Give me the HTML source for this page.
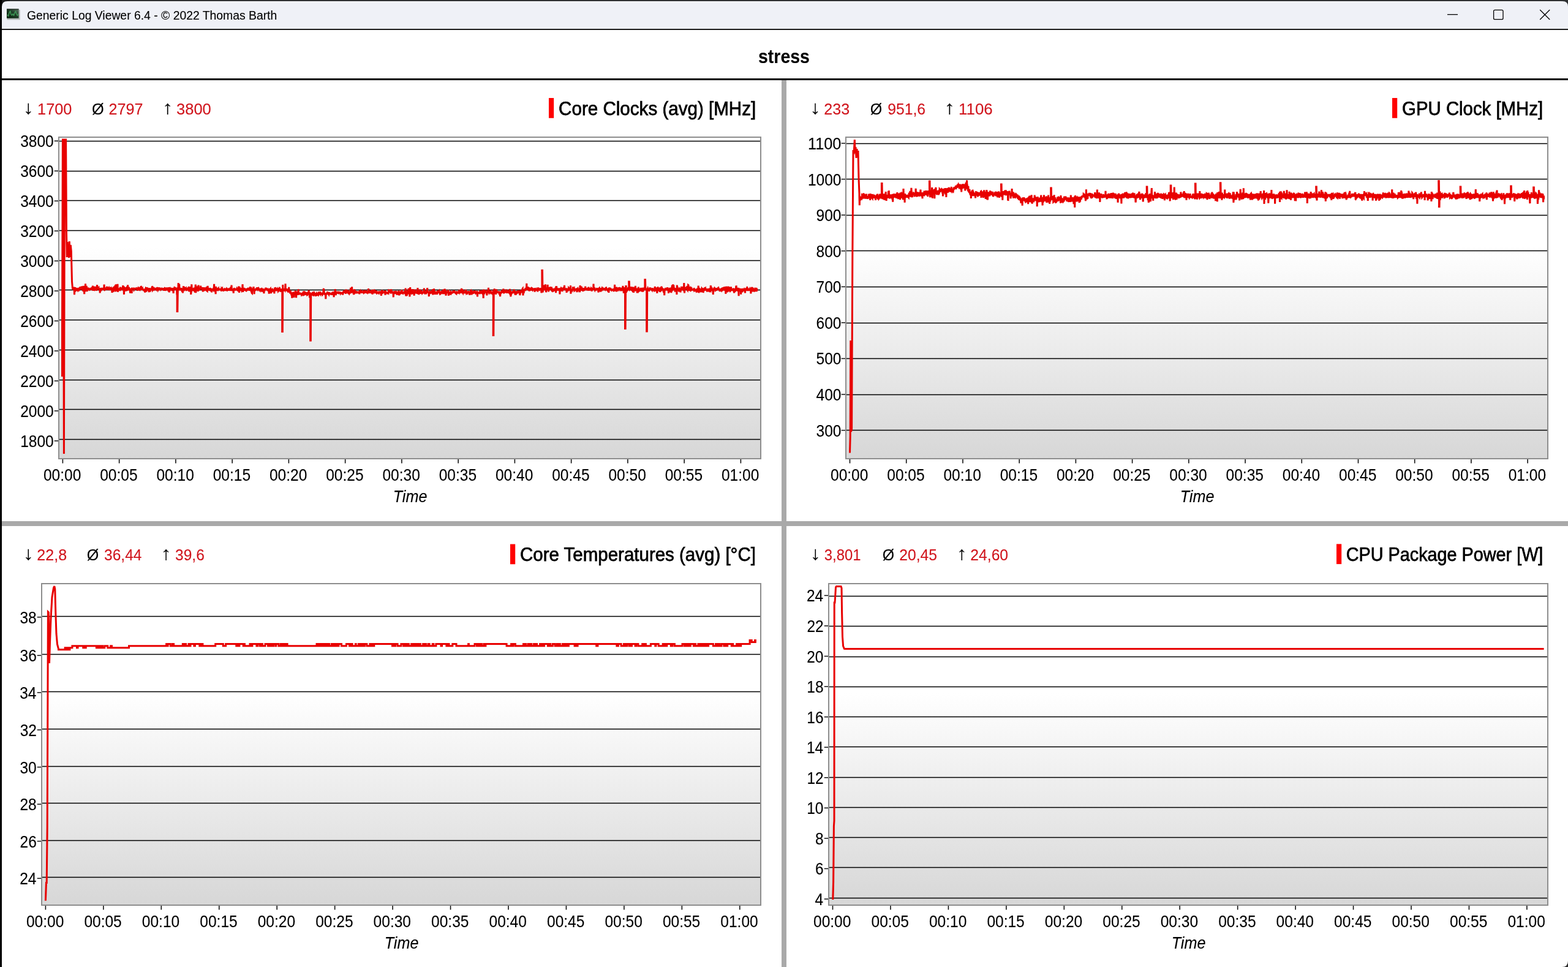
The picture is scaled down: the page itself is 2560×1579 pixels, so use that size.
<!DOCTYPE html>
<html><head><meta charset="utf-8"><title>Generic Log Viewer 6.4</title>
<style>
html,body{margin:0;padding:0;background:#fff;overflow:hidden;}
svg{display:block;}
text{font-family:'Liberation Sans', Arial, sans-serif;}
</style></head><body>
<svg width="2560" height="1579" viewBox="0 0 2560 1579">
<rect x="0" y="0" width="2560" height="1579" fill="#ffffff"/>
<rect x="0" y="0" width="2560" height="3" fill="#2f3133"/>
<rect x="0" y="0" width="16" height="16" fill="#1a1b1c"/>
<rect x="2544" y="0" width="16" height="16" fill="#2f3133"/>
<path d="M3 11 Q3 2 12 2 L2551 2 Q2560 2 2560 10.5 L2560 47 L3 47 Z" fill="#eff1f7"/>
<path d="M2560 1569 Q2560 1579 2550 1579 L2560 1579 Z" fill="#2a2a2a"/>
<rect x="13" y="2" width="2536" height="1" fill="#ffffff" opacity="0.8"/>
<rect x="3" y="47" width="2557" height="2" fill="#1c1c1c"/>
<rect x="0" y="0" width="3" height="1579" fill="#000000"/>
<defs><linearGradient id="icg" x1="0" y1="1" x2="1" y2="0"><stop offset="0" stop-color="#06200c"/><stop offset="0.55" stop-color="#1d3d26"/><stop offset="1" stop-color="#5d7465"/></linearGradient></defs>
<g><rect x="11.5" y="16" width="21.2" height="16.3" fill="#b4b8b8"/><rect x="11" y="14.6" width="19.6" height="15.2" fill="url(#icg)"/><rect x="11" y="14.6" width="19.6" height="1" fill="#101812"/><polyline points="12,24 13.5,26.5 15,21 16.6,18 18,23.5 19.5,25 21,22.5 22.5,25.5 24,21 25.5,18.3 27,23 28.5,25.5 30,22.5" fill="none" stroke="#3f9a58" stroke-width="1.4" stroke-linejoin="round"/></g>
<text x="44.03" y="31.80" font-size="20" fill="#000" text-anchor="start" font-weight="normal" font-style="normal" textLength="408.23" lengthAdjust="spacingAndGlyphs" stroke="#000" stroke-width="0.12">Generic Log Viewer 6.4 - © 2022 Thomas Barth</text>
<g stroke="#000" stroke-width="1.3" fill="none"><line x1="2363" y1="23.7" x2="2380" y2="23.7"/><rect x="2438.6" y="16.3" width="15.4" height="15.4" rx="2"/><line x1="2514.2" y1="16" x2="2530.2" y2="32"/><line x1="2530.2" y1="16" x2="2514.2" y2="32"/></g>
<text x="1238.00" y="102.50" font-size="32" fill="#000" text-anchor="start" font-weight="bold" font-style="normal" textLength="83.97" lengthAdjust="spacingAndGlyphs" stroke="#000" stroke-width="0.12">stress</text>
<rect x="3" y="128" width="2557" height="3" fill="#000"/>
<rect x="1276" y="131" width="8" height="1448" fill="#a9a9a9"/>
<rect x="3" y="851" width="2557" height="8" fill="#a9a9a9"/>
<defs><linearGradient id="pg" x1="0" y1="0" x2="0" y2="1"><stop offset="0" stop-color="#ffffff"/><stop offset="0.34" stop-color="#ffffff"/><stop offset="1" stop-color="#d7d7d7"/></linearGradient></defs>
<rect x="97" y="225" width="1144" height="523" fill="url(#pg)"/>
<rect x="97" y="229.75" width="1144" height="1.5" fill="#000"/>
<rect x="97" y="278.75" width="1144" height="1.5" fill="#000"/>
<rect x="97" y="326.75" width="1144" height="1.5" fill="#000"/>
<rect x="97" y="375.75" width="1144" height="1.5" fill="#000"/>
<rect x="97" y="424.75" width="1144" height="1.5" fill="#000"/>
<rect x="97" y="472.75" width="1144" height="1.5" fill="#000"/>
<rect x="97" y="521.75" width="1144" height="1.5" fill="#000"/>
<rect x="97" y="570.75" width="1144" height="1.5" fill="#000"/>
<rect x="97" y="619.75" width="1144" height="1.5" fill="#000"/>
<rect x="97" y="667.75" width="1144" height="1.5" fill="#000"/>
<rect x="97" y="716.75" width="1144" height="1.5" fill="#000"/>
<polyline points="101.5,615.0 101.5,534.0 102.4,228.0 103.2,228.0 104.4,741.0 105.6,228.0 107.6,228.0 108.5,380.0 109.2,420.0 110.0,395.0 110.8,418.0 111.6,398.0 112.5,421.0 113.3,394.0 114.2,420.0 115.3,400.0 116.3,410.0 117.5,460.0 118.6,472.0 118.6,471.5 119.0,471.3 119.3,473.2 119.7,471.5 120.0,470.2 120.4,472.0 120.8,469.9 121.1,469.9 121.5,481.3 121.8,472.1 122.2,469.1 122.6,472.6 122.9,469.6 123.3,471.3 123.6,471.6 124.0,471.5 124.4,473.8 124.7,473.5 125.1,472.9 125.4,470.4 125.8,472.6 126.2,472.9 126.5,473.4 126.9,470.9 127.2,473.2 127.6,473.4 128.0,469.8 128.3,475.4 128.7,473.4 129.0,471.7 129.4,470.6 129.8,471.8 130.1,470.3 130.5,470.1 130.8,470.0 131.2,468.2 131.6,473.4 131.9,470.8 132.3,470.4 132.6,473.0 133.0,469.9 133.4,470.9 133.7,467.5 134.1,469.9 134.4,470.5 134.8,471.0 135.2,473.4 135.5,471.8 135.9,475.9 136.2,466.9 136.6,472.5 137.0,470.3 137.3,473.1 137.7,480.2 138.0,470.5 138.4,470.6 138.8,474.2 139.1,470.3 139.5,463.3 139.8,469.5 140.2,476.1 140.6,471.6 140.9,470.3 141.3,466.9 141.6,473.5 142.0,472.3 142.4,475.9 142.7,469.6 143.1,472.4 143.4,469.7 143.8,471.5 144.2,470.9 144.5,469.9 144.9,472.5 145.2,472.5 145.6,472.8 146.0,471.0 146.3,473.2 146.7,471.3 147.0,473.0 147.4,472.1 147.8,471.9 148.1,469.9 148.5,473.6 148.8,472.5 149.2,472.5 149.6,471.4 149.9,469.9 150.3,469.7 150.6,470.2 151.0,472.1 151.4,466.6 151.7,470.8 152.1,474.8 152.4,471.4 152.8,470.9 153.2,470.4 153.5,472.8 153.9,473.1 154.2,471.9 154.6,470.1 155.0,473.0 155.3,472.5 155.7,467.8 156.0,472.2 156.4,472.1 156.8,470.9 157.1,473.5 157.5,473.5 157.8,471.9 158.2,470.9 158.6,465.2 158.9,472.7 159.3,467.9 159.6,472.1 160.0,472.1 160.4,472.9 160.7,470.1 161.1,469.7 161.4,472.8 161.8,470.7 162.2,472.4 162.5,472.1 162.9,471.2 163.2,478.5 163.6,470.2 164.0,472.1 164.3,471.1 164.7,473.2 165.0,473.4 165.4,469.9 165.8,472.5 166.1,472.2 166.5,470.5 166.8,473.6 167.2,471.8 167.6,470.9 167.9,473.1 168.3,470.0 168.6,471.8 169.0,472.1 169.4,471.6 169.7,471.0 170.1,464.5 170.4,473.0 170.8,473.4 171.2,472.9 171.5,470.5 171.9,470.8 172.2,472.2 172.6,473.0 173.0,470.9 173.3,473.0 173.7,470.5 174.0,473.5 174.4,467.8 174.8,471.1 175.1,473.5 175.5,471.3 175.8,471.9 176.2,468.8 176.6,473.5 176.9,470.7 177.3,470.2 177.6,472.9 178.0,471.6 178.4,470.4 178.7,472.5 179.1,473.7 179.4,472.4 179.8,471.1 180.2,470.1 180.5,470.2 180.9,473.1 181.2,471.8 181.6,471.2 182.0,473.2 182.3,472.2 182.7,473.1 183.0,478.0 183.4,472.7 183.8,473.3 184.1,471.0 184.5,470.6 184.8,473.6 185.2,476.5 185.6,473.0 185.9,468.4 186.3,472.9 186.6,472.4 187.0,467.5 187.4,471.7 187.7,470.2 188.1,466.0 188.4,470.6 188.8,476.3 189.2,464.4 189.5,470.0 189.9,471.6 190.2,471.0 190.6,471.8 191.0,470.0 191.3,470.4 191.7,472.7 192.0,463.9 192.4,476.8 192.8,472.5 193.1,472.2 193.5,472.1 193.8,473.7 194.2,470.8 194.6,472.7 194.9,473.0 195.3,473.3 195.6,472.5 196.0,472.8 196.4,468.6 196.7,471.1 197.1,469.8 197.4,472.3 197.8,470.7 198.2,472.4 198.5,472.4 198.9,471.9 199.2,473.7 199.6,472.5 200.0,469.2 200.3,470.8 200.7,466.0 201.0,471.2 201.4,471.9 201.8,473.6 202.1,473.7 202.5,480.8 202.8,472.1 203.2,469.9 203.6,470.4 203.9,470.4 204.3,475.7 204.6,471.9 205.0,469.9 205.4,472.4 205.7,470.9 206.1,471.0 206.4,470.4 206.8,471.3 207.2,473.8 207.5,473.7 207.9,470.1 208.2,471.5 208.6,465.3 209.0,472.7 209.3,473.7 209.7,470.9 210.0,472.3 210.4,468.8 210.8,471.5 211.1,471.3 211.5,472.1 211.8,472.9 212.2,473.8 212.6,478.5 212.9,472.9 213.3,476.2 213.6,472.5 214.0,472.1 214.4,472.9 214.7,473.4 215.1,478.9 215.4,470.9 215.8,470.9 216.2,470.1 216.5,472.0 216.9,471.3 217.2,470.6 217.6,472.8 218.0,469.7 218.3,473.0 218.7,470.4 219.0,473.0 219.4,472.4 219.8,471.1 220.1,472.8 220.5,471.5 220.8,470.2 221.2,471.4 221.6,472.1 221.9,472.8 222.3,470.7 222.6,470.1 223.0,472.7 223.4,469.5 223.7,471.2 224.1,470.1 224.4,473.5 224.8,473.5 225.2,473.0 225.5,471.1 225.9,473.6 226.2,470.8 226.6,471.3 227.0,471.4 227.3,470.6 227.7,473.0 228.0,473.2 228.4,470.5 228.8,468.8 229.1,469.9 229.5,472.0 229.8,473.7 230.2,467.0 230.6,468.3 230.9,472.8 231.3,470.2 231.6,470.4 232.0,473.6 232.4,471.9 232.7,471.4 233.1,473.7 233.4,471.8 233.8,472.7 234.2,473.5 234.5,473.1 234.9,473.3 235.2,473.2 235.6,473.7 236.0,471.9 236.3,473.1 236.7,477.6 237.0,472.8 237.4,472.4 237.8,471.0 238.1,470.1 238.5,470.3 238.8,476.6 239.2,470.1 239.6,472.2 239.9,471.0 240.3,470.8 240.6,474.5 241.0,473.4 241.4,471.1 241.7,473.1 242.1,470.9 242.4,473.5 242.8,472.1 243.2,477.1 243.5,470.1 243.9,473.1 244.2,472.0 244.6,471.0 245.0,476.6 245.3,471.4 245.7,472.7 246.0,470.8 246.4,474.1 246.8,472.4 247.1,470.9 247.5,470.5 247.8,469.9 248.2,473.3 248.6,467.0 248.9,468.7 249.3,473.7 249.6,473.3 250.0,473.0 250.4,474.1 250.7,469.0 251.1,470.5 251.4,471.1 251.8,470.2 252.2,471.8 252.5,471.3 252.9,470.3 253.2,471.7 253.6,473.2 254.0,469.9 254.3,471.6 254.7,472.2 255.0,469.9 255.4,470.9 255.8,471.4 256.1,471.1 256.5,471.5 256.8,468.9 257.2,472.8 257.6,473.7 257.9,472.8 258.3,474.2 258.6,472.6 259.0,470.6 259.4,473.3 259.7,471.5 260.1,469.4 260.4,473.6 260.8,472.0 261.2,473.0 261.5,471.5 261.9,472.3 262.2,471.5 262.6,473.8 263.0,472.6 263.3,470.0 263.7,471.3 264.0,470.3 264.4,472.0 264.8,473.2 265.1,470.6 265.5,473.5 265.8,471.3 266.2,470.5 266.6,473.9 266.9,472.8 267.3,470.7 267.6,474.8 268.0,472.2 268.4,471.3 268.7,471.4 269.1,470.4 269.4,470.5 269.8,472.1 270.2,473.5 270.5,473.6 270.9,473.2 271.2,470.4 271.6,471.1 272.0,470.9 272.3,471.9 272.7,469.7 273.0,473.9 273.4,472.6 273.8,472.6 274.1,471.5 274.5,474.4 274.8,470.5 275.2,476.1 275.6,469.1 275.9,471.2 276.3,477.4 276.6,471.8 277.0,472.5 277.4,473.0 277.7,471.9 278.1,473.3 278.4,471.6 278.8,472.2 279.2,472.1 279.5,471.7 279.9,470.0 280.2,472.9 280.6,472.9 281.0,473.0 281.3,475.1 281.7,472.0 282.0,470.2 282.4,474.8 282.8,471.2 283.1,478.9 283.5,472.6 283.8,471.7 284.2,470.9 284.6,472.3 284.9,470.4 285.3,470.5 285.6,468.8 286.0,470.4 286.4,473.6 286.7,471.6 287.1,473.5 287.4,470.1 287.8,471.2 288.2,473.7 288.5,469.6 288.9,481.4 289.2,473.3 289.2,508.5 289.8,508.5 290.2,480.5 290.5,470.8 290.9,470.8 291.2,462.1 291.6,472.9 292.0,473.6 292.3,470.0 292.7,463.8 293.0,470.9 293.4,474.0 293.8,472.7 294.1,471.5 294.5,473.6 294.8,471.0 295.2,473.8 295.6,471.2 295.9,470.4 296.3,471.8 296.6,474.6 297.0,472.4 297.4,476.9 297.7,472.3 298.1,470.8 298.4,478.5 298.8,471.9 299.2,471.6 299.5,467.2 299.9,471.5 300.2,473.2 300.6,472.1 301.0,472.8 301.3,472.1 301.7,471.2 302.0,471.9 302.4,473.2 302.8,471.1 303.1,471.0 303.5,470.5 303.8,472.5 304.2,472.4 304.6,475.0 304.9,471.9 305.3,471.2 305.6,470.4 306.0,472.4 306.4,473.8 306.7,470.7 307.1,470.3 307.4,472.6 307.8,471.2 308.2,470.5 308.5,473.8 308.9,473.5 309.2,470.4 309.6,476.3 310.0,468.0 310.3,474.5 310.7,472.0 311.0,471.9 311.4,470.5 311.8,480.9 312.1,473.2 312.5,473.7 312.8,464.3 313.2,471.6 313.6,474.1 313.9,470.4 314.3,474.8 314.6,471.6 315.0,473.7 315.4,473.8 315.7,471.8 316.1,471.7 316.4,471.1 316.8,471.0 317.2,471.8 317.5,471.5 317.9,474.2 318.2,477.6 318.6,470.5 319.0,468.2 319.3,464.6 319.7,478.2 320.0,474.8 320.4,473.3 320.8,472.6 321.1,471.5 321.5,470.6 321.8,471.6 322.2,470.3 322.6,472.1 322.9,471.2 323.3,475.9 323.6,472.3 324.0,465.6 324.4,471.4 324.7,471.9 325.1,472.9 325.4,474.4 325.8,470.4 326.2,472.6 326.5,470.3 326.9,471.2 327.2,473.0 327.6,466.7 328.0,469.6 328.3,470.6 328.7,471.6 329.0,473.0 329.4,471.9 329.8,471.0 330.1,469.2 330.5,470.9 330.8,473.1 331.2,476.3 331.6,471.9 331.9,470.6 332.3,470.6 332.6,472.7 333.0,474.9 333.4,473.9 333.7,471.4 334.1,471.1 334.4,472.8 334.8,471.8 335.2,474.1 335.5,472.9 335.9,472.0 336.2,471.5 336.6,473.9 337.0,474.5 337.3,470.9 337.7,471.6 338.0,475.2 338.4,475.5 338.8,470.4 339.1,466.8 339.5,472.6 339.8,472.7 340.2,474.3 340.6,471.8 340.9,471.7 341.3,473.2 341.6,474.3 342.0,471.1 342.4,472.4 342.7,472.1 343.1,473.4 343.4,470.4 343.8,474.5 344.2,475.2 344.5,470.9 344.9,473.5 345.2,471.1 345.6,477.3 346.0,471.5 346.3,473.7 346.7,472.7 347.0,471.8 347.4,473.8 347.8,472.8 348.1,473.3 348.5,473.8 348.8,471.0 349.2,470.0 349.6,463.9 349.9,470.0 350.3,473.3 350.6,473.0 351.0,474.2 351.4,470.7 351.7,469.7 352.1,480.2 352.4,467.9 352.8,472.0 353.2,473.7 353.5,471.7 353.9,473.0 354.2,474.5 354.6,473.3 355.0,472.6 355.3,473.7 355.7,471.4 356.0,470.0 356.4,472.2 356.8,471.5 357.1,473.3 357.5,474.1 357.8,471.3 358.2,472.5 358.6,471.4 358.9,472.5 359.3,473.8 359.6,470.8 360.0,473.2 360.4,471.7 360.7,474.0 361.1,472.4 361.4,475.7 361.8,471.4 362.2,472.0 362.5,471.8 362.9,471.2 363.2,472.7 363.6,473.8 364.0,472.2 364.3,473.9 364.7,474.4 365.0,474.4 365.4,474.1 365.8,472.5 366.1,472.2 366.5,473.3 366.8,472.1 367.2,474.7 367.6,471.0 367.9,471.8 368.3,473.6 368.6,474.9 369.0,472.1 369.4,470.7 369.7,472.3 370.1,472.8 370.4,471.5 370.8,472.0 371.2,471.1 371.5,472.4 371.9,471.6 372.2,474.7 372.6,471.8 373.0,474.5 373.3,471.4 373.7,472.3 374.0,470.6 374.4,473.2 374.8,474.1 375.1,472.7 375.5,471.2 375.8,473.5 376.2,473.4 376.6,468.5 376.9,470.0 377.3,473.2 377.6,473.1 378.0,465.5 378.4,473.7 378.7,473.7 379.1,472.4 379.4,471.3 379.8,474.9 380.2,474.1 380.5,474.5 380.9,473.9 381.2,478.6 381.6,471.8 382.0,472.6 382.3,470.1 382.7,471.9 383.0,471.1 383.4,473.9 383.8,471.7 384.1,474.2 384.5,473.0 384.8,472.9 385.2,470.9 385.6,474.3 385.9,472.5 386.3,472.4 386.6,473.3 387.0,471.1 387.4,471.6 387.7,474.3 388.1,471.6 388.4,470.9 388.8,476.0 389.2,473.2 389.5,470.2 389.9,467.6 390.2,474.6 390.6,477.8 391.0,473.8 391.3,472.1 391.7,471.4 392.0,472.5 392.4,472.5 392.8,472.9 393.1,472.2 393.5,471.8 393.8,472.0 394.2,472.0 394.6,473.6 394.9,474.6 395.3,473.9 395.6,472.5 396.0,464.2 396.4,472.1 396.7,476.8 397.1,474.7 397.4,472.6 397.8,474.2 398.2,473.3 398.5,471.3 398.9,471.3 399.2,472.4 399.6,473.6 400.0,474.5 400.3,471.0 400.7,472.8 401.0,472.8 401.4,473.6 401.8,474.8 402.1,474.9 402.5,474.3 402.8,473.7 403.2,471.2 403.6,472.6 403.9,471.8 404.3,471.8 404.6,471.5 405.0,472.3 405.4,471.6 405.7,473.5 406.1,472.0 406.4,473.9 406.8,471.5 407.2,471.0 407.5,474.8 407.9,471.1 408.2,473.1 408.6,471.4 409.0,472.2 409.3,471.5 409.7,468.5 410.0,473.9 410.4,473.5 410.8,473.2 411.1,478.3 411.5,478.7 411.8,472.6 412.2,474.5 412.6,471.9 412.9,471.6 413.3,474.0 413.6,471.7 414.0,468.2 414.4,473.6 414.7,471.2 415.1,480.3 415.4,471.5 415.8,472.4 416.2,473.7 416.5,474.8 416.9,473.1 417.2,472.5 417.6,472.5 418.0,473.0 418.3,472.8 418.7,471.3 419.0,471.3 419.4,473.3 419.8,469.2 420.1,472.6 420.5,473.0 420.8,471.1 421.2,470.8 421.6,473.5 421.9,472.6 422.3,472.6 422.6,473.5 423.0,472.4 423.4,473.2 423.7,471.3 424.1,474.3 424.4,474.6 424.8,472.3 425.2,471.5 425.5,474.5 425.9,472.4 426.2,474.3 426.6,471.4 427.0,471.3 427.3,473.4 427.7,476.6 428.0,474.9 428.4,473.2 428.8,473.9 429.1,471.1 429.5,474.3 429.8,474.2 430.2,473.0 430.6,471.6 430.9,479.2 431.3,473.8 431.6,476.2 432.0,472.4 432.4,473.4 432.7,472.0 433.1,473.3 433.4,471.7 433.8,469.9 434.2,473.9 434.5,473.2 434.9,472.8 435.2,471.6 435.6,471.9 436.0,472.0 436.3,471.9 436.7,473.6 437.0,472.8 437.4,474.6 437.8,473.6 438.1,475.2 438.5,475.5 438.8,472.3 439.2,479.7 439.6,472.8 439.9,473.0 440.3,473.5 440.6,474.9 441.0,475.8 441.4,471.8 441.7,471.4 442.1,473.5 442.4,479.1 442.8,475.1 443.2,475.0 443.5,472.1 443.9,471.3 444.2,474.3 444.6,474.9 445.0,474.0 445.3,475.1 445.7,472.5 446.0,474.2 446.4,474.2 446.8,475.3 447.1,475.5 447.5,472.4 447.8,479.3 448.2,473.8 448.6,474.3 448.9,474.0 449.3,469.0 449.6,471.5 450.0,472.8 450.4,472.3 450.7,472.8 451.1,475.1 451.4,473.6 451.8,472.3 452.2,471.8 452.5,475.3 452.9,472.7 453.2,475.3 453.6,474.2 454.0,471.5 454.3,475.3 454.7,474.8 455.0,472.3 455.4,470.2 455.8,472.8 456.1,474.2 456.5,468.7 456.8,475.3 457.2,471.9 457.6,472.7 457.9,475.2 458.3,475.2 458.6,474.8 459.0,471.5 459.4,473.8 459.7,473.9 460.1,475.5 460.4,473.5 460.8,477.7 460.7,541.5 461.3,541.5 461.7,464.9 462.0,474.8 462.4,473.5 462.7,474.5 463.1,474.1 463.5,474.8 463.8,472.8 464.2,471.5 464.5,472.5 464.9,473.6 465.3,474.2 465.6,472.4 466.0,463.2 466.3,472.5 466.7,474.6 467.1,472.4 467.4,472.5 467.8,472.5 468.1,471.2 468.5,474.4 468.9,474.7 469.2,471.8 469.6,475.5 469.9,473.2 470.3,473.3 470.7,475.9 471.0,475.7 471.4,474.3 471.7,468.8 472.1,476.1 472.5,476.1 472.8,474.6 473.2,478.2 473.5,476.2 473.9,479.6 474.3,477.5 474.6,477.1 475.0,479.7 475.3,477.8 475.7,481.2 476.1,481.8 476.4,478.3 476.8,486.7 477.1,478.6 477.5,478.5 477.9,480.1 478.2,481.0 478.6,483.9 478.9,476.6 479.3,481.7 479.7,478.6 480.0,485.9 480.4,481.1 480.7,479.8 481.1,481.3 481.5,478.7 481.8,482.2 482.2,474.5 482.5,478.6 482.9,480.0 483.3,479.9 483.6,486.1 484.0,478.0 484.3,475.6 484.7,479.8 485.1,479.2 485.4,481.5 485.8,479.6 486.1,479.8 486.5,479.2 486.9,481.7 487.2,472.4 487.6,478.5 487.9,479.0 488.3,480.6 488.7,478.3 489.0,479.3 489.4,479.9 489.7,479.9 490.1,477.9 490.5,479.0 490.8,480.4 491.2,478.2 491.5,479.8 491.9,480.3 492.3,481.6 492.6,481.2 493.0,478.9 493.3,479.9 493.7,480.1 494.1,479.8 494.4,479.0 494.8,479.9 495.1,481.9 495.5,481.8 495.9,480.6 496.2,480.7 496.6,475.4 496.9,481.1 497.3,478.8 497.7,477.9 498.0,479.2 498.4,480.3 498.7,481.6 499.1,478.1 499.5,478.3 499.8,481.3 500.2,478.6 500.5,480.8 500.9,480.1 501.3,481.3 501.6,480.9 502.0,480.1 502.3,480.4 502.7,479.3 503.1,476.6 503.4,477.4 503.8,480.6 504.1,473.9 504.5,478.5 504.9,480.5 505.2,479.1 505.6,486.2 505.9,481.6 506.3,477.6 506.7,479.9 506.7,556.0 507.3,556.0 507.7,477.9 508.0,479.9 508.4,482.2 508.7,478.7 509.1,482.5 509.5,479.2 509.8,481.5 510.2,479.4 510.5,478.7 510.9,476.6 511.3,480.8 511.6,480.3 512.0,483.6 512.3,479.9 512.7,479.9 513.1,478.3 513.4,478.8 513.8,480.6 514.1,480.8 514.5,480.5 514.9,478.2 515.2,479.6 515.6,483.8 515.9,480.5 516.3,478.2 516.7,480.0 517.0,479.3 517.4,480.4 517.7,477.9 518.1,479.4 518.5,482.8 518.8,481.1 519.2,481.5 519.5,479.6 519.9,478.9 520.3,478.1 520.6,478.5 521.0,479.7 521.3,479.2 521.7,478.7 522.1,480.5 522.4,479.1 522.8,479.4 523.1,480.1 523.5,478.8 523.9,479.4 524.2,481.1 524.6,479.1 524.9,481.5 525.3,479.2 525.7,479.1 526.0,480.2 526.4,479.3 526.7,478.5 527.1,479.8 527.5,479.0 527.8,477.7 528.2,472.0 528.5,471.0 528.9,478.4 529.3,477.8 529.6,480.9 530.0,479.1 530.3,480.4 530.7,480.6 531.1,478.6 531.4,479.8 531.8,488.3 532.1,480.7 532.5,480.5 532.9,478.7 533.2,479.7 533.6,478.2 533.9,481.1 534.3,478.7 534.7,476.1 535.0,479.7 535.4,479.8 535.7,478.9 536.1,477.8 536.5,480.3 536.8,480.8 537.2,478.6 537.5,477.2 537.9,479.0 538.3,478.1 538.6,481.0 539.0,479.6 539.3,480.7 539.7,478.6 540.1,481.3 540.4,480.7 540.8,478.2 541.1,480.2 541.5,477.7 541.9,479.0 542.2,479.5 542.6,481.6 542.9,478.0 543.3,477.7 543.7,478.4 544.0,478.7 544.4,480.6 544.7,477.6 545.1,485.1 545.5,477.7 545.8,477.7 546.2,476.9 546.5,476.9 546.9,478.8 547.3,472.1 547.6,478.0 548.0,478.9 548.3,482.2 548.7,477.8 549.1,479.0 549.4,477.6 549.8,477.4 550.1,477.7 550.5,477.1 550.9,477.4 551.2,477.8 551.6,479.4 551.9,478.1 552.3,479.5 552.7,478.4 553.0,478.6 553.4,477.5 553.7,477.8 554.1,477.9 554.5,478.8 554.8,476.3 555.2,478.8 555.5,477.6 555.9,479.0 556.3,478.2 556.6,478.4 557.0,477.0 557.3,478.9 557.7,479.0 558.1,480.0 558.4,477.3 558.8,478.6 559.1,478.3 559.5,481.2 559.9,480.4 560.2,477.3 560.6,476.7 560.9,477.4 561.3,475.7 561.7,478.6 562.0,475.9 562.4,477.2 562.7,477.3 563.1,473.7 563.5,475.3 563.8,476.4 564.2,475.2 564.5,479.8 564.9,472.7 565.3,475.2 565.6,477.7 566.0,476.9 566.3,476.7 566.7,475.1 567.1,475.0 567.4,477.3 567.8,477.8 568.1,477.0 568.5,473.7 568.9,478.7 569.2,475.5 569.6,478.4 569.9,479.0 570.3,477.6 570.7,477.9 571.0,475.3 571.4,476.6 571.7,478.2 572.1,479.0 572.5,469.7 572.8,475.8 573.2,477.1 573.5,472.9 573.9,475.8 574.3,475.4 574.6,468.4 575.0,477.5 575.3,478.1 575.7,475.3 576.1,477.1 576.4,477.7 576.8,473.0 577.1,478.5 577.5,481.0 577.9,477.8 578.2,475.9 578.6,472.3 578.9,475.7 579.3,477.1 579.7,476.2 580.0,477.3 580.4,478.6 580.7,476.7 581.1,479.3 581.5,476.6 581.8,476.6 582.2,478.1 582.5,478.1 582.9,477.9 583.3,475.8 583.6,478.5 584.0,475.6 584.3,478.1 584.7,476.6 585.1,478.9 585.4,477.4 585.8,479.1 586.1,477.7 586.5,475.7 586.9,480.3 587.2,476.2 587.6,476.4 587.9,475.9 588.3,478.5 588.7,476.2 589.0,475.8 589.4,475.4 589.7,474.0 590.1,475.1 590.5,476.2 590.8,477.1 591.2,477.1 591.5,478.6 591.9,476.8 592.3,476.7 592.6,478.1 593.0,475.3 593.3,478.3 593.7,476.0 594.1,473.8 594.4,478.1 594.8,477.8 595.1,476.6 595.5,475.3 595.9,478.4 596.2,477.3 596.6,476.1 596.9,475.4 597.3,474.0 597.7,477.6 598.0,476.2 598.4,477.8 598.7,478.7 599.1,477.5 599.5,477.9 599.8,476.3 600.2,477.7 600.5,475.2 600.9,476.2 601.3,477.2 601.6,471.1 602.0,479.1 602.3,476.3 602.7,477.2 603.1,476.8 603.4,477.1 603.8,477.1 604.1,475.8 604.5,475.9 604.9,475.8 605.2,477.6 605.6,475.1 605.9,476.7 606.3,479.2 606.7,473.0 607.0,478.8 607.4,475.5 607.7,476.1 608.1,480.6 608.5,475.8 608.8,474.4 609.2,477.8 609.5,478.8 609.9,472.8 610.3,476.4 610.6,476.0 611.0,475.5 611.3,479.0 611.7,476.5 612.1,478.8 612.4,475.4 612.8,475.8 613.1,479.0 613.5,476.2 613.9,474.0 614.2,478.2 614.6,476.6 614.9,478.0 615.3,478.9 615.7,478.5 616.0,477.8 616.4,478.0 616.7,479.1 617.1,475.8 617.5,477.6 617.8,478.3 618.2,478.7 618.5,476.9 618.9,476.7 619.3,476.7 619.6,476.7 620.0,478.6 620.3,478.0 620.7,476.8 621.1,476.3 621.4,475.7 621.8,478.9 622.1,480.0 622.5,482.8 622.9,476.3 623.2,476.2 623.6,476.7 623.9,473.5 624.3,479.5 624.7,477.8 625.0,477.6 625.4,478.4 625.7,475.3 626.1,477.7 626.5,475.4 626.8,476.7 627.2,476.7 627.5,478.8 627.9,475.8 628.3,475.6 628.6,476.7 629.0,481.7 629.3,478.9 629.7,478.3 630.1,477.2 630.4,477.7 630.8,477.4 631.1,477.4 631.5,478.1 631.9,478.5 632.2,477.7 632.6,479.1 632.9,477.1 633.3,478.2 633.7,478.4 634.0,478.7 634.4,475.3 634.7,475.7 635.1,476.2 635.5,478.0 635.8,472.6 636.2,476.4 636.5,474.3 636.9,477.5 637.3,475.3 637.6,478.7 638.0,476.0 638.3,479.5 638.7,472.4 639.1,476.7 639.4,479.0 639.8,475.8 640.1,476.3 640.5,478.2 640.9,477.1 641.2,477.2 641.6,477.2 641.9,478.2 642.3,485.3 642.7,475.5 643.0,480.1 643.4,479.1 643.7,475.5 644.1,476.8 644.5,475.9 644.8,478.7 645.2,477.9 645.5,475.4 645.9,476.3 646.3,479.7 646.6,478.4 647.0,476.6 647.3,476.8 647.7,481.4 648.1,478.6 648.4,477.8 648.8,481.5 649.1,478.5 649.5,476.6 649.9,478.7 650.2,476.2 650.6,478.8 650.9,474.6 651.3,479.2 651.7,482.3 652.0,476.4 652.4,477.8 652.7,477.0 653.1,477.0 653.5,477.0 653.8,478.1 654.2,477.4 654.5,475.6 654.9,478.8 655.3,479.8 655.6,477.2 656.0,473.2 656.3,478.5 656.7,477.4 657.1,478.4 657.4,478.6 657.8,479.0 658.1,478.1 658.5,477.5 658.9,477.5 659.2,478.9 659.6,477.8 659.9,475.6 660.3,476.9 660.7,476.1 661.0,476.0 661.4,477.4 661.7,476.7 662.1,470.5 662.5,478.4 662.8,483.5 663.2,481.1 663.5,479.2 663.9,475.6 664.3,483.1 664.6,475.9 665.0,476.5 665.3,475.9 665.7,477.1 666.1,477.2 666.4,479.2 666.8,479.1 667.1,470.8 667.5,477.3 667.9,477.9 668.2,479.4 668.6,477.0 668.9,484.5 669.3,478.2 669.7,469.0 670.0,479.3 670.4,478.3 670.7,478.4 671.1,472.3 671.5,476.8 671.8,476.1 672.2,475.5 672.5,479.3 672.9,479.2 673.3,478.9 673.6,477.0 674.0,472.0 674.3,475.7 674.7,477.4 675.1,479.4 675.4,478.2 675.8,478.3 676.1,482.7 676.5,478.7 676.9,476.3 677.2,478.2 677.6,472.5 677.9,477.5 678.3,477.2 678.7,479.1 679.0,475.6 679.4,477.9 679.7,478.0 680.1,479.4 680.5,474.8 680.8,478.2 681.2,478.7 681.5,478.7 681.9,470.1 682.3,478.0 682.6,478.9 683.0,479.4 683.3,479.4 683.7,478.9 684.1,479.5 684.4,479.1 684.8,475.5 685.1,476.9 685.5,472.7 685.9,477.0 686.2,476.0 686.6,477.2 686.9,476.8 687.3,476.3 687.7,479.8 688.0,476.7 688.4,476.6 688.7,476.3 689.1,476.6 689.5,478.7 689.8,478.3 690.2,478.9 690.5,475.6 690.9,479.4 691.3,476.1 691.6,478.0 692.0,476.0 692.3,470.6 692.7,479.4 693.1,475.7 693.4,474.9 693.8,476.7 694.1,479.1 694.5,479.0 694.9,476.5 695.2,475.8 695.6,480.4 695.9,478.3 696.3,475.5 696.7,475.7 697.0,478.7 697.4,472.9 697.7,470.2 698.1,476.8 698.5,478.3 698.8,476.8 699.2,477.8 699.5,475.8 699.9,476.8 700.3,484.2 700.6,475.4 701.0,478.4 701.3,478.4 701.7,477.9 702.1,480.2 702.4,476.9 702.8,477.4 703.1,476.9 703.5,476.7 703.9,478.3 704.2,475.5 704.6,478.1 704.9,478.2 705.3,475.8 705.7,476.0 706.0,479.1 706.4,472.2 706.7,481.5 707.1,475.6 707.5,475.3 707.8,477.2 708.2,480.0 708.5,471.4 708.9,476.5 709.3,476.4 709.6,480.9 710.0,477.6 710.3,478.3 710.7,479.5 711.1,476.5 711.4,475.8 711.8,481.0 712.1,475.9 712.5,478.8 712.9,477.0 713.2,476.1 713.6,481.0 713.9,475.7 714.3,477.8 714.7,475.9 715.0,476.0 715.4,477.8 715.7,478.6 716.1,475.9 716.5,476.0 716.8,475.5 717.2,478.1 717.5,477.3 717.9,478.7 718.3,477.9 718.6,478.4 719.0,480.3 719.3,477.1 719.7,479.3 720.1,478.9 720.4,476.5 720.8,475.6 721.1,479.2 721.5,476.0 721.9,475.6 722.2,475.7 722.6,478.6 722.9,478.8 723.3,478.3 723.7,472.5 724.0,478.3 724.4,478.1 724.7,478.7 725.1,478.8 725.5,478.6 725.8,478.0 726.2,471.5 726.5,477.1 726.9,479.1 727.3,473.0 727.6,477.7 728.0,482.6 728.3,480.0 728.7,475.4 729.1,476.3 729.4,479.0 729.8,476.5 730.1,476.5 730.5,476.4 730.9,478.1 731.2,476.7 731.6,475.8 731.9,473.3 732.3,482.8 732.7,475.9 733.0,476.4 733.4,479.1 733.7,478.7 734.1,477.8 734.5,477.8 734.8,476.6 735.2,481.3 735.5,477.9 735.9,481.6 736.3,477.1 736.6,477.5 737.0,477.8 737.3,478.0 737.7,478.1 738.1,475.8 738.4,478.9 738.8,476.5 739.1,477.4 739.5,476.0 739.9,475.2 740.2,478.5 740.6,474.4 740.9,477.8 741.3,474.0 741.7,477.2 742.0,476.2 742.4,477.7 742.7,477.8 743.1,475.7 743.5,478.3 743.8,476.1 744.2,479.2 744.5,479.3 744.9,479.6 745.3,475.4 745.6,478.2 746.0,478.4 746.3,478.3 746.7,477.8 747.1,478.0 747.4,475.7 747.8,478.1 748.1,479.2 748.5,476.0 748.9,478.4 749.2,476.7 749.6,477.4 749.9,475.6 750.3,475.3 750.7,478.9 751.0,477.8 751.4,475.9 751.7,477.1 752.1,475.7 752.5,477.2 752.8,478.5 753.2,476.6 753.5,470.8 753.9,475.5 754.3,475.1 754.6,472.4 755.0,479.1 755.3,477.8 755.7,478.5 756.1,476.2 756.4,477.5 756.8,476.3 757.1,477.0 757.5,476.3 757.9,476.3 758.2,477.0 758.6,477.6 758.9,477.5 759.3,479.1 759.7,475.6 760.0,476.5 760.4,472.8 760.7,477.2 761.1,476.5 761.5,476.5 761.8,479.1 762.2,478.7 762.5,478.9 762.9,476.2 763.3,477.3 763.6,479.0 764.0,476.1 764.3,477.1 764.7,475.4 765.1,477.3 765.4,476.2 765.8,477.6 766.1,479.2 766.5,479.2 766.9,481.7 767.2,478.3 767.6,475.6 767.9,476.4 768.3,475.8 768.7,479.2 769.0,477.0 769.4,478.0 769.7,474.5 770.1,481.3 770.5,476.0 770.8,476.4 771.2,477.0 771.5,479.0 771.9,478.3 772.3,479.9 772.6,477.9 773.0,478.0 773.3,477.3 773.7,476.8 774.1,475.3 774.4,477.0 774.8,474.1 775.1,477.6 775.5,478.0 775.9,478.4 776.2,475.6 776.6,480.1 776.9,476.9 777.3,478.1 777.7,475.3 778.0,479.1 778.4,475.3 778.7,479.7 779.1,478.9 779.5,484.5 779.8,477.2 780.2,477.6 780.5,477.6 780.9,477.6 781.3,477.7 781.6,477.8 782.0,478.6 782.3,478.7 782.7,478.5 783.1,478.0 783.4,480.2 783.8,474.4 784.1,477.6 784.5,476.2 784.9,478.0 785.2,476.5 785.6,477.0 785.9,477.7 786.3,478.3 786.7,478.1 787.0,477.0 787.4,477.8 787.7,478.5 788.1,477.4 788.5,473.7 788.8,476.3 789.2,486.9 789.5,472.8 789.9,475.3 790.3,480.4 790.6,478.5 791.0,475.9 791.3,475.6 791.7,477.2 792.1,476.3 792.4,473.7 792.8,475.4 793.1,477.5 793.5,476.8 793.9,478.1 794.2,477.5 794.6,477.6 794.9,482.3 795.3,478.9 795.7,476.0 796.0,477.7 796.4,473.4 796.7,476.6 797.1,476.5 797.5,469.8 797.8,476.8 798.2,477.6 798.5,476.3 798.9,476.5 799.3,476.1 799.6,476.9 800.0,475.4 800.3,476.5 800.7,475.8 801.1,475.5 801.4,476.6 801.8,476.9 802.1,478.7 802.5,478.5 802.9,478.9 803.2,479.8 803.6,476.6 803.9,477.7 804.3,476.8 804.7,478.5 805.0,475.7 805.4,476.1 805.2,547.5 805.8,547.5 806.2,476.8 806.5,475.5 806.9,476.4 807.2,471.3 807.6,477.7 808.0,476.4 808.3,477.1 808.7,480.0 809.0,477.0 809.4,480.6 809.8,478.9 810.1,475.5 810.5,472.4 810.8,478.3 811.2,477.2 811.6,475.2 811.9,476.7 812.3,475.5 812.6,477.4 813.0,475.4 813.4,478.9 813.7,477.3 814.1,477.5 814.4,475.8 814.8,476.9 815.2,479.9 815.5,481.0 815.9,478.2 816.2,476.3 816.6,484.1 817.0,478.6 817.3,478.9 817.7,479.9 818.0,476.8 818.4,476.7 818.8,476.5 819.1,475.9 819.5,476.8 819.8,474.8 820.2,477.0 820.6,477.5 820.9,478.2 821.3,476.6 821.6,476.0 822.0,471.5 822.4,478.5 822.7,475.8 823.1,477.7 823.4,477.5 823.8,477.1 824.2,477.0 824.5,475.2 824.9,478.4 825.2,475.8 825.6,475.8 826.0,472.7 826.3,476.7 826.7,477.7 827.0,476.1 827.4,476.8 827.8,478.8 828.1,476.9 828.5,478.0 828.8,475.3 829.2,478.1 829.6,475.5 829.9,475.8 830.3,477.5 830.6,475.4 831.0,478.9 831.4,475.2 831.7,478.5 832.1,479.6 832.4,471.9 832.8,479.5 833.2,481.7 833.5,475.7 833.9,484.4 834.2,478.9 834.6,480.6 835.0,478.0 835.3,478.4 835.7,477.1 836.0,476.9 836.4,477.6 836.8,477.4 837.1,476.1 837.5,478.6 837.8,475.2 838.2,477.5 838.6,477.3 838.9,476.1 839.3,472.5 839.6,476.5 840.0,477.2 840.4,475.2 840.7,478.0 841.1,477.4 841.4,476.2 841.8,479.8 842.2,481.7 842.5,477.4 842.9,475.3 843.2,477.1 843.6,476.8 844.0,477.0 844.3,477.4 844.7,476.1 845.0,476.0 845.4,475.8 845.8,478.0 846.1,477.1 846.5,479.0 846.8,475.1 847.2,474.4 847.6,477.6 847.9,478.7 848.3,477.1 848.6,481.9 849.0,480.9 849.4,478.9 849.7,478.1 850.1,473.7 850.4,474.9 850.8,476.0 851.2,475.6 851.5,474.6 851.9,477.8 852.2,476.7 852.6,476.8 853.0,471.6 853.3,471.2 853.7,478.2 854.0,482.5 854.4,473.7 854.8,475.0 855.1,478.8 855.5,475.0 855.8,474.5 856.2,472.2 856.6,473.1 856.9,473.4 857.3,473.6 857.6,471.7 858.0,470.5 858.4,472.1 858.7,474.0 859.1,470.0 859.4,472.8 859.8,462.9 860.2,473.2 860.5,472.2 860.9,468.5 861.2,470.1 861.6,473.5 862.0,471.8 862.3,471.2 862.7,472.5 863.0,472.3 863.4,470.2 863.8,470.4 864.1,475.4 864.5,473.9 864.8,470.0 865.2,471.5 865.6,474.2 865.9,472.4 866.3,473.7 866.6,472.0 867.0,471.4 867.4,473.1 867.7,473.0 868.1,470.7 868.4,470.5 868.8,471.0 869.2,473.3 869.5,473.7 869.9,472.8 870.2,472.8 870.6,472.4 871.0,472.2 871.3,473.8 871.7,470.8 872.0,471.3 872.4,473.9 872.8,471.6 873.1,476.7 873.5,472.8 873.8,470.4 874.2,472.5 874.6,472.1 874.9,474.0 875.3,471.8 875.6,472.7 876.0,474.7 876.4,473.3 876.7,470.9 877.1,473.6 877.4,472.4 877.8,476.3 878.2,469.4 878.5,471.2 878.9,473.7 879.2,470.0 879.6,472.6 880.0,473.9 880.3,472.5 880.7,472.3 881.0,473.1 881.4,472.8 881.8,470.6 882.1,474.0 882.5,472.2 882.8,470.2 883.2,473.2 883.6,471.4 883.9,478.3 884.3,476.4 884.6,470.8 885.0,473.2 884.9,441.5 885.5,441.5 885.9,474.2 886.2,477.5 886.6,470.4 886.9,471.7 887.3,465.3 887.7,472.6 888.0,470.6 888.4,471.5 888.7,472.5 889.1,473.7 889.5,470.6 889.8,470.4 890.2,471.0 890.5,464.4 890.9,473.1 891.3,470.3 891.6,477.3 892.0,471.0 892.3,471.2 892.7,472.3 893.1,473.8 893.4,471.2 893.8,473.0 894.1,464.9 894.5,471.8 894.9,472.0 895.2,471.1 895.6,476.3 895.9,471.1 896.3,470.9 896.7,473.4 897.0,473.9 897.4,468.9 897.7,470.9 898.1,472.1 898.5,473.4 898.8,468.2 899.2,470.1 899.5,470.6 899.9,470.9 900.3,470.8 900.6,470.6 901.0,474.2 901.3,474.1 901.7,473.1 902.1,474.0 902.4,477.0 902.8,472.1 903.1,474.1 903.5,471.1 903.9,473.9 904.2,470.9 904.6,473.3 904.9,475.6 905.3,473.2 905.7,472.1 906.0,473.8 906.4,471.7 906.7,470.8 907.1,470.2 907.5,478.2 907.8,470.7 908.2,471.2 908.5,467.1 908.9,470.6 909.3,472.4 909.6,471.8 910.0,471.2 910.3,470.5 910.7,474.4 911.1,473.4 911.4,470.7 911.8,474.0 912.1,473.3 912.5,472.4 912.9,471.4 913.2,473.3 913.6,470.4 913.9,480.5 914.3,473.3 914.7,471.5 915.0,474.4 915.4,473.0 915.7,472.0 916.1,472.7 916.5,470.9 916.8,471.3 917.2,473.2 917.5,473.8 917.9,474.1 918.3,469.6 918.6,470.6 919.0,473.9 919.3,470.5 919.7,471.5 920.1,472.7 920.4,468.9 920.8,472.1 921.1,471.8 921.5,465.8 921.9,473.3 922.2,471.5 922.6,471.4 922.9,470.6 923.3,473.0 923.7,473.1 924.0,470.8 924.4,472.6 924.7,470.3 925.1,477.8 925.5,471.0 925.8,475.6 926.2,473.7 926.5,472.5 926.9,475.8 927.3,471.7 927.6,473.9 928.0,472.7 928.3,470.5 928.7,471.1 929.1,472.8 929.4,474.3 929.8,471.7 930.1,472.1 930.5,470.9 930.9,475.0 931.2,473.1 931.6,466.2 931.9,479.7 932.3,474.2 932.7,473.0 933.0,472.7 933.4,472.1 933.7,476.0 934.1,472.2 934.5,473.3 934.8,472.5 935.2,472.2 935.5,468.4 935.9,474.4 936.3,470.7 936.6,474.1 937.0,471.2 937.3,470.8 937.7,474.1 938.1,473.6 938.4,473.1 938.8,473.8 939.1,473.3 939.5,473.0 939.9,472.5 940.2,472.1 940.6,472.0 940.9,473.1 941.3,474.0 941.7,471.1 942.0,477.2 942.4,472.1 942.7,471.5 943.1,471.1 943.5,473.4 943.8,473.0 944.2,473.4 944.5,474.2 944.9,472.3 945.3,473.5 945.6,472.9 946.0,477.1 946.3,470.3 946.7,477.1 947.1,466.0 947.4,472.9 947.8,470.9 948.1,471.1 948.5,472.6 948.9,473.9 949.2,467.6 949.6,473.6 949.9,474.4 950.3,473.1 950.7,471.5 951.0,471.4 951.4,473.6 951.7,474.8 952.1,475.7 952.5,470.3 952.8,471.8 953.2,473.5 953.5,473.3 953.9,470.5 954.3,471.9 954.6,472.5 955.0,471.9 955.3,473.6 955.7,467.6 956.1,471.3 956.4,471.8 956.8,474.1 957.1,471.7 957.5,472.3 957.9,472.3 958.2,473.0 958.6,471.0 958.9,472.0 959.3,471.5 959.7,474.1 960.0,472.1 960.4,473.4 960.7,474.3 961.1,468.6 961.5,472.2 961.8,474.7 962.2,471.0 962.5,472.3 962.9,472.2 963.3,473.0 963.6,470.5 964.0,471.3 964.3,472.1 964.7,474.1 965.1,472.8 965.4,470.7 965.8,471.1 966.1,475.6 966.5,470.7 966.9,472.1 967.2,472.6 967.6,472.6 967.9,472.1 968.3,473.3 968.7,471.4 969.0,463.5 969.4,473.7 969.7,472.7 970.1,469.6 970.5,472.1 970.8,472.5 971.2,473.5 971.5,472.7 971.9,473.9 972.3,471.0 972.6,473.0 973.0,473.3 973.3,473.1 973.7,472.8 974.1,473.9 974.4,471.9 974.8,470.1 975.1,472.7 975.5,470.6 975.9,473.8 976.2,472.9 976.6,471.9 976.9,477.5 977.3,473.3 977.7,476.0 978.0,470.8 978.4,470.4 978.7,472.7 979.1,472.5 979.5,472.8 979.8,473.2 980.2,473.6 980.5,476.3 980.9,475.0 981.3,470.1 981.6,474.4 982.0,471.3 982.3,471.8 982.7,470.9 983.1,472.1 983.4,471.3 983.8,470.8 984.1,470.6 984.5,471.6 984.9,472.1 985.2,473.9 985.6,470.2 985.9,471.8 986.3,471.9 986.7,472.2 987.0,471.1 987.4,472.6 987.7,473.3 988.1,471.2 988.5,470.8 988.8,472.0 989.2,471.2 989.5,471.6 989.9,471.0 990.3,472.5 990.6,473.8 991.0,470.8 991.3,473.0 991.7,474.1 992.1,474.6 992.4,471.9 992.8,473.7 993.1,473.8 993.5,472.0 993.9,478.0 994.2,469.8 994.6,470.4 994.9,472.4 995.3,472.6 995.7,473.4 996.0,471.5 996.4,471.3 996.7,472.1 997.1,473.4 997.5,471.0 997.8,472.9 998.2,472.7 998.5,471.9 998.9,473.7 999.3,473.3 999.6,471.8 1000.0,472.7 1000.3,472.7 1000.7,473.5 1001.1,474.0 1001.4,473.1 1001.8,471.2 1002.1,472.7 1002.5,471.4 1002.9,475.7 1003.2,473.2 1003.6,464.7 1003.9,472.6 1004.3,472.0 1004.7,474.0 1005.0,473.4 1005.4,473.9 1005.7,472.4 1006.1,471.6 1006.5,468.5 1006.8,472.5 1007.2,476.2 1007.5,471.4 1007.9,473.9 1008.3,472.6 1008.6,474.2 1009.0,472.5 1009.3,469.6 1009.7,470.7 1010.1,470.5 1010.4,470.8 1010.8,472.6 1011.1,472.1 1011.5,471.1 1011.9,470.6 1012.2,471.0 1012.6,469.8 1012.9,472.6 1013.3,469.6 1013.7,473.9 1014.0,473.9 1014.4,472.0 1014.7,474.3 1015.1,472.5 1015.5,472.8 1015.8,471.1 1016.2,470.7 1016.5,473.4 1016.9,466.8 1017.3,471.7 1017.6,470.8 1018.0,475.1 1018.3,478.7 1018.7,475.4 1019.1,470.5 1019.4,470.5 1019.8,474.0 1020.1,470.4 1020.5,471.5 1020.5,536.4 1021.1,536.4 1021.5,473.5 1021.8,467.4 1022.2,467.4 1022.5,477.9 1022.9,473.0 1023.3,473.6 1023.6,473.8 1024.0,471.1 1024.3,475.0 1024.7,471.2 1025.1,474.2 1025.4,471.1 1025.8,468.9 1026.1,471.0 1026.5,472.9 1026.9,473.4 1026.7,460.0 1027.3,460.0 1027.7,472.6 1028.0,473.1 1028.4,472.5 1028.7,471.6 1029.1,470.5 1029.5,472.0 1029.8,470.6 1030.2,470.8 1030.5,469.3 1030.9,468.4 1031.3,473.2 1031.6,474.8 1032.0,469.2 1032.3,472.1 1032.7,471.5 1033.1,474.1 1033.4,473.7 1033.8,471.9 1034.1,473.1 1034.5,477.8 1034.9,473.3 1035.2,468.8 1035.6,473.1 1035.9,472.1 1036.3,473.3 1036.7,473.6 1037.0,471.0 1037.4,466.9 1037.7,470.5 1038.1,471.9 1038.5,473.3 1038.8,473.3 1039.2,472.2 1039.5,474.5 1039.9,473.3 1040.3,478.4 1040.6,470.6 1041.0,472.1 1041.3,478.5 1041.7,470.7 1042.1,472.7 1042.4,468.5 1042.8,476.9 1043.1,471.2 1043.5,474.0 1043.9,471.8 1044.2,474.0 1044.6,474.3 1044.9,475.2 1045.3,473.4 1045.7,470.6 1046.0,471.5 1046.4,471.2 1046.7,471.5 1047.1,471.6 1047.5,473.6 1047.8,475.1 1048.2,475.2 1048.5,471.6 1048.9,471.3 1049.3,472.4 1049.6,473.4 1050.0,476.4 1050.3,473.6 1050.7,472.5 1051.1,471.8 1051.4,473.5 1051.8,472.7 1052.1,472.4 1052.5,472.3 1052.9,471.8 1052.9,456.7 1053.5,456.7 1053.9,472.8 1054.2,473.9 1054.6,471.2 1054.9,472.6 1055.3,471.0 1055.7,474.5 1055.7,541.0 1056.3,541.0 1056.7,477.5 1057.0,471.8 1057.4,470.9 1057.7,472.0 1058.1,475.2 1058.5,471.5 1058.8,472.0 1059.2,471.2 1059.5,474.3 1059.9,474.4 1060.3,472.7 1060.6,473.3 1061.0,470.8 1061.3,473.8 1061.7,470.7 1062.1,470.7 1062.4,471.2 1062.8,471.5 1063.1,473.4 1063.5,471.2 1063.9,472.2 1064.2,473.3 1064.6,473.9 1064.9,472.5 1065.3,471.3 1065.7,470.7 1066.0,474.3 1066.4,471.8 1066.7,472.6 1067.1,473.1 1067.5,474.1 1067.8,474.4 1068.2,473.3 1068.5,473.5 1068.9,470.6 1069.3,467.9 1069.6,475.6 1070.0,473.7 1070.3,472.8 1070.7,470.9 1071.1,473.5 1071.4,471.2 1071.8,471.0 1072.1,471.3 1072.5,474.5 1072.9,478.8 1073.2,470.1 1073.6,469.9 1073.9,473.5 1074.3,471.7 1074.7,471.7 1075.0,475.7 1075.4,471.7 1075.7,475.4 1076.1,470.9 1076.5,469.6 1076.8,471.5 1077.2,470.6 1077.5,476.9 1077.9,474.5 1078.3,471.1 1078.6,470.7 1079.0,473.9 1079.3,474.0 1079.7,471.7 1080.1,467.7 1080.4,473.0 1080.8,471.4 1081.1,470.8 1081.5,471.4 1081.9,472.0 1082.2,472.8 1082.6,473.6 1082.9,474.6 1083.3,473.8 1083.7,472.4 1084.0,472.5 1084.4,471.3 1084.7,482.1 1085.1,473.2 1085.5,471.7 1085.8,474.0 1086.2,472.9 1086.5,471.3 1086.9,471.3 1087.3,473.2 1087.6,469.8 1088.0,471.6 1088.3,474.4 1088.7,471.3 1089.1,470.2 1089.4,474.5 1089.8,469.2 1090.1,472.4 1090.5,473.4 1090.9,473.1 1091.2,474.6 1091.6,478.8 1091.9,470.6 1092.3,473.9 1092.7,477.1 1093.0,472.0 1093.4,471.3 1093.7,471.5 1094.1,471.9 1094.5,474.6 1094.8,471.8 1095.2,471.3 1095.5,471.9 1095.9,478.2 1096.3,473.3 1096.6,474.0 1097.0,476.0 1097.3,465.5 1097.7,474.0 1098.1,471.3 1098.4,467.9 1098.8,464.5 1099.1,466.1 1099.5,471.1 1099.9,465.5 1100.2,474.2 1100.6,472.1 1100.9,472.8 1101.3,470.9 1101.7,471.2 1102.0,473.7 1102.4,473.2 1102.7,474.0 1103.1,473.4 1103.5,470.8 1103.8,474.6 1104.2,471.5 1104.5,471.3 1104.9,481.0 1105.3,465.6 1105.6,469.3 1106.0,471.9 1106.3,471.5 1106.7,473.7 1107.1,472.0 1107.4,473.9 1107.8,471.6 1108.1,473.7 1108.5,476.3 1108.9,472.1 1109.2,471.3 1109.6,471.8 1109.9,473.0 1110.3,471.4 1110.7,473.0 1111.0,477.5 1111.4,471.5 1111.7,473.3 1112.1,472.7 1112.5,467.8 1112.8,474.3 1113.2,472.3 1113.5,467.9 1113.9,472.3 1114.3,473.3 1114.6,472.2 1115.0,471.4 1115.3,472.0 1115.7,470.9 1116.1,471.3 1116.4,474.0 1116.8,462.1 1117.1,471.5 1117.5,478.5 1117.9,472.5 1118.2,474.1 1118.6,471.2 1118.9,472.5 1119.3,471.5 1119.7,468.8 1120.0,471.0 1120.4,471.0 1120.7,472.4 1121.1,471.2 1121.5,470.7 1121.8,466.9 1122.2,473.5 1122.5,473.9 1122.9,468.1 1123.3,471.6 1123.6,465.4 1124.0,465.7 1124.3,473.1 1124.7,471.8 1125.1,471.8 1125.4,474.5 1125.8,473.6 1126.1,471.8 1126.5,472.7 1126.9,470.8 1127.2,467.9 1127.6,474.4 1127.9,474.3 1128.3,471.9 1128.7,471.2 1129.0,471.0 1129.4,473.7 1129.7,471.5 1130.1,473.5 1130.5,472.5 1130.8,472.6 1131.2,474.4 1131.5,472.9 1131.9,474.3 1132.3,472.3 1132.6,472.0 1133.0,473.4 1133.3,472.8 1133.7,470.8 1134.1,473.5 1134.4,474.6 1134.8,474.4 1135.1,473.2 1135.5,472.4 1135.9,474.3 1136.2,474.5 1136.6,475.3 1136.9,474.7 1137.3,473.9 1137.7,477.5 1138.0,472.3 1138.4,470.8 1138.7,473.2 1139.1,473.5 1139.5,471.5 1139.8,474.2 1140.2,466.7 1140.5,470.0 1140.9,478.3 1141.3,471.7 1141.6,473.4 1142.0,474.5 1142.3,473.6 1142.7,472.7 1143.1,473.4 1143.4,474.4 1143.8,471.2 1144.1,477.3 1144.5,473.3 1144.9,474.0 1145.2,472.8 1145.6,473.8 1145.9,471.1 1146.3,471.6 1146.7,476.8 1147.0,472.1 1147.4,473.4 1147.7,472.3 1148.1,478.0 1148.5,474.4 1148.8,470.4 1149.2,471.7 1149.5,472.1 1149.9,474.7 1150.3,473.4 1150.6,471.8 1151.0,469.0 1151.3,471.6 1151.7,471.1 1152.1,474.5 1152.4,473.0 1152.8,472.3 1153.1,472.6 1153.5,473.8 1153.9,471.4 1154.2,474.7 1154.6,476.3 1154.9,474.3 1155.3,473.4 1155.7,473.7 1156.0,474.0 1156.4,472.7 1156.7,471.1 1157.1,473.9 1157.5,474.4 1157.8,473.3 1158.2,472.7 1158.5,473.2 1158.9,474.0 1159.3,472.5 1159.6,473.6 1160.0,474.1 1160.3,466.1 1160.7,469.8 1161.1,472.7 1161.4,472.6 1161.8,472.2 1162.1,471.8 1162.5,474.9 1162.9,473.7 1163.2,474.1 1163.6,474.7 1163.9,474.0 1164.3,481.0 1164.7,470.8 1165.0,472.5 1165.4,472.7 1165.7,473.9 1166.1,471.2 1166.5,471.5 1166.8,473.2 1167.2,471.3 1167.5,471.8 1167.9,474.4 1168.3,474.1 1168.6,471.5 1169.0,471.5 1169.3,474.6 1169.7,473.5 1170.1,472.9 1170.4,471.9 1170.8,471.8 1171.1,471.6 1171.5,471.8 1171.9,470.9 1172.2,470.5 1172.6,471.2 1172.9,471.7 1173.3,471.0 1173.7,472.2 1174.0,472.5 1174.4,472.8 1174.7,471.1 1175.1,475.8 1175.5,472.5 1175.8,473.7 1176.2,473.3 1176.5,473.7 1176.9,473.1 1177.3,475.3 1177.6,471.0 1178.0,472.9 1178.3,472.5 1178.7,474.4 1179.1,473.9 1179.4,472.6 1179.8,474.4 1180.1,473.7 1180.5,469.2 1180.9,472.8 1181.2,471.6 1181.6,474.1 1181.9,469.3 1182.3,473.4 1182.7,468.0 1183.0,474.0 1183.4,471.5 1183.7,474.8 1184.1,474.1 1184.5,471.5 1184.8,479.8 1185.2,474.5 1185.5,467.8 1185.9,470.4 1186.3,474.2 1186.6,472.5 1187.0,474.9 1187.3,477.4 1187.7,471.6 1188.1,473.6 1188.4,473.2 1188.8,467.6 1189.1,473.0 1189.5,474.4 1189.9,475.8 1190.2,474.7 1190.6,468.4 1190.9,471.1 1191.3,472.8 1191.7,472.2 1192.0,471.0 1192.4,471.3 1192.7,474.8 1193.1,474.4 1193.5,468.3 1193.8,473.2 1194.2,473.3 1194.5,472.9 1194.9,472.8 1195.3,474.8 1195.6,471.1 1196.0,472.9 1196.3,472.7 1196.7,473.9 1197.1,474.8 1197.4,470.7 1197.8,472.9 1198.1,474.1 1198.5,478.4 1198.9,472.3 1199.2,472.4 1199.6,473.5 1199.9,474.5 1200.3,472.9 1200.7,474.9 1201.0,474.6 1201.4,471.0 1201.7,471.4 1202.1,466.3 1202.5,473.2 1202.8,472.3 1203.2,472.2 1203.5,473.5 1203.9,474.1 1204.3,473.9 1204.6,473.1 1205.0,471.2 1205.3,471.2 1205.7,474.3 1206.1,483.1 1206.4,471.5 1206.8,473.5 1207.1,474.5 1207.5,471.7 1207.9,471.1 1208.2,475.6 1208.6,474.8 1208.9,474.9 1209.3,471.1 1209.7,480.7 1210.0,473.6 1210.4,472.2 1210.7,471.7 1211.1,475.1 1211.5,471.3 1211.8,477.3 1212.2,474.6 1212.5,472.8 1212.9,471.2 1213.3,475.6 1213.6,471.4 1214.0,473.5 1214.3,474.9 1214.7,474.1 1215.1,473.0 1215.4,472.1 1215.8,472.6 1216.1,473.9 1216.5,478.3 1216.9,474.2 1217.2,473.3 1217.6,473.1 1217.9,472.0 1218.3,472.2 1218.7,471.5 1219.0,472.9 1219.4,471.7 1219.7,473.6 1220.1,473.7 1220.5,470.6 1220.8,471.0 1221.2,474.9 1221.5,474.0 1221.9,471.1 1222.3,474.9 1222.6,472.2 1223.0,473.6 1223.3,474.4 1223.7,472.8 1224.1,472.2 1224.4,471.5 1224.8,472.3 1225.1,473.4 1225.5,472.6 1225.9,479.4 1226.2,474.1 1226.6,471.7 1226.9,471.2 1227.3,469.0 1227.7,470.0 1228.0,471.2 1228.4,469.7 1228.7,476.1 1229.1,474.2 1229.5,474.4 1229.8,471.3 1230.2,475.3 1230.5,472.8 1230.9,473.4 1231.3,471.0 1231.6,472.7 1232.0,474.6 1232.3,475.0 1232.7,474.9 1233.1,471.9 1233.4,472.2 1233.8,472.1 1234.1,472.5 1234.5,471.3 1234.9,471.3 1235.2,476.2 1235.6,471.2 1235.9,474.8 1235.8,473.0" fill="none" stroke="#e80000" stroke-width="3" stroke-linejoin="miter" stroke-miterlimit="3" stroke-linecap="butt"/>
<rect x="96" y="224" width="1146" height="525" fill="none" stroke="#8e8e8e" stroke-width="2"/>
<rect x="88.7" y="229.45" width="6.3" height="1.5" fill="#111"/>
<text x="33.21" y="240.20" font-size="26.8" fill="#000" text-anchor="start" font-weight="normal" font-style="normal" textLength="54.55" lengthAdjust="spacingAndGlyphs" stroke="#000" stroke-width="0.12">3800</text>
<rect x="88.7" y="278.42" width="6.3" height="1.5" fill="#111"/>
<text x="33.21" y="289.17" font-size="26.8" fill="#000" text-anchor="start" font-weight="normal" font-style="normal" textLength="54.55" lengthAdjust="spacingAndGlyphs" stroke="#000" stroke-width="0.12">3600</text>
<rect x="88.7" y="327.39" width="6.3" height="1.5" fill="#111"/>
<text x="33.21" y="338.14" font-size="26.8" fill="#000" text-anchor="start" font-weight="normal" font-style="normal" textLength="54.55" lengthAdjust="spacingAndGlyphs" stroke="#000" stroke-width="0.12">3400</text>
<rect x="88.7" y="376.36" width="6.3" height="1.5" fill="#111"/>
<text x="33.21" y="387.11" font-size="26.8" fill="#000" text-anchor="start" font-weight="normal" font-style="normal" textLength="54.55" lengthAdjust="spacingAndGlyphs" stroke="#000" stroke-width="0.12">3200</text>
<rect x="88.7" y="425.33" width="6.3" height="1.5" fill="#111"/>
<text x="33.21" y="436.08" font-size="26.8" fill="#000" text-anchor="start" font-weight="normal" font-style="normal" textLength="54.55" lengthAdjust="spacingAndGlyphs" stroke="#000" stroke-width="0.12">3000</text>
<rect x="88.7" y="474.30" width="6.3" height="1.5" fill="#111"/>
<text x="33.21" y="485.05" font-size="26.8" fill="#000" text-anchor="start" font-weight="normal" font-style="normal" textLength="54.55" lengthAdjust="spacingAndGlyphs" stroke="#000" stroke-width="0.12">2800</text>
<rect x="88.7" y="523.27" width="6.3" height="1.5" fill="#111"/>
<text x="33.21" y="534.02" font-size="26.8" fill="#000" text-anchor="start" font-weight="normal" font-style="normal" textLength="54.55" lengthAdjust="spacingAndGlyphs" stroke="#000" stroke-width="0.12">2600</text>
<rect x="88.7" y="572.24" width="6.3" height="1.5" fill="#111"/>
<text x="33.21" y="582.99" font-size="26.8" fill="#000" text-anchor="start" font-weight="normal" font-style="normal" textLength="54.55" lengthAdjust="spacingAndGlyphs" stroke="#000" stroke-width="0.12">2400</text>
<rect x="88.7" y="621.21" width="6.3" height="1.5" fill="#111"/>
<text x="33.21" y="631.96" font-size="26.8" fill="#000" text-anchor="start" font-weight="normal" font-style="normal" textLength="54.55" lengthAdjust="spacingAndGlyphs" stroke="#000" stroke-width="0.12">2200</text>
<rect x="88.7" y="670.18" width="6.3" height="1.5" fill="#111"/>
<text x="33.21" y="680.93" font-size="26.8" fill="#000" text-anchor="start" font-weight="normal" font-style="normal" textLength="54.55" lengthAdjust="spacingAndGlyphs" stroke="#000" stroke-width="0.12">2000</text>
<rect x="88.7" y="719.15" width="6.3" height="1.5" fill="#111"/>
<text x="33.21" y="729.90" font-size="26.8" fill="#000" text-anchor="start" font-weight="normal" font-style="normal" textLength="54.55" lengthAdjust="spacingAndGlyphs" stroke="#000" stroke-width="0.12">1800</text>
<rect x="101.60" y="750" width="1.6" height="6.5" fill="#111"/>
<text x="70.92" y="784.70" font-size="26.8" fill="#000" text-anchor="start" font-weight="normal" font-style="normal" textLength="61.36" lengthAdjust="spacingAndGlyphs" stroke="#000" stroke-width="0.12">00:00</text>
<rect x="193.85" y="750" width="1.6" height="6.5" fill="#111"/>
<text x="163.20" y="784.70" font-size="26.8" fill="#000" text-anchor="start" font-weight="normal" font-style="normal" textLength="61.36" lengthAdjust="spacingAndGlyphs" stroke="#000" stroke-width="0.12">00:05</text>
<rect x="286.10" y="750" width="1.6" height="6.5" fill="#111"/>
<text x="255.42" y="784.70" font-size="26.8" fill="#000" text-anchor="start" font-weight="normal" font-style="normal" textLength="61.36" lengthAdjust="spacingAndGlyphs" stroke="#000" stroke-width="0.12">00:10</text>
<rect x="378.35" y="750" width="1.6" height="6.5" fill="#111"/>
<text x="347.70" y="784.70" font-size="26.8" fill="#000" text-anchor="start" font-weight="normal" font-style="normal" textLength="61.36" lengthAdjust="spacingAndGlyphs" stroke="#000" stroke-width="0.12">00:15</text>
<rect x="470.60" y="750" width="1.6" height="6.5" fill="#111"/>
<text x="439.92" y="784.70" font-size="26.8" fill="#000" text-anchor="start" font-weight="normal" font-style="normal" textLength="61.36" lengthAdjust="spacingAndGlyphs" stroke="#000" stroke-width="0.12">00:20</text>
<rect x="562.85" y="750" width="1.6" height="6.5" fill="#111"/>
<text x="532.20" y="784.70" font-size="26.8" fill="#000" text-anchor="start" font-weight="normal" font-style="normal" textLength="61.36" lengthAdjust="spacingAndGlyphs" stroke="#000" stroke-width="0.12">00:25</text>
<rect x="655.10" y="750" width="1.6" height="6.5" fill="#111"/>
<text x="624.42" y="784.70" font-size="26.8" fill="#000" text-anchor="start" font-weight="normal" font-style="normal" textLength="61.36" lengthAdjust="spacingAndGlyphs" stroke="#000" stroke-width="0.12">00:30</text>
<rect x="747.35" y="750" width="1.6" height="6.5" fill="#111"/>
<text x="716.70" y="784.70" font-size="26.8" fill="#000" text-anchor="start" font-weight="normal" font-style="normal" textLength="61.36" lengthAdjust="spacingAndGlyphs" stroke="#000" stroke-width="0.12">00:35</text>
<rect x="839.60" y="750" width="1.6" height="6.5" fill="#111"/>
<text x="808.92" y="784.70" font-size="26.8" fill="#000" text-anchor="start" font-weight="normal" font-style="normal" textLength="61.36" lengthAdjust="spacingAndGlyphs" stroke="#000" stroke-width="0.12">00:40</text>
<rect x="931.85" y="750" width="1.6" height="6.5" fill="#111"/>
<text x="901.20" y="784.70" font-size="26.8" fill="#000" text-anchor="start" font-weight="normal" font-style="normal" textLength="61.36" lengthAdjust="spacingAndGlyphs" stroke="#000" stroke-width="0.12">00:45</text>
<rect x="1024.10" y="750" width="1.6" height="6.5" fill="#111"/>
<text x="993.42" y="784.70" font-size="26.8" fill="#000" text-anchor="start" font-weight="normal" font-style="normal" textLength="61.36" lengthAdjust="spacingAndGlyphs" stroke="#000" stroke-width="0.12">00:50</text>
<rect x="1116.35" y="750" width="1.6" height="6.5" fill="#111"/>
<text x="1085.70" y="784.70" font-size="26.8" fill="#000" text-anchor="start" font-weight="normal" font-style="normal" textLength="61.36" lengthAdjust="spacingAndGlyphs" stroke="#000" stroke-width="0.12">00:55</text>
<rect x="1208.60" y="750" width="1.6" height="6.5" fill="#111"/>
<text x="1177.92" y="784.70" font-size="26.8" fill="#000" text-anchor="start" font-weight="normal" font-style="normal" textLength="61.36" lengthAdjust="spacingAndGlyphs" stroke="#000" stroke-width="0.12">01:00</text>
<text x="641.70" y="820.00" font-size="26.8" fill="#000" text-anchor="start" font-weight="normal" font-style="italic" textLength="55.68" lengthAdjust="spacingAndGlyphs" stroke="#000" stroke-width="0.12">Time</text>
<text x="37.67" y="186.00" font-size="30.5" fill="#000" text-anchor="start" font-weight="normal" font-style="normal" textLength="17.07" lengthAdjust="spacingAndGlyphs" stroke="#000" stroke-width="0.12">↓</text>
<text x="61.07" y="186.90" font-size="26.6" fill="#d0141c" text-anchor="start" font-weight="normal" font-style="normal" textLength="56.32" lengthAdjust="spacingAndGlyphs" stroke="#d0141c" stroke-width="0.12">1700</text>
<text x="150.12" y="186.90" font-size="26.6" fill="#000" text-anchor="start" font-weight="normal" font-style="normal" textLength="19.73" lengthAdjust="spacingAndGlyphs" stroke="#000" stroke-width="0.12">Ø</text>
<text x="177.54" y="186.90" font-size="26.6" fill="#d0141c" text-anchor="start" font-weight="normal" font-style="normal" textLength="55.93" lengthAdjust="spacingAndGlyphs" stroke="#d0141c" stroke-width="0.12">2797</text>
<text x="264.84" y="186.00" font-size="30.5" fill="#000" text-anchor="start" font-weight="normal" font-style="normal" textLength="17.92" lengthAdjust="spacingAndGlyphs" stroke="#000" stroke-width="0.12">↑</text>
<text x="288.03" y="186.90" font-size="26.6" fill="#d0141c" text-anchor="start" font-weight="normal" font-style="normal" textLength="56.77" lengthAdjust="spacingAndGlyphs" stroke="#d0141c" stroke-width="0.12">3800</text>
<rect x="896" y="160" width="8.2" height="32.8" fill="#ff0000"/>
<text x="912.10" y="187.80" font-size="31" fill="#000" text-anchor="start" font-weight="normal" font-style="normal" textLength="322.11" lengthAdjust="spacingAndGlyphs" stroke="#000" stroke-width="0.75">Core Clocks (avg) [MHz]</text>
<rect x="1382" y="225" width="1144" height="523" fill="url(#pg)"/>
<rect x="1382" y="233.75" width="1144" height="1.5" fill="#000"/>
<rect x="1382" y="291.75" width="1144" height="1.5" fill="#000"/>
<rect x="1382" y="350.75" width="1144" height="1.5" fill="#000"/>
<rect x="1382" y="408.75" width="1144" height="1.5" fill="#000"/>
<rect x="1382" y="467.75" width="1144" height="1.5" fill="#000"/>
<rect x="1382" y="526.75" width="1144" height="1.5" fill="#000"/>
<rect x="1382" y="584.75" width="1144" height="1.5" fill="#000"/>
<rect x="1382" y="643.75" width="1144" height="1.5" fill="#000"/>
<rect x="1382" y="701.75" width="1144" height="1.5" fill="#000"/>
<polyline points="1387.5,739.5 1388.2,712.0 1388.8,556.0 1389.5,705.0 1390.6,700.0 1391.8,420.0 1393.0,245.0 1394.0,252.0 1395.3,228.0 1396.2,250.0 1397.0,240.0 1398.0,258.0 1399.0,243.0 1400.0,256.0 1401.0,246.0 1402.0,292.0 1403.0,317.0 1403.0,321.0 1403.3,335.3 1403.7,320.6 1404.0,322.3 1404.4,327.8 1404.7,321.8 1405.0,322.5 1405.4,321.8 1405.7,324.2 1406.1,322.6 1406.4,324.6 1406.7,324.8 1407.1,322.6 1407.4,318.9 1407.8,319.4 1408.1,324.7 1408.4,317.9 1408.8,317.8 1409.1,317.1 1409.5,317.0 1409.8,321.0 1410.1,320.1 1410.5,324.4 1410.8,319.8 1411.2,319.2 1411.5,321.2 1411.8,322.3 1412.2,317.4 1412.5,319.7 1412.9,320.0 1413.2,324.7 1413.5,322.1 1413.9,321.2 1414.2,319.4 1414.6,316.7 1414.9,321.1 1415.2,321.6 1415.6,320.1 1415.9,324.4 1416.3,323.7 1416.6,321.0 1416.9,324.9 1417.3,320.6 1417.6,322.0 1418.0,323.2 1418.3,321.7 1418.6,316.7 1419.0,321.9 1419.3,318.0 1419.7,318.9 1420.0,316.9 1420.3,320.2 1420.7,327.0 1421.0,316.1 1421.4,319.4 1421.7,324.3 1422.0,316.9 1422.4,324.2 1422.7,318.2 1423.1,319.7 1423.4,322.5 1423.7,318.4 1424.1,323.6 1424.4,324.0 1424.8,317.0 1425.1,320.5 1425.4,323.0 1425.8,321.8 1426.1,321.3 1426.5,319.3 1426.8,322.8 1427.1,319.7 1427.5,317.9 1427.8,324.0 1428.2,319.5 1428.5,320.3 1428.8,323.5 1429.2,322.3 1429.5,327.0 1429.9,319.8 1430.2,322.8 1430.5,322.6 1430.9,320.8 1431.2,320.8 1431.6,317.7 1431.9,323.7 1432.2,320.8 1432.6,316.6 1432.9,322.2 1433.3,325.7 1433.6,320.6 1433.9,324.0 1434.3,321.6 1434.6,319.2 1435.0,324.3 1435.3,323.9 1435.6,321.8 1436.0,319.8 1436.3,316.8 1436.7,318.0 1437.0,320.1 1437.3,317.8 1437.7,319.8 1438.0,323.1 1438.4,320.9 1438.7,324.4 1439.0,316.6 1439.4,322.4 1439.4,299.5 1440.0,299.5 1440.3,316.5 1440.7,316.7 1441.0,325.3 1441.4,320.3 1441.7,318.3 1442.0,323.9 1442.4,320.1 1442.7,316.7 1443.1,323.0 1443.4,322.7 1443.7,318.9 1444.1,326.6 1444.4,320.2 1444.8,326.4 1445.1,316.1 1445.4,322.0 1445.8,319.0 1446.1,313.1 1446.5,320.9 1446.8,318.4 1447.1,328.0 1447.5,320.6 1447.8,321.0 1448.2,318.2 1448.5,319.1 1448.8,319.3 1449.2,319.1 1449.5,323.5 1449.9,321.2 1450.2,319.9 1450.5,312.1 1450.9,319.3 1451.2,311.2 1451.6,317.5 1451.9,323.1 1452.2,317.0 1452.6,324.4 1452.9,318.2 1453.3,319.9 1453.6,323.4 1453.9,317.6 1454.3,323.6 1454.6,320.6 1455.0,321.3 1455.3,319.7 1455.6,318.0 1456.0,322.8 1456.3,318.9 1456.7,317.3 1457.0,323.8 1457.3,323.6 1457.7,329.6 1458.0,319.8 1458.4,316.6 1458.7,323.2 1459.0,318.4 1459.4,319.9 1459.7,318.4 1460.1,316.4 1460.4,318.7 1460.7,321.9 1461.1,318.2 1461.4,322.7 1461.8,318.6 1462.1,322.1 1462.4,316.7 1462.8,318.1 1463.1,322.0 1463.5,323.5 1463.8,316.0 1464.1,322.7 1464.5,323.4 1464.8,314.1 1465.2,318.5 1465.5,321.7 1465.8,317.8 1466.2,321.1 1466.5,325.2 1466.9,319.5 1467.2,315.7 1467.5,317.6 1467.9,318.9 1468.2,325.0 1468.6,318.5 1468.9,324.1 1469.2,318.0 1469.6,326.1 1469.9,316.3 1470.3,314.5 1470.6,315.9 1470.9,321.6 1471.3,319.9 1471.6,323.7 1472.0,319.6 1472.3,318.3 1472.6,315.7 1473.0,316.1 1473.3,320.8 1473.7,321.6 1474.0,318.1 1474.3,326.1 1474.7,319.3 1475.0,308.1 1475.4,319.1 1475.7,320.6 1476.0,322.8 1476.4,323.8 1476.7,317.6 1477.1,330.8 1477.4,316.1 1477.7,323.6 1478.1,318.9 1478.4,321.7 1478.8,319.4 1479.1,320.2 1479.4,318.4 1479.8,319.2 1480.1,322.4 1480.5,318.0 1480.8,319.2 1481.1,322.9 1481.5,319.5 1481.8,319.4 1482.2,319.9 1482.5,318.1 1482.8,321.2 1483.2,322.3 1483.5,322.7 1483.9,319.4 1484.2,314.7 1484.5,320.8 1484.9,319.5 1485.2,317.7 1485.6,317.8 1485.9,311.7 1486.2,314.8 1486.6,314.8 1486.9,320.4 1487.3,320.5 1487.6,315.2 1487.9,306.8 1488.3,316.6 1488.6,316.8 1489.0,320.1 1489.3,322.2 1489.6,315.5 1490.0,318.4 1490.3,315.7 1490.7,315.5 1491.0,317.4 1491.3,318.3 1491.7,315.5 1492.0,315.8 1492.4,316.0 1492.7,318.7 1493.0,321.2 1493.4,314.4 1493.7,317.7 1494.1,320.5 1494.4,317.2 1494.7,319.8 1495.1,307.9 1495.4,314.0 1495.8,318.0 1496.1,314.8 1496.4,313.1 1496.8,320.4 1497.1,321.1 1497.5,317.7 1497.8,317.5 1498.1,320.3 1498.5,315.8 1498.8,313.5 1499.2,319.2 1499.5,318.4 1499.8,315.3 1500.2,320.6 1500.5,313.9 1500.9,317.8 1501.2,318.2 1501.5,316.9 1501.9,318.2 1502.2,315.8 1502.6,315.6 1502.9,309.7 1503.2,314.5 1503.6,317.3 1503.9,318.7 1504.3,320.4 1504.6,314.6 1504.9,318.9 1505.3,314.5 1505.6,316.9 1506.0,324.1 1506.3,314.4 1506.6,315.0 1507.0,316.8 1507.3,318.5 1507.7,318.6 1508.0,315.7 1508.3,318.8 1508.7,318.9 1509.0,311.6 1509.4,313.5 1509.7,315.4 1510.0,316.1 1510.4,318.4 1510.7,315.1 1511.1,313.4 1511.4,315.2 1511.7,311.0 1512.1,318.4 1512.4,316.1 1512.8,316.4 1513.1,319.0 1513.4,311.7 1513.8,313.7 1514.1,311.4 1514.5,318.0 1514.8,321.0 1515.1,311.9 1515.5,315.6 1515.8,313.5 1516.2,311.3 1516.5,316.0 1516.8,317.3 1517.2,315.1 1517.5,316.8 1517.4,296.0 1518.0,296.0 1518.3,318.3 1518.7,322.3 1519.0,312.0 1519.4,310.5 1519.7,317.0 1520.0,311.3 1520.4,322.2 1520.7,317.1 1521.1,316.5 1521.4,309.7 1521.7,306.1 1522.1,310.7 1522.4,323.6 1522.8,311.9 1523.1,313.3 1523.4,309.8 1523.8,311.1 1524.1,313.4 1524.5,311.3 1524.8,310.5 1525.1,310.3 1525.5,311.8 1525.8,324.3 1526.2,312.8 1526.5,314.7 1526.8,311.2 1527.2,310.8 1527.5,309.2 1527.9,306.0 1528.2,310.5 1528.5,314.0 1528.9,315.5 1529.2,315.5 1529.6,318.1 1529.9,314.6 1530.2,316.7 1530.6,314.7 1530.9,316.7 1531.3,311.3 1531.6,315.2 1531.9,310.5 1532.3,318.5 1532.6,313.4 1533.0,317.2 1533.3,313.1 1533.6,315.3 1534.0,308.9 1534.3,309.3 1534.7,313.9 1535.0,308.2 1535.3,309.6 1535.7,312.2 1536.0,311.3 1536.4,309.6 1536.7,309.3 1537.0,311.5 1537.4,312.8 1537.7,308.0 1538.1,312.5 1538.4,310.4 1538.7,316.0 1539.1,308.3 1539.4,320.4 1539.8,312.9 1540.1,313.8 1540.4,312.3 1540.8,314.0 1541.1,310.7 1541.5,314.7 1541.8,313.4 1542.1,307.5 1542.5,314.7 1542.8,312.3 1543.2,317.3 1543.5,307.1 1543.8,312.4 1544.2,310.9 1544.5,307.3 1544.9,321.9 1545.2,307.3 1545.5,313.9 1545.9,307.6 1546.2,314.5 1546.6,308.6 1546.9,309.9 1547.2,312.4 1547.6,314.7 1547.9,306.8 1548.3,312.3 1548.6,306.9 1548.9,309.6 1549.3,305.9 1549.6,308.8 1550.0,311.1 1550.3,311.7 1550.6,313.2 1551.0,307.4 1551.3,310.4 1551.7,310.0 1552.0,307.5 1552.3,313.5 1552.7,312.7 1553.0,307.6 1553.4,305.0 1553.7,311.6 1554.0,312.3 1554.4,311.1 1554.7,309.6 1555.1,311.7 1555.4,309.6 1555.7,312.7 1556.1,313.0 1556.4,311.4 1556.8,307.9 1557.1,307.1 1557.4,308.2 1557.8,305.4 1558.1,308.3 1558.5,307.9 1558.8,307.4 1559.1,305.1 1559.5,306.5 1559.8,305.7 1560.2,306.5 1560.5,306.1 1560.8,309.2 1561.2,303.1 1561.5,304.5 1561.9,306.5 1562.2,303.3 1562.5,307.0 1562.9,301.7 1563.2,304.8 1563.6,306.0 1563.9,300.6 1564.2,302.5 1564.6,301.5 1564.9,302.3 1565.3,304.1 1565.6,305.3 1565.9,304.1 1566.3,308.3 1566.6,304.1 1567.0,306.6 1567.3,300.7 1567.6,302.4 1568.0,303.5 1568.3,304.6 1568.7,307.7 1569.0,307.6 1569.3,301.6 1569.7,313.5 1570.0,305.5 1570.4,304.6 1570.7,303.4 1571.0,300.8 1571.4,308.3 1571.7,300.3 1572.1,305.7 1572.4,307.6 1572.7,302.4 1573.1,306.0 1573.4,304.0 1573.8,303.2 1574.1,303.8 1574.4,300.7 1574.8,304.9 1575.1,305.4 1575.5,305.8 1575.8,311.3 1576.1,308.3 1576.5,301.7 1576.8,300.7 1577.2,298.1 1577.5,300.1 1577.8,307.9 1578.2,300.2 1578.5,294.4 1578.9,301.5 1579.2,301.8 1579.5,309.5 1579.9,305.2 1580.2,308.2 1580.6,312.2 1580.9,303.9 1581.2,311.9 1581.6,313.0 1581.9,311.0 1582.3,313.8 1582.6,314.9 1582.9,308.8 1583.3,314.5 1583.6,315.4 1584.0,317.4 1584.3,317.7 1584.6,313.7 1585.0,314.3 1585.3,323.9 1585.7,314.0 1586.0,318.6 1586.3,315.2 1586.7,316.2 1587.0,311.0 1587.4,313.3 1587.7,320.1 1588.0,309.7 1588.4,317.6 1588.7,312.5 1589.1,317.0 1589.4,314.0 1589.7,315.6 1590.1,316.8 1590.4,317.5 1590.8,319.9 1591.1,317.5 1591.4,315.4 1591.8,320.1 1592.1,316.0 1592.5,323.5 1592.8,318.7 1593.1,314.1 1593.5,312.3 1593.8,319.5 1594.2,316.1 1594.5,318.8 1594.8,316.1 1595.2,315.3 1595.5,313.1 1595.9,319.4 1596.2,313.8 1596.5,319.9 1596.9,319.8 1597.2,318.3 1597.6,316.5 1597.9,316.9 1598.2,316.0 1598.6,314.2 1598.9,317.9 1599.3,317.3 1599.6,319.6 1599.9,317.4 1600.3,317.6 1600.6,317.7 1601.0,315.0 1601.3,312.6 1601.6,312.4 1602.0,322.9 1602.3,314.3 1602.7,320.3 1603.0,314.0 1603.3,312.4 1603.7,319.0 1604.0,313.7 1604.4,318.9 1604.7,317.9 1605.0,318.9 1605.4,322.9 1605.7,318.1 1606.1,318.6 1606.4,314.9 1606.7,310.3 1607.1,313.8 1607.4,319.5 1607.8,317.4 1608.1,319.1 1608.4,318.4 1608.8,318.5 1609.1,325.0 1609.5,313.4 1609.8,319.1 1610.1,320.3 1610.5,314.6 1610.8,310.1 1611.2,313.5 1611.5,315.7 1611.8,326.2 1612.2,313.1 1612.5,326.5 1612.9,316.5 1613.2,318.2 1613.5,313.6 1613.9,320.2 1614.2,315.4 1614.6,316.7 1614.9,320.6 1615.2,314.0 1615.6,317.7 1615.9,320.2 1616.3,314.8 1616.6,311.3 1616.9,315.6 1617.3,316.3 1617.6,312.3 1618.0,318.2 1618.3,317.0 1618.6,317.7 1619.0,313.3 1619.3,317.3 1619.7,317.7 1620.0,317.2 1620.3,314.1 1620.7,313.1 1621.0,316.6 1621.4,321.2 1621.7,320.0 1622.0,319.9 1622.4,318.6 1622.7,318.0 1623.1,317.7 1623.4,316.3 1623.7,318.0 1624.1,315.4 1624.4,313.7 1624.8,316.1 1625.1,317.3 1625.4,317.1 1625.8,312.7 1626.1,320.3 1626.5,319.4 1626.8,313.7 1627.1,319.8 1627.5,317.0 1627.8,313.0 1628.2,318.6 1628.5,319.9 1628.8,319.5 1629.2,316.2 1629.5,314.1 1629.9,322.2 1630.2,315.7 1630.5,312.7 1630.9,313.9 1631.2,319.4 1631.6,322.9 1631.9,316.5 1632.2,318.8 1632.6,314.4 1632.9,315.9 1633.3,320.7 1633.6,316.4 1633.9,318.8 1634.3,317.1 1634.6,315.6 1634.5,301.0 1635.1,301.0 1635.4,320.4 1635.8,320.8 1636.1,318.3 1636.5,312.9 1636.8,326.6 1637.1,314.0 1637.5,312.9 1637.8,312.3 1638.2,314.9 1638.5,316.4 1638.8,314.1 1639.2,313.6 1639.5,318.2 1639.9,317.4 1640.2,314.9 1640.5,317.1 1640.9,317.3 1641.2,314.9 1641.6,313.6 1641.9,317.2 1642.2,310.3 1642.6,318.8 1642.9,315.1 1643.3,313.6 1643.6,316.2 1643.9,315.8 1644.3,317.9 1644.6,313.3 1645.0,313.9 1645.3,312.3 1645.6,326.2 1646.0,326.3 1646.3,316.2 1646.7,314.8 1647.0,314.2 1647.3,317.1 1647.7,314.4 1648.0,311.7 1648.4,314.3 1648.7,318.2 1649.0,317.5 1649.4,314.9 1649.7,318.1 1650.1,324.2 1650.4,318.4 1650.7,319.4 1651.1,319.5 1651.4,320.4 1651.8,318.6 1652.1,308.0 1652.4,319.3 1652.8,319.3 1653.1,316.1 1653.5,315.2 1653.8,314.5 1654.1,313.5 1654.5,323.7 1654.8,314.6 1655.2,316.4 1655.5,320.5 1655.8,321.5 1656.2,318.9 1656.5,316.0 1656.9,321.9 1657.2,322.1 1657.5,318.5 1657.9,317.7 1658.2,318.6 1658.6,321.0 1658.9,315.5 1659.2,321.4 1659.6,319.6 1659.9,322.5 1660.3,318.0 1660.6,322.0 1660.9,317.8 1661.3,318.9 1661.6,323.4 1662.0,324.3 1662.3,319.1 1662.6,324.1 1663.0,319.7 1663.3,326.7 1663.7,319.6 1664.0,323.9 1664.3,326.0 1664.7,322.5 1665.0,321.4 1665.4,327.4 1665.7,323.1 1666.0,325.3 1666.4,327.4 1666.7,329.6 1667.1,331.7 1667.4,324.3 1667.7,327.5 1668.1,329.0 1668.4,329.1 1668.8,324.0 1669.1,335.8 1669.4,323.8 1669.8,322.9 1670.1,327.3 1670.5,326.0 1670.8,323.6 1671.1,322.7 1671.5,326.7 1671.8,322.3 1672.2,325.2 1672.5,328.4 1672.8,325.1 1673.2,323.9 1673.5,328.6 1673.9,324.2 1674.2,330.7 1674.5,327.9 1674.9,329.2 1675.2,328.8 1675.6,330.2 1675.9,323.9 1676.2,324.5 1676.6,326.2 1676.9,325.4 1677.3,323.2 1677.6,327.6 1677.9,325.7 1678.3,323.5 1678.6,333.2 1679.0,322.1 1679.3,323.6 1679.6,323.5 1680.0,320.9 1680.3,325.2 1680.7,324.6 1681.0,319.5 1681.3,330.1 1681.7,326.9 1682.0,326.1 1682.4,324.8 1682.7,327.7 1683.0,328.1 1683.4,327.0 1683.7,326.5 1684.1,318.2 1684.4,326.9 1684.7,325.6 1685.1,332.6 1685.4,329.6 1685.8,323.9 1686.1,325.2 1686.4,330.0 1686.8,323.3 1687.1,324.7 1687.5,324.7 1687.8,329.4 1688.1,325.3 1688.5,327.0 1688.8,326.4 1689.2,318.5 1689.5,325.4 1689.8,325.1 1690.2,325.9 1690.5,321.5 1690.9,325.6 1691.2,327.5 1691.5,321.9 1691.9,328.5 1692.2,325.8 1692.6,326.1 1692.9,323.9 1693.2,337.2 1693.6,328.0 1693.9,327.6 1694.3,321.2 1694.6,330.5 1694.9,324.6 1695.3,326.7 1695.6,325.3 1696.0,324.5 1696.3,330.1 1696.6,325.9 1697.0,328.5 1697.3,329.0 1697.7,322.5 1698.0,325.0 1698.3,327.7 1698.7,329.5 1699.0,324.9 1699.4,322.5 1699.7,318.6 1700.0,324.3 1700.4,325.1 1700.7,329.5 1701.1,327.9 1701.4,322.1 1701.7,327.0 1702.1,335.4 1702.4,324.5 1702.8,330.2 1703.1,329.3 1703.4,329.2 1703.8,323.9 1704.1,322.1 1704.5,318.5 1704.8,328.5 1705.1,323.0 1705.5,327.5 1705.8,325.4 1706.2,322.8 1706.5,328.8 1706.8,323.3 1707.2,322.9 1707.5,329.0 1707.9,326.0 1708.2,320.5 1708.5,330.8 1708.9,324.9 1709.2,323.3 1709.6,329.0 1709.9,321.0 1710.2,328.7 1710.6,328.4 1710.9,324.5 1711.3,330.7 1711.6,318.6 1711.9,327.3 1712.3,327.4 1712.6,322.3 1713.0,329.4 1713.3,323.5 1713.6,333.0 1714.0,326.9 1714.3,322.4 1714.7,329.0 1715.0,327.8 1715.3,323.7 1715.7,324.0 1715.7,307.0 1716.3,307.0 1716.6,326.2 1717.0,325.1 1717.3,324.8 1717.7,323.3 1718.0,322.9 1718.3,319.9 1718.7,322.8 1719.0,324.3 1719.4,324.4 1719.7,329.8 1720.0,329.5 1720.4,327.2 1720.7,327.9 1721.1,318.2 1721.4,327.8 1721.7,324.3 1722.1,324.1 1722.4,322.3 1722.8,325.3 1723.1,330.0 1723.4,330.2 1723.8,329.4 1724.1,328.7 1724.5,326.6 1724.8,328.1 1725.1,328.6 1725.5,327.8 1725.8,325.8 1726.2,324.4 1726.5,321.6 1726.8,329.0 1727.2,322.3 1727.5,328.0 1727.9,325.1 1728.2,324.9 1728.5,322.3 1728.9,322.5 1729.2,326.0 1729.6,325.4 1729.9,324.8 1730.2,327.6 1730.6,325.3 1730.9,322.6 1731.3,329.0 1731.6,331.6 1731.9,319.0 1732.3,329.9 1732.6,325.5 1733.0,324.9 1733.3,325.9 1733.6,328.8 1734.0,323.4 1734.3,325.3 1734.7,330.9 1735.0,327.8 1735.3,329.8 1735.7,326.1 1736.0,329.0 1736.4,328.5 1736.7,327.2 1737.0,329.1 1737.4,320.9 1737.7,326.3 1738.1,325.8 1738.4,323.2 1738.7,323.5 1739.1,326.3 1739.4,320.6 1739.8,322.5 1740.1,322.4 1740.4,324.5 1740.8,324.7 1741.1,325.0 1741.5,322.3 1741.8,328.9 1742.1,326.3 1742.5,326.0 1742.8,326.4 1743.2,324.0 1743.5,325.8 1743.8,322.3 1744.2,329.6 1744.5,328.2 1744.9,329.9 1745.2,322.6 1745.5,329.8 1745.9,327.3 1746.2,329.2 1746.6,324.5 1746.9,329.4 1747.2,328.9 1747.6,326.0 1747.9,325.6 1748.3,318.6 1748.6,325.6 1748.9,324.2 1749.3,329.3 1749.6,326.6 1750.0,325.8 1750.3,321.9 1750.6,329.2 1751.0,322.6 1751.3,326.9 1751.7,325.7 1752.0,325.1 1752.3,328.7 1752.7,327.5 1753.0,333.1 1753.4,327.9 1753.7,325.3 1754.0,322.3 1754.4,322.0 1754.7,338.7 1755.1,324.0 1755.4,319.3 1755.7,321.9 1756.1,320.7 1756.4,325.8 1756.8,322.0 1757.1,322.4 1757.4,326.2 1757.8,327.3 1758.1,329.2 1758.5,326.6 1758.8,325.3 1759.1,325.6 1759.5,326.8 1759.8,323.0 1760.2,323.5 1760.5,321.4 1760.8,328.1 1761.2,323.7 1761.5,326.3 1761.9,329.0 1762.2,330.9 1762.5,323.8 1762.9,330.1 1763.2,321.7 1763.6,329.0 1763.9,321.1 1764.2,323.3 1764.6,321.0 1764.9,323.9 1765.3,325.8 1765.6,323.7 1765.9,322.3 1766.3,323.1 1766.6,319.6 1767.0,321.2 1767.3,322.6 1767.6,319.2 1768.0,320.2 1768.3,321.2 1768.7,319.8 1769.0,317.2 1769.3,317.6 1769.7,316.1 1770.0,317.4 1770.4,319.5 1770.7,317.7 1771.0,322.2 1771.4,322.5 1771.7,318.9 1772.1,322.6 1772.4,328.1 1772.7,323.9 1773.1,321.9 1773.4,309.3 1773.8,321.3 1774.1,321.6 1774.4,325.7 1774.8,322.2 1775.1,322.1 1775.5,323.7 1775.8,324.6 1776.1,319.8 1776.5,316.0 1776.8,317.9 1777.2,317.6 1777.5,317.2 1777.8,318.1 1778.2,319.9 1778.5,317.2 1778.9,317.2 1779.2,315.8 1779.5,318.3 1779.9,316.6 1780.2,315.0 1780.6,322.4 1780.9,317.4 1781.2,321.2 1781.6,321.8 1781.9,324.1 1782.3,318.6 1782.6,316.9 1782.9,315.8 1783.3,323.1 1783.6,320.8 1784.0,319.4 1784.3,321.1 1784.6,318.7 1785.0,320.0 1785.3,318.6 1785.7,321.3 1786.0,317.4 1786.3,320.9 1786.7,320.1 1787.0,319.6 1787.4,318.2 1787.7,314.1 1788.0,323.0 1788.4,318.6 1788.7,318.3 1789.1,316.5 1789.4,319.8 1789.7,316.1 1790.1,323.9 1790.4,322.6 1790.8,323.9 1791.1,314.0 1791.4,309.5 1791.8,322.9 1792.1,322.1 1792.5,316.7 1792.8,323.9 1793.1,320.0 1793.5,320.7 1793.8,320.5 1794.2,319.6 1794.5,314.4 1794.8,317.0 1795.2,319.6 1795.5,319.1 1795.9,329.9 1796.2,317.6 1796.5,321.0 1796.9,316.2 1797.2,320.6 1797.6,319.8 1797.9,316.1 1798.2,322.2 1798.6,319.6 1798.9,321.6 1799.3,322.6 1799.6,321.3 1799.9,323.4 1800.3,321.0 1800.6,321.6 1801.0,322.5 1801.3,317.1 1801.6,321.5 1802.0,322.6 1802.3,319.5 1802.7,321.7 1803.0,320.8 1803.3,318.5 1803.7,321.6 1804.0,318.0 1804.4,320.1 1804.7,319.8 1805.0,311.9 1805.4,322.4 1805.7,320.6 1806.1,318.5 1806.4,320.8 1806.7,318.3 1807.1,325.3 1807.4,317.2 1807.8,320.5 1808.1,319.4 1808.4,319.2 1808.8,322.0 1809.1,321.7 1809.5,318.5 1809.8,315.8 1810.1,323.4 1810.5,318.6 1810.8,320.7 1811.2,323.5 1811.5,321.7 1811.8,323.6 1812.2,316.1 1812.5,319.5 1812.9,318.0 1813.2,323.0 1813.5,320.6 1813.9,322.8 1814.2,315.1 1814.6,323.8 1814.9,322.3 1815.2,318.2 1815.6,317.1 1815.9,324.0 1816.3,320.8 1816.6,315.9 1816.9,323.7 1817.3,314.5 1817.6,318.5 1818.0,318.2 1818.3,321.1 1818.6,319.0 1819.0,317.4 1819.3,319.0 1819.7,316.1 1820.0,316.7 1820.3,323.6 1820.7,317.9 1821.0,318.6 1821.4,316.1 1821.7,319.4 1822.0,324.6 1822.4,322.7 1822.7,319.0 1823.1,322.0 1823.4,323.4 1823.7,321.0 1824.1,318.2 1824.4,323.2 1824.8,322.4 1825.1,330.8 1825.4,318.3 1825.8,318.4 1826.1,319.4 1826.5,318.4 1826.8,315.7 1827.1,321.7 1827.5,318.3 1827.8,320.8 1828.2,321.3 1828.5,324.0 1828.8,321.9 1829.2,322.4 1829.5,324.0 1829.9,319.9 1830.2,317.4 1830.5,322.0 1830.9,332.5 1831.2,317.3 1831.6,320.2 1831.9,316.5 1832.2,320.1 1832.6,321.1 1832.9,318.5 1833.3,321.3 1833.6,315.7 1833.9,323.7 1834.3,319.7 1834.6,323.6 1835.0,319.7 1835.3,319.1 1835.6,317.7 1836.0,316.4 1836.3,317.2 1836.7,314.3 1837.0,320.7 1837.3,314.0 1837.7,321.4 1838.0,321.9 1838.4,317.5 1838.7,321.2 1839.0,313.4 1839.4,317.7 1839.7,319.8 1840.1,323.8 1840.4,315.3 1840.7,322.1 1841.1,317.9 1841.4,321.2 1841.8,315.8 1842.1,320.1 1842.4,322.4 1842.8,322.0 1843.1,320.1 1843.5,316.0 1843.8,323.4 1844.1,316.6 1844.5,318.4 1844.8,323.5 1845.2,318.0 1845.5,320.3 1845.8,316.3 1846.2,320.4 1846.5,322.9 1846.9,321.1 1847.2,322.0 1847.5,319.0 1847.9,322.6 1848.2,321.0 1848.6,316.4 1848.9,316.2 1849.2,316.1 1849.6,319.0 1849.9,316.2 1850.3,320.8 1850.6,318.6 1850.9,323.2 1851.3,321.4 1851.6,321.4 1852.0,315.3 1852.3,323.6 1852.6,319.8 1853.0,320.6 1853.3,323.8 1853.7,320.5 1854.0,330.5 1854.3,329.0 1854.7,318.8 1855.0,321.3 1855.4,321.4 1855.7,323.0 1856.0,316.7 1856.4,323.7 1856.7,322.6 1857.1,316.9 1857.4,319.7 1857.7,318.2 1858.1,315.8 1858.4,323.0 1858.8,320.4 1859.1,322.4 1859.4,320.9 1859.8,312.9 1860.1,316.0 1860.5,320.8 1860.8,317.4 1861.1,319.8 1861.5,326.2 1861.8,320.5 1862.2,323.7 1862.5,322.9 1862.8,321.8 1863.2,323.3 1863.5,318.0 1863.9,316.1 1864.2,319.7 1864.5,319.2 1864.9,322.0 1865.2,316.7 1865.6,318.4 1865.9,322.7 1866.2,329.4 1866.6,321.8 1866.9,320.1 1867.3,317.6 1867.6,319.6 1867.9,323.7 1868.3,317.8 1868.6,322.9 1869.0,320.3 1869.3,319.6 1869.6,320.4 1870.0,320.3 1870.3,321.3 1870.7,318.4 1871.0,315.7 1871.3,323.3 1871.7,316.0 1872.0,315.9 1872.4,320.6 1872.2,305.0 1872.8,305.0 1873.1,321.0 1873.5,322.7 1873.8,318.0 1874.2,327.0 1874.5,319.7 1874.8,319.5 1875.2,330.8 1875.5,329.2 1875.9,321.9 1876.2,320.4 1876.5,323.6 1876.9,316.6 1877.2,317.2 1877.6,317.4 1877.9,316.8 1878.2,328.9 1878.6,326.8 1878.9,320.3 1879.3,318.0 1879.6,322.8 1879.9,313.1 1880.3,307.0 1880.6,321.0 1881.0,324.0 1881.3,318.1 1881.6,323.6 1882.0,319.3 1882.3,320.3 1882.7,327.6 1883.0,321.8 1883.3,321.7 1883.7,323.0 1884.0,318.8 1884.4,323.1 1884.7,322.5 1885.0,320.6 1885.4,313.0 1885.7,318.8 1886.1,316.7 1886.4,319.9 1886.7,317.4 1887.1,322.0 1887.4,324.0 1887.8,321.1 1888.1,317.2 1888.4,317.2 1888.8,321.7 1889.1,321.9 1889.5,316.6 1889.8,323.0 1890.1,320.6 1890.5,314.8 1890.8,320.7 1891.2,320.3 1891.5,317.6 1891.8,321.0 1892.2,321.1 1892.5,317.6 1892.9,319.6 1893.2,317.8 1893.5,316.1 1893.9,319.9 1894.2,317.7 1894.6,318.5 1894.9,316.6 1895.2,323.8 1895.6,318.9 1895.9,317.0 1896.3,316.4 1896.6,322.0 1896.9,319.1 1897.3,324.5 1897.6,322.6 1898.0,324.8 1898.3,322.6 1898.6,319.5 1899.0,320.0 1899.3,321.2 1899.7,319.5 1900.0,319.0 1900.3,317.1 1900.7,317.4 1901.0,319.7 1901.4,327.1 1901.7,316.6 1902.0,319.6 1902.4,318.7 1902.7,318.2 1903.1,320.6 1903.4,321.4 1903.7,322.3 1904.1,322.2 1904.4,321.7 1904.8,317.8 1905.1,323.9 1905.4,324.0 1905.8,320.6 1906.1,321.1 1906.5,318.9 1906.8,324.1 1907.1,321.2 1907.5,322.5 1907.8,316.8 1908.2,317.6 1908.5,313.9 1908.8,319.0 1909.2,319.7 1909.5,323.9 1909.9,315.8 1910.2,328.4 1910.5,320.3 1910.9,312.8 1911.2,323.7 1911.2,303.0 1911.8,303.0 1912.1,317.4 1912.5,317.9 1912.8,314.8 1913.2,323.7 1913.5,321.2 1913.8,314.4 1914.2,323.9 1914.5,316.1 1914.9,315.8 1915.2,319.2 1915.5,324.6 1915.9,324.5 1916.2,320.1 1916.6,321.8 1916.9,320.7 1917.2,305.5 1917.6,320.2 1917.9,317.0 1918.3,316.9 1918.6,320.4 1918.9,323.8 1919.3,326.5 1919.6,318.5 1920.0,323.9 1920.3,314.6 1920.6,318.1 1921.0,326.0 1921.3,317.6 1921.7,320.3 1922.0,321.1 1922.3,316.5 1922.7,323.4 1923.0,319.1 1923.4,317.3 1923.7,320.9 1924.0,318.7 1924.4,320.9 1924.7,320.4 1925.1,321.4 1925.4,323.8 1925.7,317.2 1926.1,320.2 1926.4,321.5 1926.8,321.6 1927.1,321.5 1927.4,322.6 1927.8,313.5 1928.1,315.3 1928.5,316.9 1928.8,320.4 1929.1,317.5 1929.5,318.2 1929.8,320.1 1930.2,321.4 1930.5,318.7 1930.8,321.7 1931.2,317.8 1931.5,321.2 1931.9,317.7 1932.2,314.2 1932.5,321.7 1932.9,317.5 1933.2,312.1 1933.6,323.3 1933.9,321.7 1934.2,316.9 1934.6,323.1 1934.9,320.5 1935.3,318.9 1935.6,317.1 1935.9,321.9 1936.3,316.9 1936.6,317.1 1937.0,326.8 1937.3,320.7 1937.6,319.4 1938.0,321.2 1938.3,323.0 1938.7,319.4 1939.0,322.7 1939.3,319.6 1939.7,315.9 1940.0,318.9 1940.4,319.4 1940.7,322.5 1941.0,319.0 1941.4,321.8 1941.7,322.7 1942.1,321.8 1942.4,320.9 1942.7,322.1 1943.1,316.1 1943.4,322.0 1943.8,322.7 1944.1,320.1 1944.4,321.4 1944.8,323.2 1945.1,322.0 1945.5,320.3 1945.8,322.1 1946.1,322.4 1946.5,319.5 1946.8,320.1 1947.2,318.6 1947.5,317.1 1947.8,323.7 1948.2,316.5 1948.5,317.3 1948.9,316.6 1949.2,322.0 1949.5,317.4 1949.9,319.2 1950.2,318.0 1950.6,319.8 1950.9,325.5 1951.2,321.7 1951.6,323.6 1951.4,300.0 1952.0,300.0 1952.3,323.8 1952.7,317.9 1953.0,316.8 1953.4,317.0 1953.7,318.1 1954.0,316.7 1954.4,325.8 1954.7,315.6 1955.1,319.7 1955.4,318.1 1955.7,320.6 1956.1,315.7 1956.4,319.2 1956.8,317.5 1957.1,319.5 1957.4,320.2 1957.8,322.5 1958.1,323.1 1958.5,321.8 1958.8,312.1 1959.1,320.6 1959.5,323.4 1959.8,320.6 1960.2,324.1 1960.5,321.2 1960.8,318.7 1961.2,323.6 1961.5,315.8 1961.9,320.9 1962.2,318.0 1962.5,322.7 1962.9,321.5 1963.2,318.1 1963.6,316.6 1963.9,319.9 1964.2,317.6 1964.6,320.0 1964.9,321.6 1965.3,320.9 1965.6,323.1 1965.9,318.8 1966.3,320.3 1966.6,317.1 1967.0,323.6 1967.3,315.9 1967.6,317.2 1968.0,323.9 1968.3,317.6 1968.7,323.8 1969.0,321.2 1969.3,317.8 1969.7,319.2 1970.0,315.9 1970.4,316.2 1970.7,322.6 1971.0,326.1 1971.4,317.6 1971.7,321.2 1972.1,318.5 1972.4,317.6 1972.7,323.9 1973.1,314.8 1973.4,316.0 1973.8,317.3 1974.1,319.7 1974.4,317.6 1974.8,325.0 1975.1,322.9 1975.5,322.3 1975.8,319.6 1976.1,319.6 1976.5,318.7 1976.8,323.2 1977.2,318.1 1977.5,323.1 1977.8,316.2 1978.2,316.0 1978.5,323.7 1978.9,313.6 1979.2,322.8 1979.5,318.4 1979.9,316.6 1980.2,316.9 1980.6,317.5 1980.9,318.2 1981.2,317.1 1981.6,324.5 1981.9,322.8 1982.3,322.0 1982.6,322.6 1982.9,323.2 1983.3,318.0 1983.6,321.1 1984.0,322.1 1984.3,318.0 1984.6,328.2 1985.0,324.1 1985.3,316.3 1985.7,321.7 1986.0,317.9 1986.3,317.6 1986.7,317.1 1987.0,317.6 1987.4,329.1 1987.7,314.1 1988.0,323.1 1988.4,317.1 1988.7,318.4 1989.1,321.8 1989.4,323.4 1989.7,321.1 1990.1,322.5 1990.4,312.9 1990.8,319.9 1991.1,324.0 1991.4,320.9 1991.8,317.8 1992.1,324.0 1992.5,315.7 1992.3,298.8 1992.9,298.8 1993.2,317.7 1993.6,317.7 1993.9,320.0 1994.3,316.8 1994.6,315.4 1994.9,326.6 1995.3,314.6 1995.6,317.9 1996.0,320.8 1996.3,322.9 1996.6,322.7 1997.0,317.2 1997.3,320.6 1997.7,320.5 1998.0,319.8 1998.3,319.6 1998.7,321.4 1999.0,321.9 1999.4,320.5 1999.7,309.6 2000.0,320.4 2000.4,316.3 2000.7,317.0 2001.1,315.7 2001.4,322.5 2001.7,320.1 2002.1,317.6 2002.4,321.4 2002.8,320.4 2003.1,316.0 2003.4,324.0 2003.8,318.2 2004.1,315.8 2004.5,319.8 2004.8,322.7 2005.1,321.1 2005.5,318.7 2005.8,316.3 2006.2,315.8 2006.5,316.4 2006.8,320.2 2007.2,324.7 2007.5,317.4 2007.9,315.4 2008.2,316.3 2008.5,318.8 2008.9,319.5 2009.2,324.0 2009.6,323.0 2009.9,322.0 2010.2,320.8 2010.6,324.0 2010.9,318.9 2011.3,321.2 2011.6,323.8 2011.9,320.4 2012.3,317.9 2012.6,324.6 2013.0,317.6 2013.3,313.4 2013.6,323.9 2014.0,330.8 2014.3,313.5 2014.7,322.0 2015.0,317.1 2015.3,322.1 2015.7,322.2 2016.0,323.3 2016.4,322.5 2016.7,325.5 2017.0,323.1 2017.4,323.9 2017.7,320.0 2018.1,326.3 2018.4,317.0 2018.7,324.5 2019.1,318.1 2019.4,313.1 2019.8,322.0 2020.1,320.6 2020.4,318.1 2020.8,319.8 2021.1,316.6 2021.5,320.0 2021.8,318.9 2022.1,319.5 2022.5,319.7 2022.8,323.3 2023.2,316.9 2023.5,325.8 2023.8,327.3 2024.2,316.0 2024.5,323.9 2024.9,316.7 2025.2,308.9 2025.5,318.7 2025.9,321.5 2026.2,318.0 2026.6,316.1 2026.9,318.7 2027.2,325.7 2027.6,319.0 2027.9,318.9 2028.3,322.2 2028.6,317.0 2028.9,314.4 2029.3,315.6 2029.6,325.0 2030.0,321.9 2030.3,307.3 2030.6,323.6 2031.0,320.9 2031.3,321.9 2031.7,317.9 2032.0,320.6 2032.3,317.5 2032.7,317.9 2033.0,319.4 2033.4,323.1 2033.7,319.8 2034.0,321.7 2034.4,316.3 2034.7,316.3 2035.1,316.7 2035.4,315.8 2035.7,317.3 2036.1,322.1 2036.4,321.2 2036.8,322.6 2037.1,321.4 2037.4,322.2 2037.8,321.9 2038.1,323.2 2038.5,322.0 2038.8,316.7 2039.1,323.1 2039.5,319.3 2039.8,321.7 2040.2,317.1 2040.5,320.9 2040.8,318.7 2041.2,323.5 2041.5,326.4 2041.9,318.2 2042.2,316.2 2042.5,315.9 2042.9,320.2 2043.2,317.0 2043.6,316.1 2043.9,317.3 2044.2,322.3 2044.6,326.4 2044.9,319.5 2045.3,319.1 2045.6,321.3 2045.9,321.7 2046.3,320.0 2046.6,323.8 2047.0,316.7 2047.3,323.2 2047.6,323.3 2048.0,323.0 2048.3,321.5 2048.7,322.4 2049.0,316.7 2049.3,320.6 2049.7,321.3 2050.0,321.7 2050.4,318.7 2050.7,322.8 2051.0,316.1 2051.4,321.4 2051.7,317.5 2052.1,316.6 2052.4,315.7 2052.7,319.6 2053.1,323.9 2053.4,324.1 2053.8,323.4 2054.1,318.5 2054.4,327.4 2054.8,318.9 2055.1,317.5 2055.5,316.0 2055.8,325.9 2056.1,322.3 2056.5,320.2 2056.8,320.6 2057.2,318.4 2057.5,315.7 2057.8,320.1 2058.2,312.1 2058.5,318.5 2058.9,322.2 2059.2,317.2 2059.5,321.6 2059.9,322.5 2060.2,323.3 2060.6,322.3 2060.9,323.9 2061.2,320.9 2061.6,321.6 2061.9,315.7 2062.3,318.0 2062.6,322.0 2062.9,323.6 2063.3,316.8 2063.6,311.0 2064.0,332.9 2064.3,316.3 2064.6,320.8 2065.0,315.2 2065.3,319.2 2065.7,326.0 2066.0,317.2 2066.3,319.9 2066.7,318.2 2067.0,323.0 2067.4,316.1 2067.7,315.9 2068.0,320.3 2068.4,322.8 2068.7,318.5 2069.1,320.8 2069.4,321.7 2069.7,319.1 2070.1,324.5 2070.4,316.1 2070.8,331.8 2071.1,324.8 2071.4,322.5 2071.8,320.2 2072.1,323.9 2072.5,315.6 2072.8,317.1 2073.1,319.2 2073.5,321.2 2073.8,322.5 2074.2,319.2 2074.5,323.7 2074.8,316.0 2075.2,321.3 2075.5,321.3 2075.9,310.1 2076.2,323.1 2076.5,324.1 2076.9,319.4 2077.2,319.1 2077.6,317.9 2077.9,316.6 2078.2,323.1 2078.6,322.9 2078.9,318.8 2079.3,317.8 2079.6,316.7 2079.9,317.9 2080.3,322.7 2080.6,322.1 2081.0,319.9 2081.3,318.9 2081.6,332.7 2082.0,320.5 2082.3,317.8 2082.7,319.1 2083.0,320.1 2083.3,318.7 2083.7,319.9 2084.0,323.8 2084.4,317.3 2084.7,320.7 2085.0,320.7 2085.4,322.6 2085.7,322.6 2086.1,323.2 2086.4,319.6 2086.7,321.4 2087.1,323.0 2087.4,320.6 2087.8,316.8 2088.1,316.5 2088.4,322.9 2088.8,319.8 2089.1,318.1 2089.5,330.0 2089.8,312.9 2090.1,320.9 2090.5,322.7 2090.8,320.5 2091.2,312.2 2091.5,323.3 2091.8,323.0 2092.2,323.4 2092.5,314.7 2092.9,319.8 2093.2,322.1 2093.5,317.4 2093.9,323.4 2094.2,320.5 2094.6,320.9 2094.9,318.3 2095.2,321.8 2095.6,320.9 2095.9,317.7 2096.3,311.8 2096.6,322.2 2096.9,320.4 2097.3,324.2 2097.6,320.4 2098.0,322.6 2098.3,315.6 2098.6,316.6 2099.0,323.0 2099.3,323.1 2099.7,325.5 2100.0,322.9 2100.3,317.5 2100.7,322.6 2101.0,310.2 2101.4,319.5 2101.7,324.3 2102.0,317.1 2102.4,321.3 2102.7,320.1 2103.1,321.2 2103.4,323.0 2103.7,323.1 2104.1,317.5 2104.4,322.9 2104.8,324.2 2105.1,312.7 2105.4,325.2 2105.8,318.0 2106.1,322.5 2106.5,317.7 2106.8,318.3 2107.1,322.3 2107.5,326.6 2107.8,314.7 2108.2,315.7 2108.5,321.4 2108.8,318.9 2109.2,318.2 2109.5,323.4 2109.9,320.2 2110.2,319.7 2110.5,317.6 2110.9,317.3 2111.2,320.3 2111.6,323.1 2111.9,320.5 2112.2,317.3 2112.6,316.1 2112.9,316.3 2113.3,318.7 2113.6,321.9 2113.9,322.1 2114.3,328.1 2114.6,321.4 2115.0,323.5 2115.3,318.6 2115.6,328.3 2116.0,320.4 2116.3,316.5 2116.7,322.2 2117.0,317.0 2117.3,317.9 2117.7,322.9 2118.0,317.4 2118.4,317.6 2118.7,322.5 2119.0,317.8 2119.4,322.1 2119.7,323.2 2120.1,316.0 2120.4,316.1 2120.7,318.1 2121.1,320.7 2121.4,317.1 2121.8,319.4 2122.1,315.1 2122.4,322.1 2122.8,316.0 2123.1,323.2 2123.5,322.3 2123.8,316.2 2124.1,321.2 2124.5,316.2 2124.8,317.8 2125.2,318.0 2125.5,316.3 2125.8,320.0 2126.2,322.5 2126.5,316.0 2126.9,319.1 2127.2,317.5 2127.5,322.8 2127.9,319.9 2128.2,321.9 2128.6,317.3 2128.9,319.8 2129.2,320.6 2129.6,317.7 2129.9,321.1 2130.3,317.8 2130.6,313.6 2130.9,322.6 2131.3,321.6 2131.6,319.1 2132.0,319.6 2132.3,321.4 2132.6,317.6 2133.0,318.5 2133.3,313.3 2133.7,321.9 2134.0,319.3 2134.3,332.0 2134.7,319.9 2135.0,322.8 2135.4,320.6 2135.7,320.2 2136.0,323.3 2136.4,316.9 2136.7,316.0 2137.1,321.2 2137.4,321.8 2137.7,319.7 2138.1,323.1 2138.4,323.8 2138.8,316.3 2139.1,321.0 2139.4,322.6 2139.8,322.5 2140.1,313.1 2140.5,321.1 2140.8,317.6 2141.1,322.1 2141.5,321.4 2141.8,320.7 2142.2,315.8 2142.5,316.7 2142.8,319.4 2143.2,321.4 2143.5,319.8 2143.9,323.1 2144.2,316.1 2144.5,318.2 2144.9,317.3 2145.2,316.9 2145.6,322.1 2145.9,316.4 2146.2,321.9 2146.6,321.0 2146.9,319.4 2147.3,321.3 2147.6,322.9 2147.9,317.0 2148.3,321.9 2148.6,322.3 2149.0,321.4 2148.7,305.0 2149.3,305.0 2149.6,321.6 2150.0,327.5 2150.3,317.8 2150.7,321.6 2151.0,316.0 2151.3,318.0 2151.7,318.1 2152.0,321.3 2152.4,322.3 2152.7,316.8 2153.0,318.5 2153.4,322.0 2153.7,312.5 2154.1,319.4 2154.4,317.2 2154.7,321.3 2155.1,319.2 2155.4,320.7 2155.8,322.6 2156.1,319.9 2156.4,317.3 2156.8,318.7 2157.1,315.8 2157.5,310.2 2157.8,320.1 2158.1,319.8 2158.5,322.3 2158.8,316.9 2159.2,315.6 2159.5,313.4 2159.8,323.3 2160.2,315.6 2160.5,320.1 2160.9,317.2 2161.2,320.6 2161.5,320.0 2161.9,319.9 2162.2,320.3 2162.6,320.4 2162.9,322.9 2163.2,322.9 2163.6,319.6 2163.9,313.4 2164.3,328.6 2164.6,320.2 2164.9,320.1 2165.3,314.5 2165.6,322.9 2166.0,322.9 2166.3,321.5 2166.6,317.1 2167.0,323.1 2167.3,318.7 2167.7,318.7 2168.0,320.9 2168.3,319.2 2168.7,317.1 2169.0,318.1 2169.4,321.0 2169.7,319.2 2170.0,319.4 2170.4,316.9 2170.7,319.8 2171.1,319.9 2171.4,322.0 2171.7,319.3 2172.1,317.7 2172.4,323.9 2172.8,316.5 2173.1,322.2 2173.4,316.3 2173.8,327.0 2174.1,318.1 2174.5,315.0 2174.8,316.9 2175.1,321.5 2175.5,319.0 2175.8,317.1 2176.2,316.7 2176.5,319.2 2176.8,324.8 2177.2,318.9 2177.5,323.8 2177.9,321.8 2178.2,321.4 2178.5,318.3 2178.9,319.4 2179.2,321.4 2179.6,316.1 2179.9,317.2 2180.2,317.9 2180.6,320.9 2180.9,317.8 2181.3,318.3 2181.6,321.1 2181.9,317.7 2182.3,322.0 2182.6,323.8 2183.0,322.8 2183.3,314.3 2183.6,322.7 2184.0,323.2 2184.3,322.3 2184.7,322.2 2185.0,321.8 2185.3,319.7 2185.7,316.6 2186.0,323.3 2186.4,314.9 2186.7,319.0 2187.0,316.5 2187.4,324.6 2187.7,322.3 2188.1,316.9 2188.4,315.9 2188.7,320.7 2189.1,320.5 2189.4,317.7 2189.8,320.6 2190.1,316.5 2190.4,321.5 2190.8,319.2 2191.1,321.8 2191.5,316.9 2191.8,324.1 2192.1,317.4 2192.5,319.9 2192.8,319.1 2193.2,321.0 2193.5,315.9 2193.8,320.2 2194.2,319.2 2194.5,319.2 2194.9,323.5 2195.2,313.8 2195.5,316.2 2195.9,316.9 2196.2,323.2 2196.6,316.3 2196.9,315.9 2197.2,317.0 2197.6,322.2 2197.9,323.7 2198.3,326.2 2198.6,321.0 2198.9,321.4 2199.3,322.4 2199.6,322.5 2200.0,321.8 2200.3,321.5 2200.6,321.2 2201.0,317.8 2201.3,318.9 2201.7,318.9 2202.0,317.9 2202.3,323.2 2202.7,314.6 2203.0,323.2 2203.4,321.0 2203.7,311.7 2204.0,320.4 2204.4,322.1 2204.7,322.2 2205.1,319.8 2205.4,318.6 2205.7,319.7 2206.1,322.3 2206.4,319.6 2206.8,318.8 2207.1,321.4 2207.4,316.1 2207.8,318.9 2208.1,316.1 2208.5,318.6 2208.8,320.4 2209.1,319.8 2209.5,321.1 2209.8,316.3 2210.2,317.0 2210.5,319.2 2210.8,321.2 2211.2,317.3 2211.5,316.2 2211.9,317.8 2212.2,318.1 2212.5,315.0 2212.9,314.1 2213.2,326.5 2213.6,320.1 2213.9,321.2 2214.2,323.8 2214.6,323.2 2214.9,319.9 2215.3,317.0 2215.6,323.3 2215.9,320.6 2216.3,321.8 2216.6,318.3 2217.0,321.3 2217.3,317.1 2217.6,318.4 2218.0,321.2 2218.3,315.7 2218.7,320.9 2219.0,316.5 2219.3,322.8 2219.7,317.0 2220.0,319.5 2220.4,320.9 2220.7,323.9 2221.0,319.5 2221.4,324.3 2221.7,320.4 2222.1,316.9 2222.4,319.5 2222.7,321.6 2223.1,325.4 2223.4,321.2 2223.8,327.6 2224.1,319.0 2224.4,320.2 2224.8,317.1 2225.1,319.9 2225.5,317.8 2225.8,320.5 2226.1,323.3 2226.5,323.8 2226.8,316.1 2227.2,318.6 2227.5,312.1 2227.8,315.8 2228.2,316.1 2228.5,314.2 2228.9,316.9 2229.2,317.1 2229.5,319.9 2229.9,318.4 2230.2,317.5 2230.6,316.5 2230.9,316.2 2231.2,322.6 2231.6,321.3 2231.9,320.0 2232.3,323.3 2232.6,317.2 2232.9,318.9 2233.3,328.0 2233.6,319.0 2234.0,317.3 2234.3,318.5 2234.6,317.0 2235.0,313.6 2235.3,321.0 2235.7,315.6 2236.0,320.0 2236.3,322.7 2236.7,321.4 2237.0,317.6 2237.4,317.2 2237.7,318.2 2238.0,315.7 2238.4,319.1 2238.7,320.9 2239.1,322.2 2239.4,316.8 2239.7,317.5 2240.1,321.9 2240.4,321.1 2240.8,317.9 2241.1,327.5 2241.4,315.7 2241.8,317.5 2242.1,316.9 2242.5,317.6 2242.8,319.3 2243.1,323.2 2243.5,318.7 2243.8,321.0 2244.2,322.1 2244.5,323.3 2244.8,319.5 2245.2,319.9 2245.5,320.7 2245.9,316.9 2246.2,322.3 2246.5,327.6 2246.9,318.1 2247.2,319.4 2247.6,326.3 2247.9,317.4 2248.2,318.8 2248.6,320.8 2248.9,322.2 2249.3,322.1 2249.6,317.4 2249.9,316.8 2250.3,322.2 2250.6,323.6 2251.0,319.6 2251.3,316.9 2251.6,327.6 2252.0,323.4 2252.3,319.6 2252.7,319.7 2253.0,316.6 2253.3,326.2 2253.7,318.9 2254.0,320.0 2254.4,317.5 2254.7,323.3 2255.0,318.3 2255.4,323.7 2255.7,320.4 2256.1,322.3 2256.4,322.5 2256.7,317.7 2257.1,320.8 2257.4,321.6 2257.8,320.7 2258.1,315.7 2258.4,315.7 2258.8,319.4 2259.1,316.8 2259.5,322.7 2259.8,318.8 2260.1,316.1 2260.5,318.3 2260.8,316.8 2261.2,316.6 2261.5,319.0 2261.8,321.8 2262.2,315.6 2262.5,320.3 2262.9,323.5 2263.2,316.4 2263.5,322.2 2263.9,315.8 2264.2,316.4 2264.6,317.8 2264.9,317.4 2265.2,318.5 2265.6,323.1 2265.9,319.0 2266.3,319.1 2266.6,318.9 2266.9,317.9 2267.3,318.8 2267.6,321.3 2268.0,323.1 2268.3,319.2 2268.6,315.7 2269.0,316.1 2269.3,318.8 2269.7,319.1 2270.0,322.6 2270.3,321.4 2270.7,317.4 2271.0,320.1 2271.4,319.3 2271.7,318.7 2272.0,323.4 2272.4,319.7 2272.7,309.2 2273.1,320.9 2273.4,317.5 2273.7,323.8 2274.1,322.2 2274.4,320.1 2274.8,321.5 2275.1,314.5 2275.4,323.3 2275.8,318.9 2276.1,322.9 2276.5,317.5 2276.8,320.3 2277.1,316.0 2277.5,323.1 2277.8,319.1 2278.2,318.2 2278.5,319.9 2278.8,321.5 2279.2,319.5 2279.5,320.7 2279.9,318.2 2280.2,322.7 2280.5,322.2 2280.9,319.0 2281.2,321.9 2281.6,319.3 2281.9,318.7 2282.2,322.8 2282.6,322.4 2282.9,321.8 2283.3,314.1 2283.6,322.4 2283.9,318.4 2284.3,313.8 2284.6,322.0 2285.0,321.3 2285.3,315.9 2285.6,323.1 2286.0,317.1 2286.3,317.5 2286.7,321.8 2287.0,315.1 2287.3,321.4 2287.7,311.1 2288.0,323.2 2288.4,312.8 2288.7,321.8 2289.0,318.8 2289.4,324.3 2289.7,323.3 2290.1,323.3 2290.4,316.4 2290.7,321.0 2291.1,317.1 2291.4,322.3 2291.8,318.2 2292.1,318.0 2292.4,319.1 2292.8,323.5 2293.1,321.5 2293.5,320.5 2293.8,316.2 2294.1,323.7 2294.5,316.0 2294.8,317.3 2295.2,321.6 2295.5,318.6 2295.8,316.8 2296.2,320.6 2296.5,315.6 2296.9,322.9 2297.2,315.8 2297.5,317.5 2297.9,322.8 2298.2,321.0 2298.6,316.5 2298.9,321.8 2299.2,321.8 2299.6,322.5 2299.9,311.6 2300.3,322.5 2300.6,319.8 2300.9,321.1 2301.3,317.4 2301.6,314.5 2302.0,322.9 2302.3,321.4 2302.6,320.1 2303.0,316.6 2303.3,320.5 2303.7,322.7 2304.0,319.2 2304.3,318.6 2304.7,318.9 2305.0,321.3 2305.4,322.3 2305.7,315.0 2306.0,315.4 2306.4,317.0 2306.7,317.3 2307.1,321.5 2307.4,321.6 2307.7,325.0 2308.1,320.8 2308.4,316.8 2308.8,317.4 2309.1,320.0 2309.4,321.1 2309.8,316.4 2310.1,316.2 2310.5,321.9 2310.8,317.9 2311.1,317.5 2311.5,313.8 2311.8,315.6 2312.2,319.6 2312.5,323.2 2312.8,323.1 2313.2,323.3 2313.5,317.0 2313.9,332.7 2314.2,322.5 2314.5,323.2 2314.9,320.2 2315.2,321.4 2315.6,319.4 2315.9,321.2 2316.2,318.0 2316.6,321.6 2316.9,319.4 2317.3,315.7 2317.6,322.0 2317.9,322.6 2318.3,321.5 2318.6,317.9 2319.0,321.7 2319.3,317.9 2319.6,315.8 2320.0,320.3 2320.3,313.5 2320.7,317.5 2321.0,319.0 2321.3,317.9 2321.7,322.4 2322.0,322.0 2322.4,317.5 2322.7,321.9 2323.0,319.5 2323.4,321.7 2323.7,319.1 2324.1,319.4 2324.4,321.7 2324.7,317.6 2325.1,318.7 2325.4,317.1 2325.8,318.6 2326.1,327.0 2326.4,311.8 2326.8,319.1 2327.1,318.1 2327.5,316.7 2327.8,319.7 2328.1,319.6 2328.5,316.3 2328.8,321.6 2329.2,320.9 2329.5,320.9 2329.8,322.1 2330.2,318.0 2330.5,321.3 2330.9,321.7 2331.2,327.3 2331.5,319.9 2331.9,321.0 2332.2,316.3 2332.6,323.0 2332.9,318.7 2333.2,316.4 2333.6,321.7 2333.9,320.1 2334.3,324.9 2334.6,319.8 2334.9,321.7 2335.3,317.4 2335.6,321.1 2336.0,320.3 2336.3,322.3 2336.6,323.2 2337.0,328.8 2337.3,313.1 2337.7,322.5 2338.0,317.2 2338.3,322.1 2338.7,315.3 2339.0,325.2 2339.4,319.9 2339.7,317.3 2340.0,319.0 2340.4,322.1 2340.7,318.4 2341.1,321.8 2341.4,320.2 2341.7,319.8 2342.1,320.8 2342.4,321.7 2342.8,319.7 2343.1,323.1 2343.4,316.3 2343.8,318.6 2344.1,321.8 2344.5,322.1 2344.8,316.9 2345.1,322.4 2345.5,318.7 2345.8,322.4 2346.2,322.7 2346.5,314.5 2346.8,324.6 2347.2,315.6 2347.5,322.8 2347.9,324.6 2348.2,322.9 2348.5,319.6 2348.9,316.1 2348.7,295.5 2349.3,295.5 2349.6,315.5 2349.4,337.4 2350.0,337.4 2350.3,321.1 2350.7,319.4 2351.0,312.6 2351.4,326.6 2351.7,319.2 2352.0,315.8 2352.4,322.4 2352.7,318.9 2353.1,321.8 2353.4,317.6 2353.7,316.5 2354.1,316.3 2354.4,323.6 2354.8,319.9 2355.1,321.5 2355.4,318.4 2355.8,316.9 2356.1,321.8 2356.5,319.8 2356.8,319.5 2357.1,319.3 2357.5,318.5 2357.8,320.0 2358.2,322.7 2358.5,322.6 2358.8,314.8 2359.2,323.1 2359.5,316.1 2359.9,316.9 2360.2,319.9 2360.5,317.0 2360.9,315.7 2361.2,321.4 2361.6,319.8 2361.9,317.1 2362.2,318.9 2362.6,320.8 2362.9,322.7 2363.3,320.8 2363.6,321.8 2363.9,320.2 2364.3,317.2 2364.6,319.8 2365.0,316.7 2365.3,318.8 2365.6,317.5 2366.0,320.6 2366.3,314.6 2366.7,318.8 2367.0,317.2 2367.3,322.8 2367.7,322.4 2368.0,317.0 2368.4,323.2 2368.7,320.9 2369.0,320.4 2369.4,321.6 2369.7,320.6 2370.1,325.1 2370.4,322.8 2370.7,322.7 2371.1,323.7 2371.4,318.3 2371.8,319.9 2372.1,322.0 2372.4,317.9 2372.8,314.0 2373.1,316.3 2373.5,320.2 2373.8,319.3 2374.1,320.1 2374.5,322.4 2374.8,318.1 2375.2,320.3 2375.5,317.6 2375.8,322.6 2376.2,323.1 2376.5,320.7 2376.9,320.5 2377.2,320.1 2377.5,323.4 2377.9,323.6 2378.2,317.3 2378.6,319.0 2378.9,321.0 2379.2,322.3 2379.6,322.6 2379.9,316.6 2380.3,322.6 2380.6,322.0 2380.9,317.2 2381.3,318.7 2381.6,317.8 2382.0,323.7 2382.3,321.7 2382.6,318.0 2383.0,323.9 2383.3,320.8 2383.7,320.5 2384.0,322.3 2384.3,315.8 2384.2,305.0 2384.8,305.0 2385.1,319.6 2385.5,320.1 2385.8,321.2 2386.2,321.6 2386.5,318.2 2386.8,323.0 2387.2,318.2 2387.5,318.2 2387.9,315.6 2388.2,322.5 2388.5,317.6 2388.9,319.8 2389.2,323.4 2389.6,321.2 2389.9,319.9 2390.2,321.2 2390.6,316.7 2390.9,315.9 2391.3,316.2 2391.6,322.4 2391.9,319.1 2392.3,321.2 2392.6,317.0 2393.0,320.4 2393.3,315.7 2393.6,321.2 2394.0,324.9 2394.3,322.7 2394.7,314.5 2395.0,317.9 2395.3,321.9 2395.7,323.6 2396.0,319.4 2396.4,313.4 2396.7,317.3 2397.0,315.6 2397.4,321.4 2397.7,320.2 2398.1,321.8 2398.4,320.8 2398.7,322.5 2399.1,322.6 2399.4,317.3 2399.8,317.2 2400.1,326.1 2400.4,318.1 2400.8,316.4 2401.1,316.8 2401.5,323.7 2401.8,322.6 2402.1,325.0 2402.5,322.0 2402.8,320.4 2403.2,319.0 2403.5,316.8 2403.8,319.4 2404.2,321.4 2404.5,320.9 2404.9,322.0 2405.2,322.0 2405.5,319.8 2405.9,318.4 2406.2,316.5 2406.6,320.7 2406.9,323.1 2407.2,323.4 2407.6,323.3 2407.9,319.9 2408.3,321.9 2408.6,321.0 2408.9,317.3 2409.3,309.0 2409.6,323.4 2410.0,314.8 2410.3,322.8 2410.6,317.2 2411.0,320.6 2411.3,322.1 2411.7,317.2 2412.0,320.8 2412.3,315.4 2412.7,320.0 2413.0,323.1 2413.4,321.9 2413.7,319.3 2414.0,323.2 2414.4,322.3 2414.7,317.4 2415.1,322.8 2415.4,320.4 2415.7,329.0 2416.1,322.6 2416.4,317.5 2416.8,322.1 2417.1,322.2 2417.4,320.6 2417.8,323.1 2418.1,316.4 2418.5,320.5 2418.8,318.5 2419.1,323.0 2419.5,317.7 2419.8,317.4 2420.2,316.9 2420.5,321.3 2420.8,319.8 2421.2,323.2 2421.5,319.2 2421.9,322.6 2422.2,322.3 2422.5,322.1 2422.9,323.4 2423.2,317.6 2423.6,323.7 2423.9,321.8 2424.2,319.9 2424.6,317.7 2424.9,316.9 2425.3,318.8 2425.6,321.9 2425.9,318.6 2426.3,316.2 2426.6,317.9 2427.0,314.4 2427.3,326.2 2427.6,320.9 2428.0,319.9 2428.3,316.3 2428.7,318.0 2429.0,318.1 2429.3,321.8 2429.7,319.9 2430.0,318.7 2430.4,320.5 2430.7,321.6 2431.0,318.8 2431.4,321.3 2431.7,317.3 2432.1,314.5 2432.4,322.7 2432.7,317.8 2433.1,319.7 2433.4,316.8 2433.8,318.1 2434.1,317.7 2434.4,320.8 2434.8,313.4 2435.1,320.5 2435.5,319.4 2435.8,323.3 2436.1,317.7 2436.5,315.6 2436.8,317.4 2437.2,323.2 2437.5,328.4 2437.8,323.4 2438.2,313.4 2438.5,321.2 2438.9,324.6 2439.2,315.5 2439.5,320.9 2439.9,323.1 2440.2,316.5 2440.6,322.8 2440.9,316.5 2441.2,321.3 2441.6,316.1 2441.9,319.2 2442.3,318.0 2442.6,323.6 2442.9,316.3 2443.3,316.7 2443.6,316.6 2444.0,310.6 2444.3,319.2 2444.6,317.9 2445.0,322.8 2445.3,321.6 2445.7,316.9 2446.0,316.3 2446.3,319.9 2446.7,317.0 2447.0,319.5 2447.4,317.1 2447.7,317.2 2448.0,319.5 2448.4,319.7 2448.7,321.6 2449.1,320.2 2449.4,320.8 2449.7,322.4 2450.1,322.9 2450.4,318.8 2450.8,317.1 2451.1,316.9 2451.4,318.3 2451.8,320.6 2452.1,326.7 2452.5,320.2 2452.8,318.2 2453.1,324.3 2453.5,320.0 2453.8,323.2 2454.2,319.3 2454.5,320.7 2454.8,315.4 2455.2,319.1 2455.5,323.6 2455.9,320.6 2456.2,319.5 2456.5,333.1 2456.9,320.7 2457.2,318.2 2457.6,324.3 2457.9,322.0 2458.2,319.1 2458.6,320.6 2458.9,322.7 2459.3,316.6 2459.6,323.1 2459.9,319.3 2460.3,322.0 2460.6,315.4 2461.0,319.8 2461.3,320.1 2461.6,320.3 2462.0,318.5 2462.3,316.7 2462.7,323.1 2463.0,319.7 2463.3,321.2 2463.7,322.7 2464.0,315.3 2464.4,320.0 2464.7,317.4 2465.0,321.0 2465.4,321.3 2465.7,326.7 2466.1,322.8 2466.4,317.0 2466.7,320.5 2466.7,304.0 2467.3,304.0 2467.6,321.5 2468.0,317.3 2468.3,316.3 2468.7,322.6 2469.0,321.9 2469.3,319.5 2469.7,320.9 2470.0,318.8 2470.4,318.7 2470.7,320.1 2471.0,318.4 2471.4,316.3 2471.7,315.8 2472.1,319.1 2472.4,319.2 2472.7,328.8 2473.1,321.7 2473.4,321.1 2473.8,319.6 2474.1,317.3 2474.4,322.6 2474.8,318.2 2475.1,318.4 2475.5,323.4 2475.8,320.7 2476.1,322.4 2476.5,317.8 2476.8,325.5 2477.2,319.7 2477.5,322.7 2477.8,316.4 2478.2,321.0 2478.5,319.0 2478.9,317.1 2479.2,317.3 2479.5,320.9 2479.9,323.9 2480.2,315.9 2480.6,319.3 2480.9,323.5 2481.2,322.0 2481.6,317.8 2481.9,318.7 2482.3,320.5 2482.6,318.7 2482.9,319.0 2483.3,318.5 2483.6,321.1 2484.0,320.8 2484.3,317.2 2484.6,315.1 2485.0,322.4 2485.3,320.4 2485.7,316.0 2486.0,315.7 2486.3,322.7 2486.7,322.7 2487.0,318.3 2487.4,322.4 2487.7,322.6 2488.0,319.6 2488.4,319.7 2488.7,311.0 2489.1,323.3 2489.4,323.3 2489.7,318.9 2490.1,323.2 2490.4,320.3 2490.8,317.2 2491.1,317.5 2491.4,316.8 2491.8,321.8 2492.1,323.5 2492.5,312.5 2492.8,320.4 2493.1,321.8 2493.5,325.9 2493.8,311.0 2494.2,317.5 2494.5,315.7 2494.8,317.4 2495.2,316.9 2495.5,321.9 2495.9,318.1 2496.2,318.5 2496.5,317.8 2496.9,322.1 2497.2,323.2 2497.6,327.5 2497.9,332.2 2498.2,319.1 2498.6,319.3 2498.9,317.3 2499.3,323.5 2499.6,320.6 2499.9,321.1 2500.3,314.2 2500.6,316.9 2501.0,321.2 2501.3,322.8 2501.6,319.6 2502.0,319.5 2502.3,318.1 2502.7,318.9 2503.0,320.9 2503.3,323.1 2503.7,321.7 2503.7,306.0 2504.3,306.0 2504.6,322.3 2505.0,321.7 2505.3,321.2 2505.7,324.6 2506.0,322.2 2506.3,320.0 2506.7,320.7 2507.0,318.0 2507.4,318.4 2507.7,315.5 2508.0,315.8 2508.4,323.6 2508.7,322.7 2509.1,317.4 2509.4,323.3 2509.7,319.1 2510.1,317.0 2510.4,332.9 2510.8,327.2 2511.1,319.5 2511.4,323.5 2511.8,323.7 2512.1,318.7 2512.5,310.3 2512.8,320.2 2513.1,315.4 2513.5,315.8 2513.8,315.5 2514.2,316.4 2514.5,317.7 2514.8,322.2 2515.2,319.6 2515.5,322.9 2515.9,320.6 2516.2,320.7 2516.5,318.4 2516.9,317.4 2517.2,315.8 2517.6,319.8 2517.9,323.5 2518.2,316.2 2518.6,318.8 2518.9,316.7 2519.3,322.3 2519.6,330.1 2519.9,323.6 2520.3,325.6 2520.6,322.9 2520.3,319.5" fill="none" stroke="#e80000" stroke-width="3" stroke-linejoin="miter" stroke-miterlimit="3" stroke-linecap="butt"/>
<rect x="1381" y="224" width="1146" height="525" fill="none" stroke="#8e8e8e" stroke-width="2"/>
<rect x="1373.7" y="233.25" width="6.3" height="1.5" fill="#111"/>
<text x="1318.91" y="244.00" font-size="26.8" fill="#000" text-anchor="start" font-weight="normal" font-style="normal" textLength="54.55" lengthAdjust="spacingAndGlyphs" stroke="#000" stroke-width="0.12">1100</text>
<rect x="1373.7" y="291.83" width="6.3" height="1.5" fill="#111"/>
<text x="1318.91" y="302.58" font-size="26.8" fill="#000" text-anchor="start" font-weight="normal" font-style="normal" textLength="54.55" lengthAdjust="spacingAndGlyphs" stroke="#000" stroke-width="0.12">1000</text>
<rect x="1373.7" y="350.41" width="6.3" height="1.5" fill="#111"/>
<text x="1332.54" y="361.16" font-size="26.8" fill="#000" text-anchor="start" font-weight="normal" font-style="normal" textLength="40.91" lengthAdjust="spacingAndGlyphs" stroke="#000" stroke-width="0.12">900</text>
<rect x="1373.7" y="408.99" width="6.3" height="1.5" fill="#111"/>
<text x="1332.54" y="419.74" font-size="26.8" fill="#000" text-anchor="start" font-weight="normal" font-style="normal" textLength="40.91" lengthAdjust="spacingAndGlyphs" stroke="#000" stroke-width="0.12">800</text>
<rect x="1373.7" y="467.57" width="6.3" height="1.5" fill="#111"/>
<text x="1332.54" y="478.32" font-size="26.8" fill="#000" text-anchor="start" font-weight="normal" font-style="normal" textLength="40.91" lengthAdjust="spacingAndGlyphs" stroke="#000" stroke-width="0.12">700</text>
<rect x="1373.7" y="526.15" width="6.3" height="1.5" fill="#111"/>
<text x="1332.54" y="536.90" font-size="26.8" fill="#000" text-anchor="start" font-weight="normal" font-style="normal" textLength="40.91" lengthAdjust="spacingAndGlyphs" stroke="#000" stroke-width="0.12">600</text>
<rect x="1373.7" y="584.73" width="6.3" height="1.5" fill="#111"/>
<text x="1332.54" y="595.48" font-size="26.8" fill="#000" text-anchor="start" font-weight="normal" font-style="normal" textLength="40.91" lengthAdjust="spacingAndGlyphs" stroke="#000" stroke-width="0.12">500</text>
<rect x="1373.7" y="643.31" width="6.3" height="1.5" fill="#111"/>
<text x="1332.54" y="654.06" font-size="26.8" fill="#000" text-anchor="start" font-weight="normal" font-style="normal" textLength="40.91" lengthAdjust="spacingAndGlyphs" stroke="#000" stroke-width="0.12">400</text>
<rect x="1373.7" y="701.89" width="6.3" height="1.5" fill="#111"/>
<text x="1332.54" y="712.64" font-size="26.8" fill="#000" text-anchor="start" font-weight="normal" font-style="normal" textLength="40.91" lengthAdjust="spacingAndGlyphs" stroke="#000" stroke-width="0.12">300</text>
<rect x="1386.70" y="750" width="1.6" height="6.5" fill="#111"/>
<text x="1356.02" y="784.70" font-size="26.8" fill="#000" text-anchor="start" font-weight="normal" font-style="normal" textLength="61.36" lengthAdjust="spacingAndGlyphs" stroke="#000" stroke-width="0.12">00:00</text>
<rect x="1478.92" y="750" width="1.6" height="6.5" fill="#111"/>
<text x="1448.27" y="784.70" font-size="26.8" fill="#000" text-anchor="start" font-weight="normal" font-style="normal" textLength="61.36" lengthAdjust="spacingAndGlyphs" stroke="#000" stroke-width="0.12">00:05</text>
<rect x="1571.14" y="750" width="1.6" height="6.5" fill="#111"/>
<text x="1540.46" y="784.70" font-size="26.8" fill="#000" text-anchor="start" font-weight="normal" font-style="normal" textLength="61.36" lengthAdjust="spacingAndGlyphs" stroke="#000" stroke-width="0.12">00:10</text>
<rect x="1663.36" y="750" width="1.6" height="6.5" fill="#111"/>
<text x="1632.71" y="784.70" font-size="26.8" fill="#000" text-anchor="start" font-weight="normal" font-style="normal" textLength="61.36" lengthAdjust="spacingAndGlyphs" stroke="#000" stroke-width="0.12">00:15</text>
<rect x="1755.58" y="750" width="1.6" height="6.5" fill="#111"/>
<text x="1724.90" y="784.70" font-size="26.8" fill="#000" text-anchor="start" font-weight="normal" font-style="normal" textLength="61.36" lengthAdjust="spacingAndGlyphs" stroke="#000" stroke-width="0.12">00:20</text>
<rect x="1847.80" y="750" width="1.6" height="6.5" fill="#111"/>
<text x="1817.15" y="784.70" font-size="26.8" fill="#000" text-anchor="start" font-weight="normal" font-style="normal" textLength="61.36" lengthAdjust="spacingAndGlyphs" stroke="#000" stroke-width="0.12">00:25</text>
<rect x="1940.02" y="750" width="1.6" height="6.5" fill="#111"/>
<text x="1909.34" y="784.70" font-size="26.8" fill="#000" text-anchor="start" font-weight="normal" font-style="normal" textLength="61.36" lengthAdjust="spacingAndGlyphs" stroke="#000" stroke-width="0.12">00:30</text>
<rect x="2032.24" y="750" width="1.6" height="6.5" fill="#111"/>
<text x="2001.59" y="784.70" font-size="26.8" fill="#000" text-anchor="start" font-weight="normal" font-style="normal" textLength="61.36" lengthAdjust="spacingAndGlyphs" stroke="#000" stroke-width="0.12">00:35</text>
<rect x="2124.46" y="750" width="1.6" height="6.5" fill="#111"/>
<text x="2093.78" y="784.70" font-size="26.8" fill="#000" text-anchor="start" font-weight="normal" font-style="normal" textLength="61.36" lengthAdjust="spacingAndGlyphs" stroke="#000" stroke-width="0.12">00:40</text>
<rect x="2216.68" y="750" width="1.6" height="6.5" fill="#111"/>
<text x="2186.03" y="784.70" font-size="26.8" fill="#000" text-anchor="start" font-weight="normal" font-style="normal" textLength="61.36" lengthAdjust="spacingAndGlyphs" stroke="#000" stroke-width="0.12">00:45</text>
<rect x="2308.90" y="750" width="1.6" height="6.5" fill="#111"/>
<text x="2278.22" y="784.70" font-size="26.8" fill="#000" text-anchor="start" font-weight="normal" font-style="normal" textLength="61.36" lengthAdjust="spacingAndGlyphs" stroke="#000" stroke-width="0.12">00:50</text>
<rect x="2401.12" y="750" width="1.6" height="6.5" fill="#111"/>
<text x="2370.47" y="784.70" font-size="26.8" fill="#000" text-anchor="start" font-weight="normal" font-style="normal" textLength="61.36" lengthAdjust="spacingAndGlyphs" stroke="#000" stroke-width="0.12">00:55</text>
<rect x="2493.34" y="750" width="1.6" height="6.5" fill="#111"/>
<text x="2462.66" y="784.70" font-size="26.8" fill="#000" text-anchor="start" font-weight="normal" font-style="normal" textLength="61.36" lengthAdjust="spacingAndGlyphs" stroke="#000" stroke-width="0.12">01:00</text>
<text x="1926.70" y="820.00" font-size="26.8" fill="#000" text-anchor="start" font-weight="normal" font-style="italic" textLength="55.68" lengthAdjust="spacingAndGlyphs" stroke="#000" stroke-width="0.12">Time</text>
<text x="1322.35" y="186.00" font-size="30.5" fill="#000" text-anchor="start" font-weight="normal" font-style="normal" textLength="17.49" lengthAdjust="spacingAndGlyphs" stroke="#000" stroke-width="0.12">↓</text>
<text x="1345.24" y="186.90" font-size="26.6" fill="#d0141c" text-anchor="start" font-weight="normal" font-style="normal" textLength="41.86" lengthAdjust="spacingAndGlyphs" stroke="#d0141c" stroke-width="0.12">233</text>
<text x="1420.64" y="186.90" font-size="26.6" fill="#000" text-anchor="start" font-weight="normal" font-style="normal" textLength="19.41" lengthAdjust="spacingAndGlyphs" stroke="#000" stroke-width="0.12">Ø</text>
<text x="1449.34" y="186.90" font-size="26.6" fill="#d0141c" text-anchor="start" font-weight="normal" font-style="normal" textLength="61.74" lengthAdjust="spacingAndGlyphs" stroke="#d0141c" stroke-width="0.12">951,6</text>
<text x="1541.18" y="186.00" font-size="30.5" fill="#000" text-anchor="start" font-weight="normal" font-style="normal" textLength="18.13" lengthAdjust="spacingAndGlyphs" stroke="#000" stroke-width="0.12">↑</text>
<text x="1565.10" y="186.90" font-size="26.6" fill="#d0141c" text-anchor="start" font-weight="normal" font-style="normal" textLength="55.60" lengthAdjust="spacingAndGlyphs" stroke="#d0141c" stroke-width="0.12">1106</text>
<rect x="2273" y="160" width="8.2" height="32.8" fill="#ff0000"/>
<text x="2289.12" y="187.60" font-size="31" fill="#000" text-anchor="start" font-weight="normal" font-style="normal" textLength="229.97" lengthAdjust="spacingAndGlyphs" stroke="#000" stroke-width="0.75">GPU Clock [MHz]</text>
<rect x="69" y="954" width="1172" height="523" fill="url(#pg)"/>
<rect x="69" y="1005.75" width="1172" height="1.5" fill="#000"/>
<rect x="69" y="1067.75" width="1172" height="1.5" fill="#000"/>
<rect x="69" y="1128.75" width="1172" height="1.5" fill="#000"/>
<rect x="69" y="1189.75" width="1172" height="1.5" fill="#000"/>
<rect x="69" y="1250.75" width="1172" height="1.5" fill="#000"/>
<rect x="69" y="1310.75" width="1172" height="1.5" fill="#000"/>
<rect x="69" y="1371.75" width="1172" height="1.5" fill="#000"/>
<rect x="69" y="1431.75" width="1172" height="1.5" fill="#000"/>
<polyline points="74.4,1470.7 75.5,1440.0 76.2,1443.0 77.2,1350.0 78.4,999.0 79.4,1000.0 80.5,1083.0 81.5,1050.0 83.0,1010.0 85.0,975.0 87.5,960.0 88.8,957.0 89.8,962.0 90.8,1000.0 92.0,1035.0 93.5,1052.0 95.5,1059.5 95.5,1060.8 96.5,1060.8 96.5,1060.8 98.6,1060.8 98.6,1060.8 99.5,1060.8 99.5,1060.8 101.1,1060.8 101.1,1060.8 103.2,1060.8 103.2,1060.8 104.5,1060.8 104.5,1060.8 106.1,1060.8 106.1,1057.7 107.2,1057.7 107.2,1057.7 107.9,1057.7 107.9,1060.8 109.7,1060.8 109.7,1057.7 111.6,1057.7 111.6,1060.8 113.1,1060.8 113.1,1060.8 113.9,1060.8 113.9,1057.7 116.1,1057.7 116.1,1057.7 117.9,1057.7 117.9,1054.7 119.0,1054.7 119.0,1054.7 120.0,1054.7 120.0,1054.7 121.5,1054.7 121.5,1054.7 122.7,1054.7 122.7,1054.7 123.5,1054.7 123.5,1054.7 125.5,1054.7 125.5,1057.7 127.0,1057.7 127.0,1054.7 127.8,1054.7 127.8,1054.7 134.9,1054.7 134.9,1054.7 135.8,1054.7 135.8,1057.7 137.2,1057.7 137.2,1054.7 138.3,1054.7 138.3,1057.7 140.2,1057.7 140.2,1054.7 140.9,1054.7 140.9,1054.7 157.4,1054.7 157.4,1057.7 158.0,1057.7 158.0,1057.7 159.4,1057.7 159.4,1054.7 161.4,1054.7 161.4,1057.7 162.2,1057.7 162.2,1054.7 163.8,1054.7 163.8,1054.7 164.6,1054.7 164.6,1057.7 166.3,1057.7 166.3,1054.7 167.6,1054.7 167.6,1057.7 168.6,1057.7 168.6,1057.7 170.8,1057.7 170.8,1054.7 171.4,1054.7 171.4,1054.7 173.3,1054.7 173.3,1054.7 174.0,1054.7 174.0,1054.7 175.8,1054.7 175.8,1057.7 176.8,1057.7 176.8,1057.7 178.7,1057.7 178.7,1057.7 180.6,1057.7 180.6,1054.7 182.5,1054.7 182.5,1057.7 210.5,1057.7 210.5,1054.7 234.1,1054.7 234.1,1054.7 251.3,1054.7 251.3,1054.7 271.6,1054.7 271.6,1051.6 273.1,1051.6 273.1,1054.7 274.1,1054.7 274.1,1051.6 276.2,1051.6 276.2,1051.6 278.3,1051.6 278.3,1054.7 279.8,1054.7 279.8,1054.7 281.5,1054.7 281.5,1051.6 283.6,1051.6 283.6,1054.7 298.3,1054.7 298.3,1051.6 298.9,1051.6 298.9,1054.7 300.8,1054.7 300.8,1051.6 301.6,1051.6 301.6,1051.6 303.5,1051.6 303.5,1054.7 305.5,1054.7 305.5,1054.7 307.3,1054.7 307.3,1054.7 307.9,1054.7 307.9,1051.6 309.9,1051.6 309.9,1054.7 311.0,1054.7 311.0,1051.6 312.1,1051.6 312.1,1051.6 313.5,1051.6 313.5,1051.6 314.4,1051.6 314.4,1051.6 315.4,1051.6 315.4,1051.6 316.1,1051.6 316.1,1051.6 316.9,1051.6 316.9,1054.7 318.4,1054.7 318.4,1051.6 320.0,1051.6 320.0,1051.6 320.7,1051.6 320.7,1051.6 321.8,1051.6 321.8,1051.6 322.8,1051.6 322.8,1051.6 324.7,1051.6 324.7,1051.6 325.8,1051.6 325.8,1054.7 326.8,1054.7 326.8,1051.6 327.6,1051.6 327.6,1054.7 328.8,1054.7 328.8,1051.6 330.9,1051.6 330.9,1054.7 351.7,1054.7 351.7,1051.6 364.3,1051.6 364.3,1054.7 365.7,1054.7 365.7,1054.7 366.9,1054.7 366.9,1054.7 367.7,1054.7 367.7,1054.7 368.6,1054.7 368.6,1051.6 370.6,1051.6 370.6,1051.6 385.8,1051.6 385.8,1054.7 387.4,1054.7 387.4,1051.6 389.0,1051.6 389.0,1054.7 390.9,1054.7 390.9,1051.6 392.2,1051.6 392.2,1051.6 394.0,1051.6 394.0,1051.6 394.9,1051.6 394.9,1051.6 395.8,1051.6 395.8,1051.6 397.2,1051.6 397.2,1054.7 397.9,1054.7 397.9,1051.6 399.4,1051.6 399.4,1054.7 401.4,1054.7 401.4,1054.7 402.2,1054.7 402.2,1054.7 404.4,1054.7 404.4,1054.7 405.8,1054.7 405.8,1054.7 408.0,1054.7 408.0,1051.6 409.4,1051.6 409.4,1051.6 410.9,1051.6 410.9,1054.7 411.9,1054.7 411.9,1051.6 414.0,1051.6 414.0,1051.6 415.0,1051.6 415.0,1051.6 417.0,1051.6 417.0,1051.6 418.9,1051.6 418.9,1054.7 420.9,1054.7 420.9,1051.6 422.8,1051.6 422.8,1051.6 424.4,1051.6 424.4,1054.7 426.5,1054.7 426.5,1051.6 427.3,1051.6 427.3,1051.6 428.4,1051.6 428.4,1054.7 429.4,1054.7 429.4,1054.7 431.1,1054.7 431.1,1054.7 433.0,1054.7 433.0,1051.6 434.6,1051.6 434.6,1051.6 435.7,1051.6 435.7,1051.6 437.5,1051.6 437.5,1054.7 438.2,1054.7 438.2,1054.7 438.9,1054.7 438.9,1051.6 440.0,1051.6 440.0,1054.7 441.3,1054.7 441.3,1054.7 442.5,1054.7 442.5,1051.6 443.4,1051.6 443.4,1051.6 444.1,1051.6 444.1,1054.7 445.9,1054.7 445.9,1054.7 446.6,1054.7 446.6,1051.6 447.7,1051.6 447.7,1051.6 449.9,1051.6 449.9,1054.7 450.7,1054.7 450.7,1051.6 452.6,1051.6 452.6,1051.6 453.6,1051.6 453.6,1051.6 454.8,1051.6 454.8,1054.7 455.9,1054.7 455.9,1054.7 456.6,1054.7 456.6,1054.7 458.1,1054.7 458.1,1051.6 460.1,1051.6 460.1,1054.7 461.7,1054.7 461.7,1051.6 462.6,1051.6 462.6,1054.7 463.7,1054.7 463.7,1051.6 465.1,1051.6 465.1,1051.6 466.7,1051.6 466.7,1054.7 467.4,1054.7 467.4,1051.6 469.1,1051.6 469.1,1054.7 470.2,1054.7 470.2,1054.7 471.4,1054.7 471.4,1054.7 472.2,1054.7 472.2,1054.7 473.0,1054.7 473.0,1054.7 474.8,1054.7 474.8,1054.7 476.6,1054.7 476.6,1054.7 477.8,1054.7 477.8,1054.7 479.5,1054.7 479.5,1054.7 481.2,1054.7 481.2,1054.7 483.3,1054.7 483.3,1054.7 485.3,1054.7 485.3,1054.7 486.5,1054.7 486.5,1054.7 487.7,1054.7 487.7,1054.7 489.7,1054.7 489.7,1054.7 517.0,1054.7 517.0,1051.6 518.7,1051.6 518.7,1054.7 519.8,1054.7 519.8,1051.6 521.6,1051.6 521.6,1054.7 522.6,1054.7 522.6,1051.6 523.3,1051.6 523.3,1054.7 525.3,1054.7 525.3,1051.6 527.1,1051.6 527.1,1051.6 528.1,1051.6 528.1,1054.7 529.9,1054.7 529.9,1051.6 531.6,1051.6 531.6,1051.6 532.8,1051.6 532.8,1054.7 533.4,1054.7 533.4,1051.6 534.6,1051.6 534.6,1054.7 535.5,1054.7 535.5,1051.6 537.7,1051.6 537.7,1054.7 538.9,1054.7 538.9,1054.7 540.7,1054.7 540.7,1054.7 541.4,1054.7 541.4,1051.6 542.6,1051.6 542.6,1051.6 543.8,1051.6 543.8,1054.7 544.8,1054.7 544.8,1051.6 545.9,1051.6 545.9,1051.6 546.6,1051.6 546.6,1054.7 548.0,1054.7 548.0,1051.6 549.5,1051.6 549.5,1051.6 550.9,1051.6 550.9,1054.7 553.0,1054.7 553.0,1051.6 554.9,1051.6 554.9,1051.6 555.6,1051.6 555.6,1051.6 557.5,1051.6 557.5,1054.7 559.3,1054.7 559.3,1054.7 560.5,1054.7 560.5,1054.7 562.4,1054.7 562.4,1054.7 564.4,1054.7 564.4,1054.7 565.5,1054.7 565.5,1051.6 567.1,1051.6 567.1,1051.6 568.0,1051.6 568.0,1051.6 569.7,1051.6 569.7,1051.6 570.4,1051.6 570.4,1054.7 572.5,1054.7 572.5,1051.6 574.2,1051.6 574.2,1051.6 575.1,1051.6 575.1,1054.7 577.0,1054.7 577.0,1054.7 578.9,1054.7 578.9,1054.7 580.4,1054.7 580.4,1051.6 581.2,1051.6 581.2,1054.7 583.2,1054.7 583.2,1054.7 585.3,1054.7 585.3,1051.6 586.6,1051.6 586.6,1054.7 588.6,1054.7 588.6,1051.6 589.2,1051.6 589.2,1051.6 591.3,1051.6 591.3,1054.7 593.2,1054.7 593.2,1051.6 594.1,1051.6 594.1,1054.7 595.4,1054.7 595.4,1051.6 597.6,1051.6 597.6,1051.6 598.9,1051.6 598.9,1054.7 600.7,1054.7 600.7,1054.7 601.7,1054.7 601.7,1054.7 603.9,1054.7 603.9,1051.6 605.2,1051.6 605.2,1054.7 606.0,1054.7 606.0,1054.7 607.8,1054.7 607.8,1051.6 610.0,1051.6 610.0,1054.7 610.8,1054.7 610.8,1051.6 640.5,1051.6 640.5,1054.7 642.1,1054.7 642.1,1054.7 642.8,1054.7 642.8,1051.6 644.7,1051.6 644.7,1054.7 645.6,1054.7 645.6,1051.6 646.9,1051.6 646.9,1051.6 649.1,1051.6 649.1,1054.7 649.7,1054.7 649.7,1054.7 650.5,1054.7 650.5,1054.7 652.0,1054.7 652.0,1054.7 654.0,1054.7 654.0,1054.7 654.9,1054.7 654.9,1051.6 656.7,1051.6 656.7,1051.6 658.6,1051.6 658.6,1054.7 659.7,1054.7 659.7,1051.6 661.0,1051.6 661.0,1054.7 661.7,1054.7 661.7,1051.6 663.2,1051.6 663.2,1054.7 665.3,1054.7 665.3,1051.6 667.4,1051.6 667.4,1054.7 668.6,1054.7 668.6,1054.7 669.8,1054.7 669.8,1054.7 670.4,1054.7 670.4,1054.7 671.6,1054.7 671.6,1051.6 672.4,1051.6 672.4,1051.6 673.4,1051.6 673.4,1054.7 674.6,1054.7 674.6,1051.6 676.7,1051.6 676.7,1054.7 678.8,1054.7 678.8,1051.6 679.5,1051.6 679.5,1054.7 680.6,1054.7 680.6,1051.6 681.4,1051.6 681.4,1051.6 682.5,1051.6 682.5,1054.7 684.7,1054.7 684.7,1051.6 686.5,1051.6 686.5,1054.7 688.5,1054.7 688.5,1054.7 690.6,1054.7 690.6,1051.6 692.4,1051.6 692.4,1054.7 693.6,1054.7 693.6,1051.6 695.4,1051.6 695.4,1054.7 697.2,1054.7 697.2,1054.7 699.0,1054.7 699.0,1051.6 701.1,1051.6 701.1,1054.7 702.3,1054.7 702.3,1054.7 704.4,1054.7 704.4,1054.7 706.2,1054.7 706.2,1051.6 707.9,1051.6 707.9,1054.7 709.1,1054.7 709.1,1054.7 710.0,1054.7 710.0,1054.7 711.9,1054.7 711.9,1051.6 712.9,1051.6 712.9,1051.6 714.1,1051.6 714.1,1051.6 715.4,1051.6 715.4,1051.6 716.9,1051.6 716.9,1051.6 718.0,1051.6 718.0,1051.6 720.0,1051.6 720.0,1054.7 721.6,1054.7 721.6,1051.6 723.7,1051.6 723.7,1051.6 725.3,1051.6 725.3,1051.6 727.2,1051.6 727.2,1051.6 728.9,1051.6 728.9,1054.7 730.6,1054.7 730.6,1051.6 731.7,1051.6 731.7,1054.7 732.4,1054.7 732.4,1051.6 733.0,1051.6 733.0,1054.7 733.9,1054.7 733.9,1054.7 735.2,1054.7 735.2,1054.7 736.8,1054.7 736.8,1054.7 737.6,1054.7 737.6,1054.7 738.8,1054.7 738.8,1051.6 740.7,1051.6 740.7,1051.6 742.4,1051.6 742.4,1051.6 743.7,1051.6 743.7,1051.6 745.0,1051.6 745.0,1054.7 746.1,1054.7 746.1,1054.7 746.9,1054.7 746.9,1054.7 748.0,1054.7 748.0,1054.7 750.1,1054.7 750.1,1054.7 752.0,1054.7 752.0,1054.7 758.3,1054.7 758.3,1054.7 760.1,1054.7 760.1,1054.7 761.7,1054.7 761.7,1054.7 762.7,1054.7 762.7,1054.7 764.6,1054.7 764.6,1051.6 765.4,1051.6 765.4,1054.7 767.4,1054.7 767.4,1054.7 768.0,1054.7 768.0,1054.7 770.1,1054.7 770.1,1054.7 772.2,1054.7 772.2,1054.7 773.9,1054.7 773.9,1054.7 775.0,1054.7 775.0,1051.6 776.1,1051.6 776.1,1051.6 776.8,1051.6 776.8,1051.6 777.9,1051.6 777.9,1051.6 778.5,1051.6 778.5,1054.7 780.4,1054.7 780.4,1051.6 782.1,1051.6 782.1,1054.7 782.8,1054.7 782.8,1054.7 784.3,1054.7 784.3,1051.6 786.4,1051.6 786.4,1054.7 787.8,1054.7 787.8,1054.7 789.8,1054.7 789.8,1051.6 791.8,1051.6 791.8,1054.7 792.9,1054.7 792.9,1051.6 794.3,1051.6 794.3,1051.6 796.2,1051.6 796.2,1051.6 798.3,1051.6 798.3,1051.6 827.1,1051.6 827.1,1054.7 829.2,1054.7 829.2,1054.7 830.3,1054.7 830.3,1054.7 831.7,1054.7 831.7,1054.7 833.0,1054.7 833.0,1054.7 834.6,1054.7 834.6,1051.6 835.5,1051.6 835.5,1051.6 836.5,1051.6 836.5,1054.7 837.4,1054.7 837.4,1054.7 838.1,1054.7 838.1,1051.6 839.7,1051.6 839.7,1051.6 841.4,1051.6 841.4,1054.7 842.9,1054.7 842.9,1054.7 853.6,1054.7 853.6,1054.7 854.5,1054.7 854.5,1051.6 856.1,1051.6 856.1,1054.7 857.0,1054.7 857.0,1051.6 858.4,1051.6 858.4,1054.7 859.8,1054.7 859.8,1054.7 861.9,1054.7 861.9,1051.6 863.2,1051.6 863.2,1054.7 865.1,1054.7 865.1,1054.7 866.2,1054.7 866.2,1051.6 867.9,1051.6 867.9,1054.7 869.8,1054.7 869.8,1054.7 870.6,1054.7 870.6,1054.7 871.6,1054.7 871.6,1051.6 872.2,1051.6 872.2,1051.6 873.4,1051.6 873.4,1054.7 874.7,1054.7 874.7,1051.6 876.6,1051.6 876.6,1054.7 878.5,1054.7 878.5,1054.7 879.9,1054.7 879.9,1054.7 881.6,1054.7 881.6,1051.6 883.6,1051.6 883.6,1051.6 884.6,1051.6 884.6,1054.7 886.0,1054.7 886.0,1051.6 888.0,1051.6 888.0,1054.7 888.6,1054.7 888.6,1051.6 889.8,1051.6 889.8,1051.6 891.5,1051.6 891.5,1051.6 892.3,1051.6 892.3,1051.6 894.3,1051.6 894.3,1054.7 896.2,1054.7 896.2,1051.6 897.3,1051.6 897.3,1051.6 898.7,1051.6 898.7,1054.7 899.6,1054.7 899.6,1054.7 901.7,1054.7 901.7,1054.7 902.3,1054.7 902.3,1051.6 903.9,1051.6 903.9,1051.6 906.1,1051.6 906.1,1054.7 907.6,1054.7 907.6,1054.7 909.2,1054.7 909.2,1051.6 910.7,1051.6 910.7,1054.7 911.9,1054.7 911.9,1051.6 912.6,1051.6 912.6,1054.7 913.6,1054.7 913.6,1051.6 914.4,1051.6 914.4,1054.7 915.7,1054.7 915.7,1054.7 917.2,1054.7 917.2,1054.7 918.3,1054.7 918.3,1051.6 920.2,1051.6 920.2,1051.6 921.3,1051.6 921.3,1054.7 922.4,1054.7 922.4,1051.6 923.7,1051.6 923.7,1054.7 925.3,1054.7 925.3,1051.6 926.5,1051.6 926.5,1054.7 928.4,1054.7 928.4,1051.6 929.8,1051.6 929.8,1051.6 931.9,1051.6 931.9,1051.6 934.0,1051.6 934.0,1051.6 935.0,1051.6 935.0,1051.6 936.1,1051.6 936.1,1051.6 937.3,1051.6 937.3,1051.6 938.1,1051.6 938.1,1054.7 939.8,1054.7 939.8,1051.6 940.6,1051.6 940.6,1051.6 941.5,1051.6 941.5,1054.7 943.1,1054.7 943.1,1051.6 971.5,1051.6 971.5,1051.6 972.2,1051.6 972.2,1051.6 973.7,1051.6 973.7,1054.7 975.9,1054.7 975.9,1051.6 976.9,1051.6 976.9,1051.6 978.9,1051.6 978.9,1051.6 980.2,1051.6 980.2,1051.6 1006.9,1051.6 1006.9,1054.7 1007.7,1054.7 1007.7,1054.7 1009.4,1054.7 1009.4,1051.6 1010.5,1051.6 1010.5,1051.6 1012.5,1051.6 1012.5,1051.6 1014.1,1051.6 1014.1,1054.7 1015.6,1054.7 1015.6,1054.7 1016.6,1054.7 1016.6,1054.7 1018.4,1054.7 1018.4,1051.6 1020.2,1051.6 1020.2,1054.7 1020.8,1054.7 1020.8,1051.6 1021.7,1051.6 1021.7,1054.7 1023.6,1054.7 1023.6,1051.6 1025.7,1051.6 1025.7,1051.6 1027.0,1051.6 1027.0,1054.7 1028.1,1054.7 1028.1,1054.7 1028.7,1054.7 1028.7,1051.6 1030.7,1051.6 1030.7,1054.7 1031.5,1054.7 1031.5,1051.6 1032.9,1051.6 1032.9,1051.6 1035.0,1051.6 1035.0,1051.6 1037.1,1051.6 1037.1,1054.7 1038.7,1054.7 1038.7,1051.6 1039.7,1051.6 1039.7,1051.6 1041.9,1051.6 1041.9,1054.7 1044.0,1054.7 1044.0,1054.7 1046.1,1054.7 1046.1,1054.7 1047.4,1054.7 1047.4,1054.7 1048.1,1054.7 1048.1,1054.7 1048.7,1054.7 1048.7,1051.6 1050.6,1051.6 1050.6,1054.7 1052.2,1054.7 1052.2,1051.6 1053.3,1051.6 1053.3,1051.6 1054.4,1051.6 1054.4,1054.7 1056.0,1054.7 1056.0,1054.7 1062.4,1054.7 1062.4,1051.6 1069.8,1051.6 1069.8,1054.7 1070.9,1054.7 1070.9,1051.6 1072.8,1051.6 1072.8,1051.6 1074.3,1051.6 1074.3,1051.6 1075.2,1051.6 1075.2,1054.7 1076.1,1054.7 1076.1,1054.7 1077.7,1054.7 1077.7,1054.7 1079.3,1054.7 1079.3,1054.7 1081.2,1054.7 1081.2,1054.7 1082.2,1054.7 1082.2,1051.6 1083.7,1051.6 1083.7,1054.7 1085.4,1054.7 1085.4,1051.6 1087.6,1051.6 1087.6,1054.7 1088.8,1054.7 1088.8,1051.6 1089.7,1051.6 1089.7,1051.6 1091.4,1051.6 1091.4,1051.6 1093.3,1051.6 1093.3,1051.6 1095.3,1051.6 1095.3,1054.7 1097.0,1054.7 1097.0,1054.7 1098.0,1054.7 1098.0,1051.6 1099.2,1051.6 1099.2,1051.6 1101.4,1051.6 1101.4,1054.7 1114.0,1054.7 1114.0,1051.6 1115.3,1051.6 1115.3,1051.6 1117.4,1051.6 1117.4,1054.7 1118.8,1054.7 1118.8,1054.7 1120.0,1054.7 1120.0,1051.6 1121.2,1051.6 1121.2,1054.7 1123.1,1054.7 1123.1,1051.6 1124.7,1051.6 1124.7,1054.7 1126.3,1054.7 1126.3,1054.7 1127.4,1054.7 1127.4,1051.6 1128.6,1051.6 1128.6,1051.6 1130.6,1051.6 1130.6,1051.6 1132.3,1051.6 1132.3,1054.7 1133.7,1054.7 1133.7,1051.6 1135.6,1051.6 1135.6,1054.7 1137.8,1054.7 1137.8,1054.7 1139.9,1054.7 1139.9,1051.6 1140.5,1051.6 1140.5,1054.7 1142.5,1054.7 1142.5,1051.6 1143.6,1051.6 1143.6,1054.7 1145.3,1054.7 1145.3,1051.6 1147.1,1051.6 1147.1,1054.7 1148.8,1054.7 1148.8,1054.7 1149.6,1054.7 1149.6,1051.6 1150.9,1051.6 1150.9,1051.6 1152.1,1051.6 1152.1,1054.7 1153.9,1054.7 1153.9,1051.6 1155.6,1051.6 1155.6,1054.7 1156.6,1054.7 1156.6,1051.6 1158.4,1051.6 1158.4,1051.6 1159.5,1051.6 1159.5,1051.6 1161.7,1051.6 1161.7,1051.6 1163.0,1051.6 1163.0,1051.6 1164.4,1051.6 1164.4,1054.7 1166.4,1054.7 1166.4,1054.7 1168.5,1054.7 1168.5,1051.6 1170.2,1051.6 1170.2,1051.6 1171.1,1051.6 1171.1,1054.7 1171.9,1054.7 1171.9,1054.7 1173.7,1054.7 1173.7,1051.6 1174.9,1051.6 1174.9,1054.7 1176.6,1054.7 1176.6,1054.7 1177.2,1054.7 1177.2,1054.7 1178.0,1054.7 1178.0,1051.6 1179.8,1051.6 1179.8,1051.6 1180.7,1051.6 1180.7,1051.6 1181.9,1051.6 1181.9,1054.7 1182.6,1054.7 1182.6,1054.7 1183.9,1054.7 1183.9,1051.6 1185.4,1051.6 1185.4,1051.6 1186.2,1051.6 1186.2,1054.7 1187.7,1054.7 1187.7,1051.6 1188.6,1051.6 1188.6,1051.6 1189.9,1051.6 1189.9,1051.6 1192.0,1051.6 1192.0,1051.6 1193.2,1051.6 1193.2,1051.6 1194.3,1051.6 1194.3,1054.7 1195.5,1054.7 1195.5,1051.6 1196.7,1051.6 1196.7,1054.7 1197.5,1054.7 1197.5,1054.7 1199.6,1054.7 1199.6,1054.7 1200.9,1054.7 1200.9,1054.7 1202.6,1054.7 1202.6,1051.6 1203.3,1051.6 1203.3,1054.7 1204.6,1054.7 1204.6,1051.6 1205.2,1051.6 1205.2,1051.6 1207.0,1051.6 1207.0,1054.7 1207.8,1054.7 1207.8,1054.7 1209.7,1054.7 1209.7,1051.6 1211.2,1051.6 1211.2,1051.6 1212.7,1051.6 1212.7,1051.6 1214.8,1051.6 1214.8,1051.6 1217.0,1051.6 1217.0,1051.6 1218.3,1051.6 1218.3,1051.6 1220.5,1051.6 1220.5,1051.6 1222.7,1051.6 1222.7,1051.6 1223.4,1051.6 1223.4,1051.6 1224.1,1051.6 1224.1,1045.5 1225.0,1045.5 1225.0,1045.5 1227.2,1045.5 1227.2,1048.5 1228.8,1048.5 1228.8,1048.5 1230.1,1048.5 1230.1,1048.5 1230.7,1048.5 1230.7,1048.5 1232.6,1048.5 1232.6,1045.5 1233.4,1045.5 1233.4,1048.5 1234.8,1048.5" fill="none" stroke="#e80000" stroke-width="3" stroke-linejoin="miter" stroke-miterlimit="3" stroke-linecap="butt"/>
<rect x="68" y="953" width="1174" height="525" fill="none" stroke="#8e8e8e" stroke-width="2"/>
<rect x="60.7" y="1006.95" width="6.3" height="1.5" fill="#111"/>
<text x="32.49" y="1017.70" font-size="26.8" fill="#000" text-anchor="start" font-weight="normal" font-style="normal" textLength="27.28" lengthAdjust="spacingAndGlyphs" stroke="#000" stroke-width="0.12">38</text>
<rect x="60.7" y="1069.55" width="6.3" height="1.5" fill="#111"/>
<text x="32.50" y="1080.30" font-size="26.8" fill="#000" text-anchor="start" font-weight="normal" font-style="normal" textLength="27.28" lengthAdjust="spacingAndGlyphs" stroke="#000" stroke-width="0.12">36</text>
<rect x="60.7" y="1130.15" width="6.3" height="1.5" fill="#111"/>
<text x="32.14" y="1140.90" font-size="26.8" fill="#000" text-anchor="start" font-weight="normal" font-style="normal" textLength="27.28" lengthAdjust="spacingAndGlyphs" stroke="#000" stroke-width="0.12">34</text>
<rect x="60.7" y="1191.05" width="6.3" height="1.5" fill="#111"/>
<text x="32.66" y="1201.80" font-size="26.8" fill="#000" text-anchor="start" font-weight="normal" font-style="normal" textLength="27.28" lengthAdjust="spacingAndGlyphs" stroke="#000" stroke-width="0.12">32</text>
<rect x="60.7" y="1251.85" width="6.3" height="1.5" fill="#111"/>
<text x="32.38" y="1262.60" font-size="26.8" fill="#000" text-anchor="start" font-weight="normal" font-style="normal" textLength="27.28" lengthAdjust="spacingAndGlyphs" stroke="#000" stroke-width="0.12">30</text>
<rect x="60.7" y="1312.45" width="6.3" height="1.5" fill="#111"/>
<text x="32.49" y="1323.20" font-size="26.8" fill="#000" text-anchor="start" font-weight="normal" font-style="normal" textLength="27.28" lengthAdjust="spacingAndGlyphs" stroke="#000" stroke-width="0.12">28</text>
<rect x="60.7" y="1372.85" width="6.3" height="1.5" fill="#111"/>
<text x="32.50" y="1383.60" font-size="26.8" fill="#000" text-anchor="start" font-weight="normal" font-style="normal" textLength="27.28" lengthAdjust="spacingAndGlyphs" stroke="#000" stroke-width="0.12">26</text>
<rect x="60.7" y="1433.55" width="6.3" height="1.5" fill="#111"/>
<text x="32.14" y="1444.30" font-size="26.8" fill="#000" text-anchor="start" font-weight="normal" font-style="normal" textLength="27.28" lengthAdjust="spacingAndGlyphs" stroke="#000" stroke-width="0.12">24</text>
<rect x="73.60" y="1479" width="1.6" height="6.5" fill="#111"/>
<text x="42.92" y="1513.70" font-size="26.8" fill="#000" text-anchor="start" font-weight="normal" font-style="normal" textLength="61.36" lengthAdjust="spacingAndGlyphs" stroke="#000" stroke-width="0.12">00:00</text>
<rect x="168.05" y="1479" width="1.6" height="6.5" fill="#111"/>
<text x="137.40" y="1513.70" font-size="26.8" fill="#000" text-anchor="start" font-weight="normal" font-style="normal" textLength="61.36" lengthAdjust="spacingAndGlyphs" stroke="#000" stroke-width="0.12">00:05</text>
<rect x="262.50" y="1479" width="1.6" height="6.5" fill="#111"/>
<text x="231.82" y="1513.70" font-size="26.8" fill="#000" text-anchor="start" font-weight="normal" font-style="normal" textLength="61.36" lengthAdjust="spacingAndGlyphs" stroke="#000" stroke-width="0.12">00:10</text>
<rect x="356.95" y="1479" width="1.6" height="6.5" fill="#111"/>
<text x="326.30" y="1513.70" font-size="26.8" fill="#000" text-anchor="start" font-weight="normal" font-style="normal" textLength="61.36" lengthAdjust="spacingAndGlyphs" stroke="#000" stroke-width="0.12">00:15</text>
<rect x="451.40" y="1479" width="1.6" height="6.5" fill="#111"/>
<text x="420.72" y="1513.70" font-size="26.8" fill="#000" text-anchor="start" font-weight="normal" font-style="normal" textLength="61.36" lengthAdjust="spacingAndGlyphs" stroke="#000" stroke-width="0.12">00:20</text>
<rect x="545.85" y="1479" width="1.6" height="6.5" fill="#111"/>
<text x="515.20" y="1513.70" font-size="26.8" fill="#000" text-anchor="start" font-weight="normal" font-style="normal" textLength="61.36" lengthAdjust="spacingAndGlyphs" stroke="#000" stroke-width="0.12">00:25</text>
<rect x="640.30" y="1479" width="1.6" height="6.5" fill="#111"/>
<text x="609.62" y="1513.70" font-size="26.8" fill="#000" text-anchor="start" font-weight="normal" font-style="normal" textLength="61.36" lengthAdjust="spacingAndGlyphs" stroke="#000" stroke-width="0.12">00:30</text>
<rect x="734.75" y="1479" width="1.6" height="6.5" fill="#111"/>
<text x="704.10" y="1513.70" font-size="26.8" fill="#000" text-anchor="start" font-weight="normal" font-style="normal" textLength="61.36" lengthAdjust="spacingAndGlyphs" stroke="#000" stroke-width="0.12">00:35</text>
<rect x="829.20" y="1479" width="1.6" height="6.5" fill="#111"/>
<text x="798.52" y="1513.70" font-size="26.8" fill="#000" text-anchor="start" font-weight="normal" font-style="normal" textLength="61.36" lengthAdjust="spacingAndGlyphs" stroke="#000" stroke-width="0.12">00:40</text>
<rect x="923.65" y="1479" width="1.6" height="6.5" fill="#111"/>
<text x="893.00" y="1513.70" font-size="26.8" fill="#000" text-anchor="start" font-weight="normal" font-style="normal" textLength="61.36" lengthAdjust="spacingAndGlyphs" stroke="#000" stroke-width="0.12">00:45</text>
<rect x="1018.10" y="1479" width="1.6" height="6.5" fill="#111"/>
<text x="987.42" y="1513.70" font-size="26.8" fill="#000" text-anchor="start" font-weight="normal" font-style="normal" textLength="61.36" lengthAdjust="spacingAndGlyphs" stroke="#000" stroke-width="0.12">00:50</text>
<rect x="1112.55" y="1479" width="1.6" height="6.5" fill="#111"/>
<text x="1081.90" y="1513.70" font-size="26.8" fill="#000" text-anchor="start" font-weight="normal" font-style="normal" textLength="61.36" lengthAdjust="spacingAndGlyphs" stroke="#000" stroke-width="0.12">00:55</text>
<rect x="1207.00" y="1479" width="1.6" height="6.5" fill="#111"/>
<text x="1176.32" y="1513.70" font-size="26.8" fill="#000" text-anchor="start" font-weight="normal" font-style="normal" textLength="61.36" lengthAdjust="spacingAndGlyphs" stroke="#000" stroke-width="0.12">01:00</text>
<text x="627.70" y="1549.00" font-size="26.8" fill="#000" text-anchor="start" font-weight="normal" font-style="italic" textLength="55.68" lengthAdjust="spacingAndGlyphs" stroke="#000" stroke-width="0.12">Time</text>
<text x="37.67" y="914.30" font-size="30.5" fill="#000" text-anchor="start" font-weight="normal" font-style="normal" textLength="17.07" lengthAdjust="spacingAndGlyphs" stroke="#000" stroke-width="0.12">↓</text>
<text x="60.34" y="915.20" font-size="26.6" fill="#d0141c" text-anchor="start" font-weight="normal" font-style="normal" textLength="48.75" lengthAdjust="spacingAndGlyphs" stroke="#d0141c" stroke-width="0.12">22,8</text>
<text x="141.63" y="915.20" font-size="26.6" fill="#000" text-anchor="start" font-weight="normal" font-style="normal" textLength="19.52" lengthAdjust="spacingAndGlyphs" stroke="#000" stroke-width="0.12">Ø</text>
<text x="170.06" y="915.20" font-size="26.6" fill="#d0141c" text-anchor="start" font-weight="normal" font-style="normal" textLength="61.45" lengthAdjust="spacingAndGlyphs" stroke="#d0141c" stroke-width="0.12">36,44</text>
<text x="262.20" y="914.30" font-size="30.5" fill="#000" text-anchor="start" font-weight="normal" font-style="normal" textLength="17.71" lengthAdjust="spacingAndGlyphs" stroke="#000" stroke-width="0.12">↑</text>
<text x="286.07" y="915.20" font-size="26.6" fill="#d0141c" text-anchor="start" font-weight="normal" font-style="normal" textLength="47.71" lengthAdjust="spacingAndGlyphs" stroke="#d0141c" stroke-width="0.12">39,6</text>
<rect x="833" y="888.5" width="8.2" height="32.8" fill="#ff0000"/>
<text x="849.02" y="916.30" font-size="31" fill="#000" text-anchor="start" font-weight="normal" font-style="normal" textLength="384.86" lengthAdjust="spacingAndGlyphs" stroke="#000" stroke-width="0.75">Core Temperatures (avg) [°C]</text>
<rect x="1354" y="954" width="1172" height="523" fill="url(#pg)"/>
<rect x="1354" y="972.75" width="1172" height="1.5" fill="#000"/>
<rect x="1354" y="1021.75" width="1172" height="1.5" fill="#000"/>
<rect x="1354" y="1071.75" width="1172" height="1.5" fill="#000"/>
<rect x="1354" y="1120.75" width="1172" height="1.5" fill="#000"/>
<rect x="1354" y="1169.75" width="1172" height="1.5" fill="#000"/>
<rect x="1354" y="1218.75" width="1172" height="1.5" fill="#000"/>
<rect x="1354" y="1268.75" width="1172" height="1.5" fill="#000"/>
<rect x="1354" y="1317.75" width="1172" height="1.5" fill="#000"/>
<rect x="1354" y="1366.75" width="1172" height="1.5" fill="#000"/>
<rect x="1354" y="1415.75" width="1172" height="1.5" fill="#000"/>
<rect x="1354" y="1465.75" width="1172" height="1.5" fill="#000"/>
<polyline points="1359.8,1469.0 1360.6,1440.0 1361.4,1349.0 1362.0,1340.0 1362.2,984.0 1363.0,984.0 1363.6,975.0 1364.5,959.0 1365.5,957.6 1373.0,957.6 1374.0,960.0 1374.6,1000.0 1375.5,1040.0 1376.6,1055.0 1378.4,1059.3 1380.0,1059.5 2520.6,1059.5" fill="none" stroke="#e80000" stroke-width="3" stroke-linejoin="miter" stroke-miterlimit="3" stroke-linecap="butt"/>
<rect x="1353" y="953" width="1174" height="525" fill="none" stroke="#8e8e8e" stroke-width="2"/>
<rect x="1345.7" y="971.65" width="6.3" height="1.5" fill="#111"/>
<text x="1316.94" y="982.40" font-size="26.8" fill="#000" text-anchor="start" font-weight="normal" font-style="normal" textLength="27.28" lengthAdjust="spacingAndGlyphs" stroke="#000" stroke-width="0.12">24</text>
<rect x="1345.7" y="1021.21" width="6.3" height="1.5" fill="#111"/>
<text x="1317.46" y="1031.96" font-size="26.8" fill="#000" text-anchor="start" font-weight="normal" font-style="normal" textLength="27.28" lengthAdjust="spacingAndGlyphs" stroke="#000" stroke-width="0.12">22</text>
<rect x="1345.7" y="1070.77" width="6.3" height="1.5" fill="#111"/>
<text x="1317.18" y="1081.52" font-size="26.8" fill="#000" text-anchor="start" font-weight="normal" font-style="normal" textLength="27.28" lengthAdjust="spacingAndGlyphs" stroke="#000" stroke-width="0.12">20</text>
<rect x="1345.7" y="1120.33" width="6.3" height="1.5" fill="#111"/>
<text x="1317.29" y="1131.08" font-size="26.8" fill="#000" text-anchor="start" font-weight="normal" font-style="normal" textLength="27.28" lengthAdjust="spacingAndGlyphs" stroke="#000" stroke-width="0.12">18</text>
<rect x="1345.7" y="1169.89" width="6.3" height="1.5" fill="#111"/>
<text x="1317.30" y="1180.64" font-size="26.8" fill="#000" text-anchor="start" font-weight="normal" font-style="normal" textLength="27.28" lengthAdjust="spacingAndGlyphs" stroke="#000" stroke-width="0.12">16</text>
<rect x="1345.7" y="1219.45" width="6.3" height="1.5" fill="#111"/>
<text x="1316.94" y="1230.20" font-size="26.8" fill="#000" text-anchor="start" font-weight="normal" font-style="normal" textLength="27.28" lengthAdjust="spacingAndGlyphs" stroke="#000" stroke-width="0.12">14</text>
<rect x="1345.7" y="1269.01" width="6.3" height="1.5" fill="#111"/>
<text x="1317.46" y="1279.76" font-size="26.8" fill="#000" text-anchor="start" font-weight="normal" font-style="normal" textLength="27.28" lengthAdjust="spacingAndGlyphs" stroke="#000" stroke-width="0.12">12</text>
<rect x="1345.7" y="1318.57" width="6.3" height="1.5" fill="#111"/>
<text x="1317.18" y="1329.32" font-size="26.8" fill="#000" text-anchor="start" font-weight="normal" font-style="normal" textLength="27.28" lengthAdjust="spacingAndGlyphs" stroke="#000" stroke-width="0.12">10</text>
<rect x="1345.7" y="1368.13" width="6.3" height="1.5" fill="#111"/>
<text x="1330.93" y="1378.88" font-size="26.8" fill="#000" text-anchor="start" font-weight="normal" font-style="normal" textLength="13.64" lengthAdjust="spacingAndGlyphs" stroke="#000" stroke-width="0.12">8</text>
<rect x="1345.7" y="1417.69" width="6.3" height="1.5" fill="#111"/>
<text x="1330.94" y="1428.44" font-size="26.8" fill="#000" text-anchor="start" font-weight="normal" font-style="normal" textLength="13.64" lengthAdjust="spacingAndGlyphs" stroke="#000" stroke-width="0.12">6</text>
<rect x="1345.7" y="1467.25" width="6.3" height="1.5" fill="#111"/>
<text x="1330.58" y="1478.00" font-size="26.8" fill="#000" text-anchor="start" font-weight="normal" font-style="normal" textLength="13.64" lengthAdjust="spacingAndGlyphs" stroke="#000" stroke-width="0.12">4</text>
<rect x="1358.70" y="1479" width="1.6" height="6.5" fill="#111"/>
<text x="1328.02" y="1513.70" font-size="26.8" fill="#000" text-anchor="start" font-weight="normal" font-style="normal" textLength="61.36" lengthAdjust="spacingAndGlyphs" stroke="#000" stroke-width="0.12">00:00</text>
<rect x="1453.15" y="1479" width="1.6" height="6.5" fill="#111"/>
<text x="1422.50" y="1513.70" font-size="26.8" fill="#000" text-anchor="start" font-weight="normal" font-style="normal" textLength="61.36" lengthAdjust="spacingAndGlyphs" stroke="#000" stroke-width="0.12">00:05</text>
<rect x="1547.60" y="1479" width="1.6" height="6.5" fill="#111"/>
<text x="1516.92" y="1513.70" font-size="26.8" fill="#000" text-anchor="start" font-weight="normal" font-style="normal" textLength="61.36" lengthAdjust="spacingAndGlyphs" stroke="#000" stroke-width="0.12">00:10</text>
<rect x="1642.05" y="1479" width="1.6" height="6.5" fill="#111"/>
<text x="1611.40" y="1513.70" font-size="26.8" fill="#000" text-anchor="start" font-weight="normal" font-style="normal" textLength="61.36" lengthAdjust="spacingAndGlyphs" stroke="#000" stroke-width="0.12">00:15</text>
<rect x="1736.50" y="1479" width="1.6" height="6.5" fill="#111"/>
<text x="1705.82" y="1513.70" font-size="26.8" fill="#000" text-anchor="start" font-weight="normal" font-style="normal" textLength="61.36" lengthAdjust="spacingAndGlyphs" stroke="#000" stroke-width="0.12">00:20</text>
<rect x="1830.95" y="1479" width="1.6" height="6.5" fill="#111"/>
<text x="1800.30" y="1513.70" font-size="26.8" fill="#000" text-anchor="start" font-weight="normal" font-style="normal" textLength="61.36" lengthAdjust="spacingAndGlyphs" stroke="#000" stroke-width="0.12">00:25</text>
<rect x="1925.40" y="1479" width="1.6" height="6.5" fill="#111"/>
<text x="1894.72" y="1513.70" font-size="26.8" fill="#000" text-anchor="start" font-weight="normal" font-style="normal" textLength="61.36" lengthAdjust="spacingAndGlyphs" stroke="#000" stroke-width="0.12">00:30</text>
<rect x="2019.85" y="1479" width="1.6" height="6.5" fill="#111"/>
<text x="1989.20" y="1513.70" font-size="26.8" fill="#000" text-anchor="start" font-weight="normal" font-style="normal" textLength="61.36" lengthAdjust="spacingAndGlyphs" stroke="#000" stroke-width="0.12">00:35</text>
<rect x="2114.30" y="1479" width="1.6" height="6.5" fill="#111"/>
<text x="2083.62" y="1513.70" font-size="26.8" fill="#000" text-anchor="start" font-weight="normal" font-style="normal" textLength="61.36" lengthAdjust="spacingAndGlyphs" stroke="#000" stroke-width="0.12">00:40</text>
<rect x="2208.75" y="1479" width="1.6" height="6.5" fill="#111"/>
<text x="2178.10" y="1513.70" font-size="26.8" fill="#000" text-anchor="start" font-weight="normal" font-style="normal" textLength="61.36" lengthAdjust="spacingAndGlyphs" stroke="#000" stroke-width="0.12">00:45</text>
<rect x="2303.20" y="1479" width="1.6" height="6.5" fill="#111"/>
<text x="2272.52" y="1513.70" font-size="26.8" fill="#000" text-anchor="start" font-weight="normal" font-style="normal" textLength="61.36" lengthAdjust="spacingAndGlyphs" stroke="#000" stroke-width="0.12">00:50</text>
<rect x="2397.65" y="1479" width="1.6" height="6.5" fill="#111"/>
<text x="2367.00" y="1513.70" font-size="26.8" fill="#000" text-anchor="start" font-weight="normal" font-style="normal" textLength="61.36" lengthAdjust="spacingAndGlyphs" stroke="#000" stroke-width="0.12">00:55</text>
<rect x="2492.10" y="1479" width="1.6" height="6.5" fill="#111"/>
<text x="2461.42" y="1513.70" font-size="26.8" fill="#000" text-anchor="start" font-weight="normal" font-style="normal" textLength="61.36" lengthAdjust="spacingAndGlyphs" stroke="#000" stroke-width="0.12">01:00</text>
<text x="1912.70" y="1549.00" font-size="26.8" fill="#000" text-anchor="start" font-weight="normal" font-style="italic" textLength="55.68" lengthAdjust="spacingAndGlyphs" stroke="#000" stroke-width="0.12">Time</text>
<text x="1322.67" y="914.30" font-size="30.5" fill="#000" text-anchor="start" font-weight="normal" font-style="normal" textLength="17.07" lengthAdjust="spacingAndGlyphs" stroke="#000" stroke-width="0.12">↓</text>
<text x="1345.79" y="915.20" font-size="26.6" fill="#d0141c" text-anchor="start" font-weight="normal" font-style="normal" textLength="59.67" lengthAdjust="spacingAndGlyphs" stroke="#d0141c" stroke-width="0.12">3,801</text>
<text x="1440.84" y="915.20" font-size="26.6" fill="#000" text-anchor="start" font-weight="normal" font-style="normal" textLength="19.30" lengthAdjust="spacingAndGlyphs" stroke="#000" stroke-width="0.12">Ø</text>
<text x="1468.36" y="915.20" font-size="26.6" fill="#d0141c" text-anchor="start" font-weight="normal" font-style="normal" textLength="61.67" lengthAdjust="spacingAndGlyphs" stroke="#d0141c" stroke-width="0.12">20,45</text>
<text x="1561.67" y="914.30" font-size="30.5" fill="#000" text-anchor="start" font-weight="normal" font-style="normal" textLength="17.07" lengthAdjust="spacingAndGlyphs" stroke="#000" stroke-width="0.12">↑</text>
<text x="1584.36" y="915.20" font-size="26.6" fill="#d0141c" text-anchor="start" font-weight="normal" font-style="normal" textLength="61.70" lengthAdjust="spacingAndGlyphs" stroke="#d0141c" stroke-width="0.12">24,60</text>
<rect x="2182" y="888.3" width="8.2" height="32.8" fill="#ff0000"/>
<text x="2197.74" y="916.40" font-size="31" fill="#000" text-anchor="start" font-weight="normal" font-style="normal" textLength="321.61" lengthAdjust="spacingAndGlyphs" stroke="#000" stroke-width="0.75">CPU Package Power [W]</text>
</svg>
</body></html>
